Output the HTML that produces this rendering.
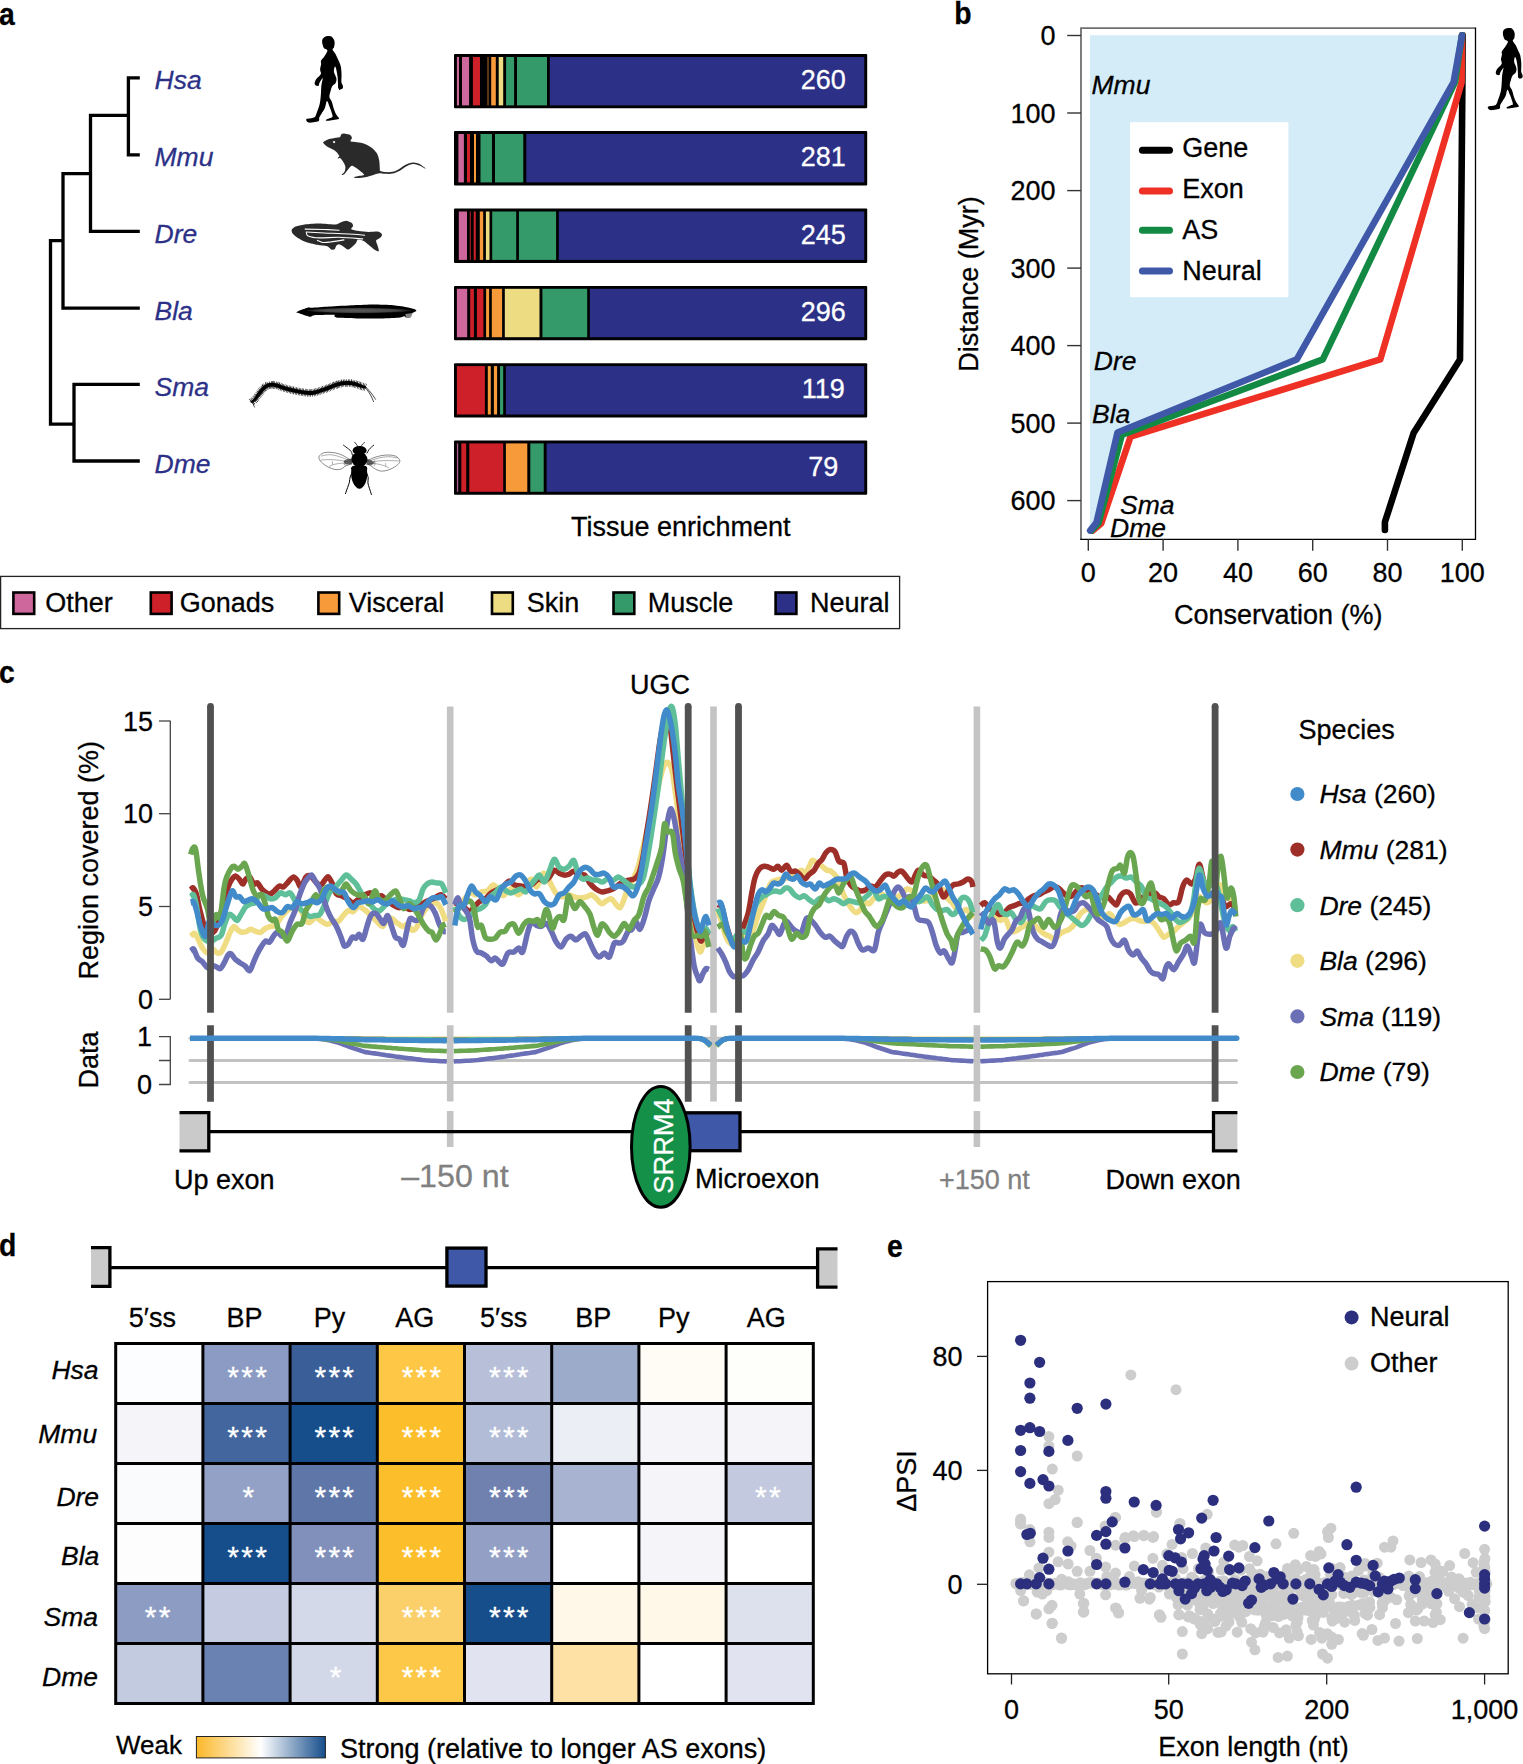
<!DOCTYPE html>
<html lang="en"><head><meta charset="utf-8"><title>Figure</title>
<style>
html,body{margin:0;padding:0;background:#fff;}
body{width:1523px;height:1764px;overflow:hidden;}
svg{display:block;font-family:"Liberation Sans", sans-serif;}
text{stroke-width:.28px;}
</style></head><body>
<svg width="1523" height="1764" viewBox="0 0 1523 1764">
<rect width="1523" height="1764" fill="#fff"/>
<g id="panel-a">
<text transform="translate(-1,24.5) scale(0.9,1)" font-size="31.5" font-weight="bold" stroke="#000">a</text>
<path d="M139.8,77.9H128.4V154.9H139.8M128.4,115.4H90.5V231.4H139.8M90.5,173.7H63V308.1H139.8M63,240.7H50.5V424.2H74M139.8,384.3H74V461H139.8" fill="none" stroke="#000" stroke-width="3.3" stroke-linejoin="miter"/>
<text x="154.5" y="89.1" font-size="26.5" font-style="italic" fill="#2C3187" stroke="#2C3187">Hsa</text>
<text x="154.5" y="166.1" font-size="26.5" font-style="italic" fill="#2C3187" stroke="#2C3187">Mmu</text>
<text x="154.5" y="243.1" font-size="26.5" font-style="italic" fill="#2C3187" stroke="#2C3187">Dre</text>
<text x="154.5" y="319.6" font-size="26.5" font-style="italic" fill="#2C3187" stroke="#2C3187">Bla</text>
<text x="154.5" y="395.6" font-size="26.5" font-style="italic" fill="#2C3187" stroke="#2C3187">Sma</text>
<text x="154.5" y="472.5" font-size="26.5" font-style="italic" fill="#2C3187" stroke="#2C3187">Dme</text>
<rect x="454" y="54" width="413.2" height="54.3" rx="1" fill="#000"/>
<rect x="456.9" y="57" width="2.1" height="48.4" fill="#CE679C"/>
<rect x="462" y="57" width="7.1" height="48.4" fill="#CE679C"/>
<rect x="472.9" y="57" width="7.1" height="48.4" fill="#CE2028"/>
<rect x="487" y="57" width="2" height="48.4" fill="#5A3512"/>
<rect x="491.2" y="57" width="4.6" height="48.4" fill="#F79A3A"/>
<rect x="498.7" y="57" width="4.5" height="48.4" fill="#EEDC82"/>
<rect x="506.1" y="57" width="8" height="48.4" fill="#359A69"/>
<rect x="517" y="57" width="30" height="48.4" fill="#359A69"/>
<rect x="549.8" y="57" width="314.5" height="48.4" fill="#2C3187"/>
<text x="823.3" y="89.2" font-size="27" text-anchor="middle" fill="#fff" stroke="#fff">260</text>
<rect x="454" y="131.1" width="413.2" height="54.3" rx="1" fill="#000"/>
<rect x="458.4" y="134" width="5.5" height="48.4" fill="#CE679C"/>
<rect x="467" y="134" width="3" height="48.4" fill="#CE2028"/>
<rect x="474" y="134" width="2" height="48.4" fill="#F79A3A"/>
<rect x="480.5" y="134" width="11.5" height="48.4" fill="#359A69"/>
<rect x="495" y="134" width="28.3" height="48.4" fill="#359A69"/>
<rect x="526.3" y="134" width="338" height="48.4" fill="#2C3187"/>
<text x="823.3" y="166.3" font-size="27" text-anchor="middle" fill="#fff" stroke="#fff">281</text>
<rect x="454" y="208.6" width="413.2" height="54.3" rx="1" fill="#000"/>
<rect x="458.8" y="211.5" width="8.2" height="48.4" fill="#CE679C"/>
<rect x="469.7" y="211.5" width="1.3" height="48.4" fill="#8E1B1B"/>
<rect x="473.7" y="211.5" width="2.1" height="48.4" fill="#CE2028"/>
<rect x="479.8" y="211.5" width="3.4" height="48.4" fill="#F79A3A"/>
<rect x="485.9" y="211.5" width="3.6" height="48.4" fill="#EEDC82"/>
<rect x="492.2" y="211.5" width="24" height="48.4" fill="#359A69"/>
<rect x="518.9" y="211.5" width="37.2" height="48.4" fill="#359A69"/>
<rect x="558.8" y="211.5" width="305.5" height="48.4" fill="#2C3187"/>
<text x="823.3" y="243.8" font-size="27" text-anchor="middle" fill="#fff" stroke="#fff">245</text>
<rect x="454" y="285.9" width="413.2" height="54.3" rx="1" fill="#000"/>
<rect x="456.9" y="288.8" width="10.3" height="48.4" fill="#CE679C"/>
<rect x="470.2" y="288.8" width="3.7" height="48.4" fill="#CE2028"/>
<rect x="476.9" y="288.8" width="6.5" height="48.4" fill="#CE2028"/>
<rect x="486.1" y="288.8" width="3" height="48.4" fill="#F79A3A"/>
<rect x="491.8" y="288.8" width="10.3" height="48.4" fill="#F79A3A"/>
<rect x="504.8" y="288.8" width="34.7" height="48.4" fill="#EEDC82"/>
<rect x="542.4" y="288.8" width="44.8" height="48.4" fill="#359A69"/>
<rect x="589.9" y="288.8" width="274.4" height="48.4" fill="#2C3187"/>
<text x="823.3" y="321.1" font-size="27" text-anchor="middle" fill="#fff" stroke="#fff">296</text>
<rect x="454" y="363.2" width="413.2" height="54.3" rx="1" fill="#000"/>
<rect x="456.9" y="366.1" width="28" height="48.4" fill="#CE2028"/>
<rect x="487.8" y="366.1" width="3" height="48.4" fill="#F79A3A"/>
<rect x="493.9" y="366.1" width="3.2" height="48.4" fill="#F79A3A"/>
<rect x="500" y="366.1" width="3.2" height="48.4" fill="#359A69"/>
<rect x="505.9" y="366.1" width="358.4" height="48.4" fill="#2C3187"/>
<text x="823.3" y="398.4" font-size="27" text-anchor="middle" fill="#fff" stroke="#fff">119</text>
<rect x="454" y="440.5" width="413.2" height="54.3" rx="1" fill="#000"/>
<rect x="456.9" y="443.4" width="1.3" height="48.4" fill="#B05A8C"/>
<rect x="461.3" y="443.4" width="4.9" height="48.4" fill="#CE2028"/>
<rect x="469.3" y="443.4" width="33.9" height="48.4" fill="#CE2028"/>
<rect x="505.9" y="443.4" width="21.4" height="48.4" fill="#F79A3A"/>
<rect x="530.3" y="443.4" width="13.4" height="48.4" fill="#359A69"/>
<rect x="546.6" y="443.4" width="317.7" height="48.4" fill="#2C3187"/>
<text x="823.3" y="475.7" font-size="27" text-anchor="middle" fill="#fff" stroke="#fff">79</text>
<text x="571" y="535.7" font-size="27" stroke="#000">Tissue enrichment</text>
<rect x="0.6" y="576.4" width="899" height="52.2" fill="#fff" stroke="#222" stroke-width="1.3"/>
<rect x="13.4" y="592.5" width="20.8" height="21.4" fill="#CE679C" stroke="#000" stroke-width="2.6"/>
<text x="45.3" y="611.5" font-size="27" stroke="#000">Other</text>
<rect x="150.8" y="592.5" width="20.8" height="21.4" fill="#CE2028" stroke="#000" stroke-width="2.6"/>
<text x="179.7" y="611.5" font-size="27" stroke="#000">Gonads</text>
<rect x="318.4" y="592.5" width="20.8" height="21.4" fill="#F79A3A" stroke="#000" stroke-width="2.6"/>
<text x="348.8" y="611.5" font-size="27" stroke="#000">Visceral</text>
<rect x="492" y="592.5" width="20.8" height="21.4" fill="#EEDC82" stroke="#000" stroke-width="2.6"/>
<text x="526.7" y="611.5" font-size="27" stroke="#000">Skin</text>
<rect x="613.5" y="592.5" width="20.8" height="21.4" fill="#359A69" stroke="#000" stroke-width="2.6"/>
<text x="647.8" y="611.5" font-size="27" stroke="#000">Muscle</text>
<rect x="775.6" y="592.5" width="20.8" height="21.4" fill="#2C3187" stroke="#000" stroke-width="2.6"/>
<text x="810" y="611.5" font-size="27" stroke="#000">Neural</text>
</g>
<g id="silhouettes-a"><path d="M327.9,36.1C329.1,36.1 330.8,36 331.9,36.9C333,37.8 334.2,39.6 334.5,41.3C334.9,43.1 334.4,45.9 334,47.2C333.7,48.6 332.3,48.4 332.5,49.5C332.8,50.7 334.6,52.4 335.5,54.1C336.5,55.9 337.4,58.2 338.3,60C339.1,61.8 339.9,63.1 340.4,65C341,66.9 341.2,69.3 341.4,71.4C341.6,73.4 341.5,75.5 341.5,77.3C341.5,79.1 341.2,80.8 341.4,82.2C341.6,83.6 342.6,84.6 342.8,85.6C343,86.7 343.1,87.7 342.7,88.3C342.3,88.9 341.2,89.4 340.4,89.4C339.7,89.4 338.7,89.3 338.3,88.3C337.9,87.3 338.1,85.2 338,83.2C337.8,81.2 337.8,78.6 337.5,76.3C337.2,74 336.7,71 336.3,69.4C335.9,67.8 335.3,66.3 334.9,66.6C334.5,67 333.8,69.8 333.9,71.4C334,72.9 335.1,74.5 335.5,75.8C335.9,77.1 336.5,78 336.5,79.2C336.5,80.5 336.2,82 335.5,83.2C334.8,84.3 333.2,84.8 332.4,86.1C331.5,87.5 331.1,89.3 330.6,91.1C330.1,92.9 329.2,95.2 329.4,97C329.6,98.8 331.1,99.9 331.9,101.9C332.6,103.9 333.2,106.8 333.8,108.8C334.5,110.8 335.1,112.3 335.8,113.7C336.5,115.1 337.8,116.3 338.3,117.2C338.7,118.1 339.5,118.6 338.7,119.1C337.8,119.6 335.3,119.8 333.3,120.1C331.4,120.4 328.1,120.9 326.9,120.8C325.7,120.8 325.6,120.3 326,119.8C326.5,119.4 328.3,118.7 329.4,118.2C330.5,117.6 332.2,117.7 332.5,116.7C332.9,115.6 331.9,113.5 331.4,111.7C330.8,110 330.1,108.1 329.4,106.3C328.7,104.6 327.7,100.9 326.9,101.1C326.2,101.4 325.9,105.7 325,107.8C324.1,109.9 322.5,112.1 321.5,113.7C320.6,115.3 319.7,116.2 319.3,117.5C318.8,118.7 319.7,120.3 318.8,121.1C317.8,121.9 315.3,121.9 313.6,122.2C312,122.4 309.9,122.9 308.7,122.6C307.5,122.3 306.6,121 306.3,120.4C306.1,119.8 306.1,119.2 306.9,118.8C307.7,118.5 309.9,118.4 311.2,118.2C312.5,117.9 313.8,118.1 314.8,117.1C315.8,116 316.2,114 317.1,111.7C317.9,109.5 319.2,106.3 319.8,103.4C320.5,100.4 320.7,96.8 320.9,94C321.2,91.2 321,89.3 321.3,86.6C321.6,84 322.7,79.4 322.7,78.3C322.7,77.1 321.9,78.9 321.3,79.7C320.7,80.6 319.7,82.2 319.3,83.2C318.8,84.2 319.1,85.4 318.6,85.7C318,86.1 316.5,85.8 315.8,85.4C315.1,84.9 314.6,84.2 314.6,83.2C314.7,82.2 315.2,80.6 316,79.4C316.8,78.2 318.5,77 319.4,76C320.2,75 320.9,74.4 321,73.3C321.2,72.2 320.1,71 320.1,69.4C320.2,67.8 321,65.4 321.1,64C321.3,62.5 320.5,62 321,60.7C321.6,59.5 323.2,57.9 324.3,56.4C325.3,54.9 326.8,52.6 327.2,51.5C327.7,50.4 327.4,50.2 326.8,49.7C326.3,49.2 324.8,49.2 324.1,48.3C323.4,47.4 322.8,45.7 322.5,44.3C322.2,42.8 321.9,40.9 322.3,39.7C322.7,38.4 323.7,37.5 324.7,36.9C325.6,36.3 326.7,36.1 327.9,36.1Z" fill="#000"/><path d="M323.3,142.1C324,141.3 326.2,140.1 328.4,139.3C330.6,138.6 334.4,138 336.3,137.7C338.2,137.3 339.2,137.5 340,137C340.9,136.5 340.6,135.2 341.2,134.6C341.8,134 342.8,133.7 343.7,133.6C344.6,133.5 345.6,133.9 346.6,134.1C347.7,134.3 349.2,134.4 350.1,135C351,135.6 351.8,136.8 351.9,137.8C352,138.9 349.8,140.6 350.7,141.3C351.5,142 354.6,141.9 357,142.3C359.3,142.7 362.4,143 364.9,143.9C367.3,144.8 369.8,146.2 371.7,147.7C373.7,149.2 375.4,151.1 376.7,153.1C377.9,155.2 378.6,157.5 379.1,160C379.7,162.5 379.6,166.1 379.8,167.9C380,169.7 379.4,170.2 380.2,170.8C381,171.5 382.5,171.9 384.6,172C386.6,172.2 390.1,172.3 392.4,171.8C394.7,171.4 396.2,170.5 398.3,169.4C400.5,168.2 402.8,166.1 405.2,164.9C407.7,163.8 410.7,162.7 413.1,162.6C415.6,162.5 417.9,163.3 420,164.3C422.1,165.4 426.1,168.7 425.9,168.9C425.8,169.1 421.4,166.4 419.2,165.6C417.1,164.8 415.3,163.8 413.1,164C410.9,164.1 408.5,165.3 406.2,166.5C403.9,167.7 401.6,169.9 399.3,171C397,172.2 394.9,173.1 392.4,173.6C390,174.1 386.9,173.8 384.6,173.8C382.3,173.8 380.8,173.1 378.6,173.4C376.5,173.7 374,174.7 371.7,175.4C369.5,176 367,176.9 364.9,177.3C362.7,177.8 360.7,177.9 358.9,177.9C357.2,178 355.3,177.9 354.5,177.7C353.7,177.6 353.5,177.2 354.2,177C355,176.7 357.3,176.3 358.9,176C360.6,175.6 364.1,175.8 364.1,174.8C364.1,173.8 360.8,171.3 358.9,169.9C357.1,168.4 354.5,166.4 353,165.9C351.6,165.5 351.2,166.1 350.1,167.1C348.9,168.1 347.2,170.8 346.1,172C345.1,173.3 344.4,174.2 343.7,174.6C342.9,175 341.6,175 341.7,174.6C341.8,174.1 343.9,173.1 344.5,171.8C345.1,170.5 345.5,168.5 345.4,166.9C345.2,165.3 344.2,163.6 343.4,162.2C342.6,160.7 341.3,158.8 340.4,158.2C339.5,157.6 338.2,158.8 337.9,158.6C337.5,158.5 338,157.6 338.3,157.2C338.5,156.7 339.7,157 339.4,156.2C339.1,155.3 337.5,153.2 336.5,152.1C335.5,151 334.8,150.6 333.3,149.7C331.8,148.8 329,147.8 327.4,146.8C325.9,145.8 324.8,144.6 324.1,143.9C323.4,143.1 322.6,142.8 323.3,142.1Z" fill="#2a2a2a"/><circle cx="334.1" cy="142.1" r="1.1" fill="#fff"/><path d="M291.8,229.5C292.3,228.7 294.1,227.2 295.8,226.6C297.5,225.9 301.5,225 304.6,224.6C307.8,224.2 315.3,223.6 319.4,223.6C323.5,223.6 332.3,224.8 335.2,224.6C338,224.4 339.5,222.7 341.1,222.2C342.6,221.7 345.5,220.7 347,220.9C348.4,221 351.1,222.4 351.9,223.1C352.7,223.8 353.1,225.3 353.1,226.1C353,226.9 350.6,228.6 351.4,229.3C352.2,229.9 356.5,230.7 358.8,231C361.1,231.4 366,231.9 368.6,232C371.3,232.1 376.7,231.4 378.5,231.7C380.3,232 381.8,233.7 382,234.5C382.3,235.2 381.3,236.6 380.5,237.4C379.7,238.2 376.5,239.3 376.1,240.4C375.7,241.4 377.2,243.9 377.5,245.3C377.9,246.8 379.2,250.6 378.8,251.2C378.4,251.8 375.9,250.6 374.6,249.7C373.2,248.9 370.1,246 368.6,244.8C367.2,243.6 365.2,241.6 363.7,240.9C362.3,240.2 358.9,239.3 357.8,239.6C356.8,239.9 357.1,242 355.8,243.3C354.6,244.7 350,249.1 348.5,249.5C346.9,250 345.3,247.6 344,246.9C342.8,246.2 340.1,244.5 339.1,244.3C338.1,244.2 336.9,245.1 336.3,245.8C335.7,246.5 335.3,248.7 334.7,249.2C334,249.7 332.2,249.9 331.2,249.5C330.2,249.1 329.1,246.9 327.3,246.3C325.4,245.7 320.4,245.5 317.4,244.8C314.4,244.2 307.5,242.5 304.6,241.4C301.7,240.3 297.4,237.6 295.8,236.4C294.1,235.3 292.8,233.9 292.3,233C291.8,232.1 291.4,230.4 291.8,229.5Z" fill="#2a2a2a"/><path d="M305.1,229.1C308.3,229.1 318.7,229.3 324.3,229.5C330,229.8 336.6,230.2 339.1,230.3" fill="none" stroke="#fff" stroke-width="1.1" stroke-linecap="round"/><path d="M306.1,232C309.1,232.2 317.2,232.7 324.3,233C331.5,233.3 342.2,233.6 348.9,234C355.7,234.4 362.1,235 364.7,235.3" fill="none" stroke="#fff" stroke-width="1.1" stroke-linecap="round"/><path d="M306.4,232.7C306.7,233.2 305.9,235.1 308.1,235.9C310.2,236.8 314.2,237.7 319.4,237.9C324.6,238.1 331.9,237.1 339.1,237.2C346.3,237.4 358.8,238.6 362.7,238.9" fill="none" stroke="#fff" stroke-width="1.1" stroke-linecap="round"/><path d="M317.4,240.4C318.2,240.7 320.1,242.1 322.4,242.4C324.7,242.6 327.6,242.3 331.2,241.9C334.8,241.4 341.9,240.2 344,239.9" fill="none" stroke="#fff" stroke-width="1.1" stroke-linecap="round"/><path d="M296.3,312.3C296.6,311.8 301.2,309.9 302.7,309.3C304.1,308.8 307.5,307.5 308.6,307.4C309.6,307.2 309.1,307.9 311.5,307.8C313.9,307.6 324.3,306.8 329.2,306.5C334.2,306.2 348.7,305.4 353.9,305.2C359,305 369,304.5 373.6,304.5C378.2,304.5 389.2,304.9 393.3,305.2C397.3,305.5 405.5,306.9 408,307.4C410.6,307.8 414,308.9 414.9,309.3C415.9,309.8 416.5,310.8 416.4,311.1C416.3,311.4 414.4,312 414,312.3C413.5,312.5 412.6,312.7 412.2,313.3C411.7,313.8 410.9,316.7 410.2,317.2C409.5,317.7 407,317.9 406.3,317.8C405.6,317.7 405.2,316.2 404.3,316.2C403.4,316.2 401.2,317.4 398.2,317.7C395.2,318 383.1,318.4 378.5,318.5C373.9,318.6 363.4,318.6 358.8,318.5C354.2,318.4 341.9,318 339.1,317.8C336.2,317.6 335,316.8 334.4,316.4C333.7,316.1 336.1,315 333.8,314.8C331.5,314.7 317.2,315 314.5,315.2C311.8,315.5 311.5,316.7 310.5,316.8C309.6,316.9 307.9,316.2 306.6,315.8C305.3,315.4 300.9,313.8 299.7,313.4C298.5,313 295.9,312.8 296.3,312.3Z" fill="#000"/><defs><radialGradient id="ag"><stop offset="0" stop-color="#5a5a5a"/><stop offset="0.7" stop-color="#484848"/><stop offset="1" stop-color="#111"/></radialGradient></defs><ellipse cx="358.8" cy="310.5" rx="52.2" ry="2.7" fill="url(#ag)"/><path d="M405.3,314.1L412.8,313.1L410.8,317.8L406.1,318.1Z" fill="#9a9a9a" opacity="0.85"/><path d="M251.4,402.2L251.8,401.9L252.4,401.5L253,401.1L253.7,400.6L254.4,399.9L255.1,399.2L255.8,398.4L256.6,397.4L257.4,396.3L258.1,395.1L258.9,394L259.7,393L260.5,392L261.2,391L261.9,390.1L262.7,389.2L263.5,388.4L264.3,387.6L265.2,387L266,386.4L266.9,385.9L267.9,385.5L268.8,385.1L269.8,384.9L270.8,384.7L271.9,384.7L272.9,384.7L274,384.9L275.1,385L276.3,385.3L277.4,385.6L278.6,386L279.8,386.5L281,387L282.3,387.5L283.6,387.9L285,388.3L286.5,388.7L288.1,389.1L289.7,389.5L291.2,389.9L292.8,390.2L294.3,390.6L295.9,390.9L297.4,391.2L298.9,391.5L300.5,391.8L302,392.1L303.5,392.3L305.1,392.6L306.6,392.8L308.1,392.9L309.7,393L311.2,393L312.7,392.8L314.2,392.5L315.8,392.1L317.3,391.7L318.8,391.2L320.4,390.8L321.9,390.3L323.5,389.7L325,389.2L326.6,388.6L328.1,388L329.6,387.5L331,386.9L332.4,386.3L333.8,385.8L335.1,385.2L336.5,384.8L337.8,384.3L339.2,384L340.6,383.7L342,383.4L343.4,383.2L344.8,383.1L346.1,383L347.4,382.9L348.7,383L349.9,383.1L351.1,383.2L352.3,383.4L353.5,383.6L354.6,383.9L355.7,384.2L356.8,384.5L357.8,384.9L358.9,385.3L359.9,385.6L361,386L362.1,386.3L363.2,386.7L364.1,387L365,387.3L365.6,387.5" fill="none" stroke="#000" stroke-width="7.6" stroke-dasharray="0.55 0.95"/><path d="M252,402.9L252.4,402.7L253,402.4L253.7,402L254.5,401.5L255.3,400.9L256.2,400.2L257,399.3L257.9,398.3L258.7,397.2L259.6,396.1L260.4,395.1L261.2,394.1L262,393.2L262.7,392.2L263.4,391.3L264.1,390.5L264.8,389.7L265.5,389.1L266.3,388.6L267,388L267.8,387.6L268.6,387.2L269.4,387L270.2,386.8L271,386.6L271.9,386.6L272.8,386.6L273.8,386.7L274.8,386.9L275.8,387.1L276.8,387.4L277.9,387.8L279,388.2L280.3,388.7L281.6,389.3L283,389.7L284.5,390.2L286.1,390.6L287.6,391L289.2,391.4L290.8,391.7L292.4,392.1L293.9,392.4L295.5,392.8L297,393.1L298.6,393.4L300.1,393.7L301.7,393.9L303.2,394.2L304.8,394.4L306.3,394.7L308,394.8L309.6,394.9L311.3,394.9L313,394.7L314.6,394.4L316.3,394L317.8,393.5L319.4,393.1L320.9,392.6L322.5,392.1L324.1,391.5L325.7,391L327.2,390.4L328.8,389.8L330.2,389.2L331.7,388.7L333.1,388.1L334.5,387.5L335.8,387L337.1,386.6L338.4,386.2L339.7,385.8L341,385.5L342.3,385.3L343.7,385.1L345,384.9L346.2,384.9L347.4,384.8L348.6,384.9L349.7,385L350.9,385.1L352,385.3L353.1,385.5L354.1,385.7L355.1,386L356.2,386.3L357.3,386.6L358.3,386.9L359.4,387.1L360.5,387.4L361.6,387.7L362.7,388L363.8,388.2L364.6,388.4L365.3,388.5L365.9,386.4L365.4,386.1L364.5,385.8L363.6,385.4L362.5,385L361.4,384.5L360.4,384.1L359.4,383.7L358.4,383.3L357.4,382.8L356.3,382.4L355.1,382L353.8,381.7L352.6,381.5L351.4,381.3L350.1,381.2L348.8,381.1L347.4,381L346,381.1L344.6,381.2L343.2,381.3L341.7,381.5L340.3,381.8L338.8,382.1L337.3,382.5L335.9,383L334.4,383.5L333,384L331.7,384.6L330.3,385.1L328.9,385.7L327.4,386.2L325.9,386.8L324.4,387.4L322.8,388L321.3,388.5L319.8,389L318.3,389.4L316.8,389.9L315.3,390.3L313.8,390.7L312.4,390.9L311.1,391.1L309.7,391.1L308.3,391L306.8,390.9L305.3,390.7L303.8,390.4L302.3,390.2L300.8,389.9L299.3,389.7L297.8,389.4L296.3,389L294.7,388.7L293.2,388.4L291.7,388L290.1,387.7L288.5,387.3L287,386.9L285.5,386.5L284.2,386.1L282.9,385.7L281.7,385.2L280.5,384.7L279.2,384.2L278,383.8L276.7,383.4L275.5,383.2L274.3,383L273.1,382.8L271.9,382.8L270.6,382.9L269.4,383L268.3,383.3L267.2,383.7L266.1,384.2L265.1,384.8L264.1,385.5L263.1,386.2L262.2,387L261.3,387.9L260.5,388.9L259.7,389.9L259,390.8L258.2,391.8L257.4,392.9L256.7,394.1L256,395.3L255.3,396.4L254.6,397.4L254.1,398.3L253.5,399L252.9,399.6L252.3,400.2L251.7,400.6L251.3,401.1L250.9,401.4Z" fill="#000" stroke="#000" stroke-width="0.4" stroke-linejoin="round"/><path d="M365,387.3C365.8,388.4 368.6,391.6 370,394.1C371.5,396.5 373.1,400.6 373.7,401.9" fill="none" stroke="#111" stroke-width="0.8"/><path d="M365.9,386.9C366.9,388.1 370.2,391.8 371.8,393.9C373.5,396 375.1,398.6 375.7,399.6" fill="none" stroke="#111" stroke-width="0.8"/><path d="M253.1,402.4C253.2,402.8 253.4,404.1 253.6,404.9C253.9,405.8 254.6,407 254.7,407.4" fill="none" stroke="#111" stroke-width="0.8"/><path d="M252.2,402.4C252,402.4 251.2,402.5 250.9,402.4C250.5,402.2 250.3,401.7 250.1,401.5" fill="none" stroke="#111" stroke-width="0.8"/><path d="M352,461.3C351.4,460.2 348.8,458.9 346.8,457.7C344.7,456.4 342.1,454.9 339.5,454C337,453.2 334.2,452.6 331.7,452.4C329.2,452.2 326.4,452.1 324.4,452.6C322.5,453.1 320.7,454.3 319.8,455.4C319,456.4 318.6,457.5 319.1,458.8C319.5,460.1 320.9,461.8 322.5,463.2C324,464.6 326.3,466.1 328.4,467.2C330.5,468.2 332.9,469.1 335,469.5C337,469.8 339.1,469.7 340.9,469.1C342.6,468.6 343.8,466.9 345.5,466C347.1,465.1 349.6,464.7 350.7,463.9C351.8,463.1 352.7,462.3 352,461.3Z" fill="#fff" stroke="#2a2a2a" stroke-width="0.55"/><path d="M367.1,461.3C368,460.3 370.7,458.9 373,458C375.3,457.1 378.3,456.2 380.9,455.7C383.5,455.2 386.4,455 388.8,455C391.2,455.1 393.6,455.3 395.4,456C397.1,456.7 398.6,458.2 399.3,459.3C400,460.4 400.1,461.4 399.4,462.6C398.8,463.8 397.1,465.3 395.4,466.5C393.6,467.7 391.1,469 388.8,469.8C386.5,470.6 383.8,471.2 381.6,471.1C379.4,471 377.4,470.1 375.7,469.3C373.9,468.4 372.4,466.9 371.1,466C369.8,465.1 368.4,464.7 367.8,463.9C367.1,463.1 366.2,462.2 367.1,461.3Z" fill="#fff" stroke="#2a2a2a" stroke-width="0.55"/><path d="M351.4,461.6C349.4,460.8 343.2,457.8 339.5,456.7C335.9,455.5 332.8,454.8 329.7,454.7C326.6,454.6 322.6,455.8 321.2,456" fill="none" stroke="#333" stroke-width="0.4"/><path d="M351,462.2C349.1,461.9 343.1,460.7 339.5,460.3C336,459.8 332.9,459.7 329.7,459.6C326.5,459.6 322,459.9 320.5,460" fill="none" stroke="#333" stroke-width="0.4"/><path d="M350.7,463.1C349.2,463.1 344.4,463 341.5,463.2C338.7,463.5 335.7,464 333.6,464.5C331.6,465.1 329.8,466.2 329,466.5" fill="none" stroke="#333" stroke-width="0.4"/><path d="M332.3,461.3C332.4,461.8 332.6,464 332.7,464.5" fill="none" stroke="#333" stroke-width="0.4"/><path d="M345.5,460C345.2,460.6 344.1,462.9 344.1,463.9C344.1,464.9 345.2,465.5 345.5,465.9" fill="none" stroke="#333" stroke-width="0.4"/><path d="M367.8,461.6C369.6,461 375.4,458.8 378.9,458C382.4,457.2 385.6,456.7 388.8,456.7C392,456.7 396.5,457.8 398,458" fill="none" stroke="#333" stroke-width="0.4"/><path d="M368.1,462.4C369.9,462.2 375.5,461.2 378.9,460.9C382.4,460.6 385.4,460.6 388.8,460.6C392.2,460.6 397.5,460.9 399.3,460.9" fill="none" stroke="#333" stroke-width="0.4"/><path d="M368.4,463.4C369.9,463.5 374.5,463.5 377,463.9C379.5,464.3 381.6,464.9 383.5,465.5C385.5,466.2 387.9,467.4 388.8,467.8" fill="none" stroke="#333" stroke-width="0.4"/><path d="M385.5,463.2C385.6,463.7 385.8,465.4 385.8,465.9" fill="none" stroke="#333" stroke-width="0.4"/><path d="M374.3,460.3C374.5,460.9 375.1,462.9 375,463.9C374.9,464.9 374.2,465.8 374,466.2" fill="none" stroke="#333" stroke-width="0.4"/><path d="M352,458.6L346.8,459.3L343.5,461.3L345.5,464.5L352,464.5Z" fill="#000" opacity="0.55"/><path d="M366.5,458.6L371.1,460.3L374.7,462.6L371.7,465.3L366.5,464.9Z" fill="#000" opacity="0.55"/><ellipse cx="359.6" cy="450.4" rx="7" ry="4.3" fill="#000"/><ellipse cx="359.4" cy="459.4" rx="8" ry="7.4" fill="#000"/><path d="M353,465.9C350.6,466.8 351.5,469.8 351.2,471.8C351,473.7 351.1,475.7 351.5,477.7C351.9,479.6 352.6,481.9 353.5,483.6C354.3,485.2 355.6,486.7 356.6,487.5C357.6,488.4 358.4,488.9 359.4,488.8C360.4,488.8 361.5,488.3 362.5,487.3C363.5,486.3 364.7,484.6 365.5,482.9C366.2,481.2 366.9,478.9 367.1,477C367.4,475.2 367.4,473.6 367.1,471.8C366.9,469.9 368,466.8 365.7,465.9C363.3,464.9 355.4,464.9 353,465.9Z" fill="#000"/><path d="M352.7,456C352.4,455.3 351.9,452.7 351.2,451.5C350.6,450.4 350,450.2 348.7,449.1C347.4,448.1 344.4,445.8 343.5,445.2" fill="none" stroke="#000" stroke-width="0.9" stroke-linecap="round"/><path d="M367,453.1C367.3,452.5 368.4,450.4 369.1,449.4C369.8,448.5 370.6,447.9 371.4,447.1C372.2,446.4 373.3,445.5 373.7,445.2" fill="none" stroke="#000" stroke-width="0.9" stroke-linecap="round"/><path d="M352,472.8C351.7,473.5 350.6,475.4 350.2,477C349.7,478.6 349.8,480.5 349.4,482.3C349,484 348.2,485.6 347.6,487.5C346.9,489.4 345.8,492.6 345.5,493.6" fill="none" stroke="#000" stroke-width="1.0" stroke-linecap="round"/><path d="M366.5,472.8C366.8,473.6 367.9,476 368.2,477.7C368.4,479.4 367.7,481.2 367.9,482.9C368.1,484.7 368.8,486.3 369.4,488.2C370,490.1 371.1,493.4 371.4,494.5" fill="none" stroke="#000" stroke-width="1.0" stroke-linecap="round"/><path d="M357.8,446.5C357.5,446.1 356.8,444.9 356.3,444.2C355.8,443.5 354.9,442.6 354.6,442.2" fill="none" stroke="#000" stroke-width="0.8" stroke-linecap="round"/><path d="M360.9,446.5C361.2,446.1 361.9,445 362.5,444.3C363.1,443.7 364.2,442.8 364.5,442.6" fill="none" stroke="#000" stroke-width="0.8" stroke-linecap="round"/><path d="M355.3,466.4C355,466.5 354,466.8 353.3,467.2C352.7,467.5 351.8,468.2 351.5,468.4" fill="none" stroke="#000" stroke-width="1.3" stroke-linecap="round"/><path d="M363.5,466.4C363.8,466.5 364.8,466.9 365.3,467.3C365.8,467.7 366.4,468.4 366.6,468.6" fill="none" stroke="#000" stroke-width="1.3" stroke-linecap="round"/></g>
<g id="panel-b">
<text transform="translate(954.2,24.4) scale(0.9,1)" font-size="31.5" font-weight="bold" stroke="#000">b</text>
<path d="M1090,35.3L1462,35.3L1453.6,82.1L1296.8,359.4L1117.5,432.5L1096.5,522.5L1090.2,530.6L1090,530.6Z" fill="#D4ECF8"/>
<rect x="1130.1" y="122.2" width="158.3" height="174.9" fill="#fff"/>
<path d="M1462.6,35.3L1462.4,82.1L1460,359.4L1413.6,432.9L1384.9,522.1L1384.9,530" fill="none" stroke="#000" stroke-width="6.6" stroke-linejoin="round" stroke-linecap="round"/>
<path d="M1462,35.3L1461.6,82.5L1380.3,359.4L1130.6,436.5L1101.2,523.5L1092.5,530.6" fill="none" stroke="#EE3124" stroke-width="6.6" stroke-linejoin="round" stroke-linecap="round"/>
<path d="M1462,35.3L1455,82.1L1322.8,359.4L1121.8,435L1098.6,523L1091.5,530.6" fill="none" stroke="#128A43" stroke-width="6.6" stroke-linejoin="round" stroke-linecap="round"/>
<path d="M1462,35.3L1453.6,82.1L1296.8,359.4L1117.5,432.5L1096.5,522.5L1090.2,530.6" fill="none" stroke="#3F58A8" stroke-width="6.6" stroke-linejoin="round" stroke-linecap="round"/>
<path d="M1081,539.3V28.1H1475.5" fill="none" stroke="#707070" stroke-width="1.8"/>
<path d="M1475.5,27.5V539.3H1080.2" fill="none" stroke="#000" stroke-width="1.3"/>
<path d="M1067.2,35.5H1081" stroke="#333" stroke-width="1.4"/>
<text x="1055.5" y="45.2" font-size="27" text-anchor="end" stroke="#000">0</text>
<path d="M1067.2,113H1081" stroke="#333" stroke-width="1.4"/>
<text x="1055.5" y="122.8" font-size="27" text-anchor="end" stroke="#000">100</text>
<path d="M1067.2,190.6H1081" stroke="#333" stroke-width="1.4"/>
<text x="1055.5" y="200.2" font-size="27" text-anchor="end" stroke="#000">200</text>
<path d="M1067.2,268.1H1081" stroke="#333" stroke-width="1.4"/>
<text x="1055.5" y="277.8" font-size="27" text-anchor="end" stroke="#000">300</text>
<path d="M1067.2,345.6H1081" stroke="#333" stroke-width="1.4"/>
<text x="1055.5" y="355.2" font-size="27" text-anchor="end" stroke="#000">400</text>
<path d="M1067.2,423.1H1081" stroke="#333" stroke-width="1.4"/>
<text x="1055.5" y="432.8" font-size="27" text-anchor="end" stroke="#000">500</text>
<path d="M1067.2,500.6H1081" stroke="#333" stroke-width="1.4"/>
<text x="1055.5" y="510.2" font-size="27" text-anchor="end" stroke="#000">600</text>
<path d="M1088.3,539.3V550.8" stroke="#333" stroke-width="1.4"/>
<text x="1088.3" y="582.3" font-size="27" text-anchor="middle" stroke="#000">0</text>
<path d="M1163.1,539.3V550.8" stroke="#333" stroke-width="1.4"/>
<text x="1163.1" y="582.3" font-size="27" text-anchor="middle" stroke="#000">20</text>
<path d="M1237.9,539.3V550.8" stroke="#333" stroke-width="1.4"/>
<text x="1237.9" y="582.3" font-size="27" text-anchor="middle" stroke="#000">40</text>
<path d="M1312.7,539.3V550.8" stroke="#333" stroke-width="1.4"/>
<text x="1312.7" y="582.3" font-size="27" text-anchor="middle" stroke="#000">60</text>
<path d="M1387.5,539.3V550.8" stroke="#333" stroke-width="1.4"/>
<text x="1387.5" y="582.3" font-size="27" text-anchor="middle" stroke="#000">80</text>
<path d="M1462.3,539.3V550.8" stroke="#333" stroke-width="1.4"/>
<text x="1462.3" y="582.3" font-size="27" text-anchor="middle" stroke="#000">100</text>
<text x="1278.3" y="624.4" font-size="27" text-anchor="middle" stroke="#000">Conservation (%)</text>
<text transform="translate(977.5,284) rotate(-90)" font-size="27" text-anchor="middle" stroke="#000">Distance (Myr)</text>
<path d="M1142.4,150.3H1169.5" stroke="#000" stroke-width="7" stroke-linecap="round"/>
<text x="1182.3" y="157.4" font-size="27" stroke="#000">Gene</text>
<path d="M1142.4,190.9H1169.5" stroke="#EE3124" stroke-width="7" stroke-linecap="round"/>
<text x="1182.3" y="198" font-size="27" stroke="#000">Exon</text>
<path d="M1142.4,230.3H1169.5" stroke="#128A43" stroke-width="7" stroke-linecap="round"/>
<text x="1182.3" y="238.9" font-size="27" stroke="#000">AS</text>
<path d="M1142.4,271.1H1169.5" stroke="#3F58A8" stroke-width="7" stroke-linecap="round"/>
<text x="1182.3" y="280.1" font-size="27" stroke="#000">Neural</text>
<text x="1091.5" y="93.5" font-size="26.5" font-style="italic" stroke="#000">Mmu</text>
<text x="1093.8" y="369.8" font-size="26.5" font-style="italic" stroke="#000">Dre</text>
<text x="1092" y="422.6" font-size="26.5" font-style="italic" stroke="#000">Bla</text>
<text x="1120" y="514.2" font-size="26.5" font-style="italic" stroke="#000">Sma</text>
<text x="1110" y="536.9" font-size="26.5" font-style="italic" stroke="#000">Dme</text>
<path d="M1508.4,28C1509.5,28 1511.1,27.9 1512.1,28.7C1513.2,29.6 1514.3,31.3 1514.6,32.9C1515,34.6 1514.5,37.3 1514.2,38.6C1513.9,39.8 1512.5,39.6 1512.8,40.7C1513,41.8 1514.7,43.4 1515.6,45.1C1516.5,46.8 1517.4,49 1518.2,50.7C1519,52.4 1519.8,53.6 1520.3,55.4C1520.7,57.2 1521,59.5 1521.2,61.5C1521.4,63.4 1521.3,65.3 1521.3,67.1C1521.3,68.8 1521,70.4 1521.2,71.7C1521.4,73.1 1522.3,74 1522.5,75C1522.7,76 1522.8,76.9 1522.4,77.5C1522,78.1 1521,78.6 1520.3,78.6C1519.5,78.6 1518.6,78.5 1518.2,77.5C1517.8,76.5 1518,74.6 1517.9,72.7C1517.8,70.8 1517.7,68.3 1517.4,66.1C1517.2,63.9 1516.7,61.1 1516.3,59.6C1515.9,58.1 1515.4,56.7 1515,57C1514.6,57.3 1514,60 1514.1,61.5C1514.2,62.9 1515.2,64.4 1515.6,65.7C1516,66.9 1516.5,67.8 1516.5,68.9C1516.5,70.1 1516.2,71.6 1515.6,72.7C1514.9,73.8 1513.4,74.2 1512.6,75.5C1511.8,76.7 1511.4,78.4 1510.9,80.1C1510.4,81.9 1509.6,84 1509.8,85.8C1510,87.5 1511.4,88.6 1512.1,90.4C1512.8,92.3 1513.4,95.1 1514,97C1514.6,98.8 1515.2,100.3 1515.9,101.6C1516.6,103 1517.7,104.1 1518.2,104.9C1518.6,105.8 1519.3,106.3 1518.6,106.8C1517.8,107.2 1515.4,107.4 1513.5,107.7C1511.7,108 1508.6,108.4 1507.4,108.4C1506.3,108.3 1506.2,107.9 1506.6,107.4C1507,107 1508.8,106.3 1509.8,105.8C1510.8,105.3 1512.5,105.5 1512.8,104.4C1513.1,103.4 1512.2,101.4 1511.7,99.8C1511.2,98.1 1510.5,96.3 1509.8,94.6C1509.1,92.9 1508.1,89.4 1507.4,89.7C1506.7,89.9 1506.4,94 1505.6,96C1504.7,98 1503.2,100.1 1502.3,101.6C1501.4,103.2 1500.6,104 1500.2,105.2C1499.7,106.4 1500.6,107.9 1499.7,108.6C1498.8,109.4 1496.4,109.4 1494.8,109.7C1493.2,109.9 1491.3,110.3 1490.2,110.1C1489,109.8 1488.2,108.6 1487.9,108C1487.6,107.4 1487.7,106.9 1488.5,106.5C1489.2,106.1 1491.2,106.1 1492.5,105.8C1493.7,105.6 1495,105.8 1496,104.8C1496.9,103.8 1497.3,101.9 1498.1,99.8C1498.9,97.6 1500.1,94.6 1500.7,91.8C1501.3,89 1501.5,85.6 1501.7,82.9C1502,80.3 1501.8,78.4 1502.1,75.9C1502.4,73.4 1503.4,69.1 1503.4,68C1503.4,66.9 1502.7,68.6 1502.1,69.4C1501.6,70.2 1500.6,71.7 1500.2,72.7C1499.7,73.6 1500,74.8 1499.5,75.1C1499,75.4 1497.5,75.1 1496.9,74.7C1496.3,74.3 1495.7,73.6 1495.8,72.7C1495.8,71.7 1496.3,70.3 1497.1,69.1C1497.8,68 1499.5,66.8 1500.3,65.8C1501,64.9 1501.7,64.4 1501.8,63.3C1502,62.3 1501,61.1 1501,59.6C1501,58.1 1501.8,55.8 1501.9,54.4C1502.1,53.1 1501.3,52.6 1501.8,51.4C1502.3,50.2 1503.9,48.7 1504.9,47.2C1505.9,45.8 1507.3,43.6 1507.7,42.6C1508.1,41.5 1507.9,41.4 1507.4,40.9C1506.9,40.4 1505.4,40.4 1504.7,39.6C1504.1,38.7 1503.5,37.1 1503.2,35.8C1503,34.4 1502.7,32.5 1503.1,31.4C1503.4,30.2 1504.4,29.3 1505.3,28.7C1506.2,28.2 1507.2,28 1508.4,28Z" fill="#000"/>
</g>
<g id="panel-c">
<text transform="translate(-1,682.5) scale(0.9,1)" font-size="31.5" font-weight="bold" stroke="#000">c</text>
<path d="M170.3,720.7V999.3" stroke="#444" stroke-width="1.3" fill="none"/>
<path d="M159,721H170.3" stroke="#444" stroke-width="1.3"/>
<text x="153" y="730.5" font-size="27" text-anchor="end" stroke="#000">15</text>
<path d="M159,813.7H170.3" stroke="#444" stroke-width="1.3"/>
<text x="153" y="823.2" font-size="27" text-anchor="end" stroke="#000">10</text>
<path d="M159,906.5H170.3" stroke="#444" stroke-width="1.3"/>
<text x="153" y="916" font-size="27" text-anchor="end" stroke="#000">5</text>
<path d="M159,999.3H170.3" stroke="#444" stroke-width="1.3"/>
<text x="153" y="1008.8" font-size="27" text-anchor="end" stroke="#000">0</text>
<text transform="translate(98.3,860.3) rotate(-90)" font-size="27" text-anchor="middle" stroke="#000">Region covered (%)</text>
<path d="M450.2,706.5V1012.7M450.2,1025.3V1101.5" stroke="#C4C4C4" stroke-width="6.6"/>
<path d="M713.5,706.5V1012.7M713.5,1025.3V1101.5" stroke="#C4C4C4" stroke-width="6.6"/>
<path d="M976.9,706.5V1012.7M976.9,1025.3V1101.5" stroke="#C4C4C4" stroke-width="6.6"/>
<path d="M450.2,1111V1147" stroke="#C4C4C4" stroke-width="6.6"/>
<path d="M976.9,1111V1147" stroke="#C4C4C4" stroke-width="6.6"/>
<path d="M190.7,936.2C191.3,935.7 193.3,932.6 194.6,933.3C195.9,933.9 197.2,937.7 198.6,940.1C199.9,942.6 201,945.9 202.5,948C204,950.2 205.8,952.8 207.4,953C209.1,953.1 210.7,949 212.3,949C214,949 215.8,952.5 217.3,953C218.7,953.4 219.7,953.8 221.2,952C222.7,950.2 224.7,945.4 226.1,942.1C227.6,938.8 228.8,934.9 230.1,932.3C231.4,929.6 232.7,926.7 234,926.4C235.3,926 236.6,929.3 238,930.3C239.3,931.3 240.4,932.1 241.9,932.3C243.4,932.4 245.3,931.8 246.8,931.3C248.3,930.8 249.3,929.3 250.8,929.3C252.2,929.3 254,930.8 255.7,931.3C257.3,931.8 259,932.8 260.6,932.3C262.2,931.8 263.9,929.3 265.5,928.3C267.2,927.3 268.8,926.9 270.5,926.4C272.1,925.9 273.7,926.7 275.4,925.4C277,924.1 278.7,920.6 280.3,918.5C281.9,916.3 283.6,914.2 285.2,912.6C286.9,910.9 288.3,909.6 290.1,908.6C292,907.6 294.3,906.3 296.1,906.7C297.9,907 299.3,908.3 301,910.6C302.6,912.9 304.4,918.5 305.9,920.5C307.4,922.4 308.2,922.9 309.8,922.4C311.5,921.9 313.8,917.7 315.8,917.5C317.7,917.3 319.7,920.3 321.7,921.4C323.6,922.6 325.6,924.4 327.6,924.4C329.5,924.4 331.7,921.9 333.5,921.4C335.3,920.9 336.8,922.4 338.4,921.4C340,920.5 341.7,917.3 343.3,915.5C345,913.7 346.6,911.3 348.3,910.6C349.9,909.9 351.5,912.2 353.2,911.6C354.8,910.9 356.5,907.2 358.1,906.7C359.7,906.2 361.4,907.6 363,908.6C364.7,909.6 366.3,911.1 368,912.6C369.6,914 371.2,915.9 372.9,917.5C374.5,919.1 376.2,920.9 377.8,922.4C379.4,923.9 381.2,926.9 382.7,926.4C384.2,925.9 385.2,920.8 386.7,919.5C388.1,918.2 389.9,918 391.6,918.5C393.2,919 394.7,921.1 396.5,922.4C398.3,923.7 400.6,926 402.4,926.4C404.2,926.7 405.7,923.7 407.3,924.4C409,925 410.6,930 412.3,930.3C413.9,930.6 415.7,928.7 417.2,926.4C418.7,924.1 419.7,919.5 421.1,916.5C422.6,913.6 424.4,910.8 426.1,908.6C427.7,906.5 429.3,904.7 431,903.7C432.6,902.7 434.3,901.9 435.9,902.7C437.5,903.5 439.2,905.5 440.8,908.6C442.5,911.8 444.9,919.3 445.8,921.4M454.8,912.6C455.6,911.3 457.9,907.2 459.7,904.7C461.5,902.2 463.8,899.8 465.6,897.8C467.4,895.8 468.9,893.4 470.5,892.9C472.2,892.4 473.6,895 475.5,894.8C477.3,894.7 479.4,892.5 481.4,891.9C483.3,891.2 485.3,892.1 487.3,890.9C489.2,889.8 491.4,885.2 493.2,885C495,884.8 496.5,888.1 498.1,889.9C499.7,891.7 501.4,895.7 503,895.8C504.7,896 506.3,892.1 508,890.9C509.6,889.8 511.2,888.3 512.9,888.9C514.5,889.6 516.2,894.5 517.8,894.8C519.4,895.2 521.1,893 522.7,890.9C524.4,888.8 526.2,884 527.7,882C529.1,880.1 530.1,878.3 531.6,879.1C533.1,879.9 535,887 536.5,887C538,887 539.3,881.4 540.5,879.1C541.6,876.8 542.3,873.5 543.4,873.2C544.6,872.9 545.9,874.8 547.3,877.1C548.8,879.4 550.6,884 552.3,887C553.9,889.9 555.6,893.2 557.2,894.8C558.8,896.5 560.5,896.8 562.1,896.8C563.8,896.8 565.4,895 567,894.8C568.7,894.7 570.3,895.3 572,895.8C573.6,896.3 575.3,897.5 576.9,897.8C578.5,898.1 580.2,898 581.8,897.8C583.5,897.6 585.1,897.3 586.7,896.8C588.4,896.3 590,894.5 591.7,894.8C593.3,895.2 594.9,897.3 596.6,898.8C598.2,900.3 599.9,903.4 601.5,903.7C603.2,904 604.8,901.6 606.4,900.8C608.1,899.9 609.7,898.1 611.4,898.8C613,899.4 614.8,903.2 616.3,904.7C617.8,906.2 618.9,908.6 620.2,907.6C621.5,906.7 622.9,902.2 624.2,898.8C625.5,895.3 626.6,890.2 628.1,887C629.6,883.7 631.4,882.4 633,879.1C634.7,875.8 636.3,872.5 638,867.3C639.6,862 641.2,854.1 642.9,847.6C644.5,841 646.2,834.1 647.8,827.9C649.4,821.6 651.2,815.7 652.7,810.1C654.2,804.6 655.4,800 656.7,794.4C658,788.8 659.3,781.6 660.6,776.7C661.9,771.7 663.2,767.1 664.5,764.8C665.9,762.5 667.2,761.6 668.5,762.9C669.8,764.2 671.1,766.5 672.4,772.7C673.7,779 675,791.1 676.4,800.3C677.7,809.5 679,818.7 680.3,827.9C681.6,837.1 682.9,845.6 684.2,855.5C685.6,865.3 686.9,876.8 688.2,887C689.5,897.1 690.8,907.6 692.1,916.5C693.4,925.4 694.7,934.2 696.1,940.1C697.4,946.1 698.7,951.3 700,952C701.3,952.6 702.5,945.7 703.9,944.1C705.4,942.4 708,942.4 708.9,942.1M717.7,910.6C718.4,912.6 720.2,917.8 721.7,922.4C723.1,927 724.9,934.6 726.6,938.2C728.2,941.8 729.9,943.4 731.5,944.1C733.2,944.7 734.8,942.9 736.4,942.1C738.1,941.3 739.7,940.5 741.4,939.2C743,937.8 744.6,935.1 746.3,934.2C747.9,933.4 749.7,935.9 751.2,934.2C752.7,932.6 753.8,928 755.2,924.4C756.5,920.8 757.6,916.5 759.1,912.6C760.6,908.6 762.5,904.7 764,900.8C765.5,896.8 766.6,892.1 768,888.9C769.3,885.8 770.4,883.5 771.9,882C773.4,880.6 775.2,880.6 776.8,880.1C778.5,879.6 780.1,879.4 781.7,879.1C783.4,878.8 785,878.6 786.7,878.1C788.3,877.6 789.9,877 791.6,876.1C793.2,875.3 794.9,874.2 796.5,873.2C798.2,872.2 800,870.2 801.4,870.2C802.9,870.2 804.1,873.8 805.4,873.2C806.7,872.5 808.2,868.4 809.3,866.3C810.5,864.2 811,860.9 812.3,860.4C813.6,859.9 815.6,862.3 817.2,863.3C818.8,864.3 820.5,865.1 822.1,866.3C823.8,867.4 825.6,869.4 827,870.2C828.5,871 829.5,870.2 831,871.2C832.5,872.2 834.4,873.8 835.9,876.1C837.4,878.4 838.5,881.9 839.8,885C841.2,888.1 842.5,891.9 843.8,894.8C845.1,897.8 846.4,900.4 847.7,902.7C849,905 850.4,907 851.7,908.6C853,910.3 854.1,912.4 855.6,912.6C857.1,912.7 858.9,911.3 860.5,909.6C862.2,908 864,903.7 865.5,902.7C866.9,901.7 868.1,904.4 869.4,903.7C870.7,903.1 871.9,900.1 873.3,898.8C874.8,897.5 876.6,896.5 878.3,895.8C879.9,895.2 881.5,894.4 883.2,894.8C884.8,895.3 886.5,897.8 888.1,898.8C889.7,899.8 891.4,901.1 893,900.8C894.7,900.4 896.3,898.1 898,896.8C899.6,895.5 901.4,894.2 902.9,892.9C904.4,891.6 905.3,889.3 906.8,888.9C908.3,888.6 910.1,889.6 911.7,890.9C913.4,892.2 914.9,895.2 916.7,896.8C918.5,898.5 920.6,900.3 922.6,900.8C924.5,901.2 926.7,900.8 928.5,899.8C930.3,898.8 931.8,896.3 933.4,894.8C935,893.4 936.7,891.7 938.3,890.9C940,890.1 941.8,888.8 943.3,889.9C944.7,891.1 945.7,895.7 947.2,897.8C948.7,899.9 950.5,900.8 952.1,902.7C953.8,904.7 955.4,908.1 957,909.6C958.7,911.1 960.3,911.6 962,911.6C963.6,911.6 965.1,908.5 966.9,909.6C968.7,910.8 971.8,917 972.8,918.5M980.7,924.4C981.5,923.7 984,921.4 985.6,920.5C987.2,919.5 988.9,919 990.5,918.5C992.2,918 993.8,917.2 995.5,917.5C997.1,917.8 998.7,920.3 1000.4,920.5C1002,920.6 1003.7,916.8 1005.3,918.5C1006.9,920.1 1008.6,928.2 1010.2,930.3C1011.9,932.4 1013.5,931.6 1015.2,931.3C1016.8,931 1018.4,929.3 1020.1,928.3C1021.7,927.3 1023.4,926.4 1025,925.4C1026.6,924.4 1028.3,922.4 1029.9,922.4C1031.6,922.4 1033.2,924.1 1034.8,925.4C1036.5,926.7 1038.1,928.8 1039.8,930.3C1041.4,931.8 1043.1,933.3 1044.7,934.2C1046.3,935.2 1048,935.4 1049.6,936.2C1051.3,937 1052.9,939.5 1054.5,939.2C1056.2,938.8 1057.8,935.6 1059.5,934.2C1061.1,932.9 1062.8,932.1 1064.4,931.3C1066,930.5 1067.7,930.5 1069.3,929.3C1071,928.2 1072.6,926.7 1074.2,924.4C1075.9,922.1 1077.5,917.8 1079.2,915.5C1080.8,913.2 1082.4,911.6 1084.1,910.6C1085.7,909.6 1087.4,909 1089,909.6C1090.7,910.3 1092.3,913.4 1093.9,914.5C1095.6,915.7 1097.2,916 1098.9,916.5C1100.5,917 1102,918 1103.8,917.5C1105.6,917 1107.9,913.2 1109.7,913.6C1111.5,913.9 1113,917.7 1114.6,919.5C1116.3,921.3 1117.9,923.9 1119.5,924.4C1121.2,924.9 1122.8,923.2 1124.5,922.4C1126.1,921.6 1127.7,920.1 1129.4,919.5C1131,918.8 1132.7,918.3 1134.3,918.5C1136,918.6 1137.6,920 1139.2,920.5C1140.9,920.9 1142.5,921.4 1144.2,921.4C1145.8,921.4 1147.4,920.1 1149.1,920.5C1150.7,920.8 1152.4,921.8 1154,923.4C1155.7,925 1157.3,928 1158.9,930.3C1160.6,932.6 1162.2,936.5 1163.9,937.2C1165.5,937.8 1167.1,935.2 1168.8,934.2C1170.4,933.3 1172.1,932.6 1173.7,931.3C1175.4,930 1177,927.8 1178.6,926.4C1180.3,924.9 1181.9,923.7 1183.6,922.4C1185.2,921.1 1186.8,920.5 1188.5,918.5C1190.1,916.5 1191.8,914.2 1193.4,910.6C1195,907 1196.7,898.5 1198.3,896.8C1200,895.2 1201.8,899.8 1203.3,900.8C1204.7,901.7 1205.7,903.1 1207.2,902.7C1208.7,902.4 1210.6,900.8 1212.1,898.8C1213.6,896.8 1214.6,893.2 1216.1,890.9C1217.5,888.6 1219.3,884 1221,885C1222.6,886 1224.3,894.5 1225.9,896.8C1227.5,899.1 1229.2,897.8 1230.8,898.8C1232.5,899.8 1234.9,902.1 1235.8,902.7" fill="none" stroke="#F0DC82" stroke-width="5.5" stroke-linejoin="round" stroke-linecap="butt"/>
<path d="M190.7,889.9C191.1,889.6 192.3,887.1 193.2,888C194.2,888.8 195.5,891.4 196.6,894.8C197.6,898.3 198.2,903.4 199.5,908.6C200.9,913.9 202.8,922.3 204.5,926.4C206.1,930.5 207.8,932.4 209.4,933.3C211,934.1 212.8,933.1 214.3,931.3C215.8,929.5 216.8,926.9 218.3,922.4C219.7,918 221.5,910.6 223.2,904.7C224.8,898.8 226.6,891.2 228.1,887C229.6,882.7 230.7,880.9 232,879.1C233.4,877.3 234.7,876 236,876.1C237.3,876.3 238.8,878.8 239.9,880.1C241.1,881.4 241.9,884.2 242.9,884C243.9,883.8 244.7,880.2 245.8,879.1C247,877.9 248.5,876.3 249.8,877.1C251.1,877.9 252.4,883 253.7,884C255,885 256.3,882.2 257.7,883C259,883.8 260.1,887.3 261.6,888.9C263.1,890.6 265,892.1 266.5,892.9C268,893.7 269.1,894.2 270.5,893.9C271.8,893.5 272.9,892.2 274.4,890.9C275.9,889.6 277.8,886.6 279.3,886C280.8,885.3 281.8,887.6 283.3,887C284.7,886.3 286.5,883.7 288.2,882C289.8,880.4 291.6,877.4 293.1,877.1C294.6,876.8 295.7,878.4 297,880.1C298.4,881.7 299.5,887.5 301,887C302.5,886.5 304.3,878.9 305.9,877.1C307.5,875.3 309.2,875.3 310.8,876.1C312.5,877 314.1,880.6 315.8,882C317.4,883.5 319,885.5 320.7,885C322.3,884.5 324.3,880.4 325.6,879.1C326.9,877.8 327.4,876.3 328.6,877.1C329.7,877.9 331.2,881.2 332.5,884C333.8,886.8 335,891.9 336.4,893.9C337.9,895.8 339.6,895 341.4,895.8C343.2,896.7 345.3,897.6 347.3,898.8C349.2,899.9 351.2,902.7 353.2,902.7C355.1,902.7 357.1,900.1 359.1,898.8C361.1,897.5 363,895.8 365,894.8C367,893.9 368.9,892.5 370.9,892.9C372.9,893.2 375,896.3 376.8,896.8C378.6,897.3 380.1,895.2 381.7,895.8C383.4,896.5 384.9,899.3 386.7,900.8C388.5,902.2 390.6,903.5 392.6,904.7C394.5,905.8 396.5,907.3 398.5,907.6C400.5,908 402.4,906.3 404.4,906.7C406.4,907 408.3,909.6 410.3,909.6C412.3,909.6 414.2,907.6 416.2,906.7C418.2,905.7 420.1,904.7 422.1,903.7C424.1,902.7 425.9,901.7 428,900.8C430.2,899.8 432.8,898.8 434.9,897.8C437.1,896.8 439,894.7 440.8,894.8C442.6,895 444.9,898.1 445.8,898.8M454.8,902.7C455.6,903.1 458.1,903.9 459.7,904.7C461.3,905.5 463,906.5 464.6,907.6C466.3,908.8 467.9,911.8 469.5,911.6C471.2,911.4 472.8,908.3 474.5,906.7C476.1,905 477.6,903.1 479.4,901.7C481.2,900.4 483.3,900.3 485.3,898.8C487.3,897.3 489.2,894.4 491.2,892.9C493.2,891.4 495.2,890.9 497.1,889.9C499.1,888.9 501.1,888.4 503,887C505,885.5 507,881.4 508.9,881.1C510.9,880.7 512.9,884.2 514.8,885C516.8,885.8 518.8,885.7 520.8,886C522.7,886.3 524.7,887.3 526.7,887C528.6,886.6 530.6,885.3 532.6,884C534.5,882.7 536.5,879.6 538.5,879.1C540.5,878.6 542.6,881.4 544.4,881.1C546.2,880.7 547.7,878.9 549.3,877.1C551,875.3 552.6,870.9 554.2,870.2C555.9,869.6 557.5,872.4 559.2,873.2C560.8,874 562.4,875 564.1,875.1C565.7,875.3 567.4,874.8 569,874.2C570.7,873.5 572.3,871 573.9,871.2C575.6,871.4 577.1,874.5 578.9,875.1C580.7,875.8 583,873.8 584.8,875.1C586.6,876.5 587.9,880.7 589.7,883C591.5,885.3 593.6,887.5 595.6,888.9C597.6,890.4 599.5,891.6 601.5,891.9C603.5,892.2 605.5,891.4 607.4,890.9C609.4,890.4 611.5,889.9 613.3,888.9C615.1,888 616.6,886.1 618.3,885C619.9,883.8 621.4,882.9 623.2,882C625,881.2 627.3,880.6 629.1,880.1C630.9,879.6 632.4,880.2 634,879.1C635.7,877.9 637.5,876.8 638.9,873.2C640.4,869.6 641.6,864.3 642.9,857.4C644.2,850.5 645.3,841.3 646.8,831.8C648.3,822.3 650.1,811.5 651.7,800.3C653.4,789.1 655.2,775.4 656.7,764.8C658.1,754.3 659.3,744.8 660.6,737.3C661.9,729.7 663.4,723.2 664.5,719.5C665.7,715.9 666.5,714 667.5,715.6C668.5,717.2 669.5,722.8 670.5,729.4C671.4,736 672.3,745.2 673.4,755C674.6,764.8 676,777.7 677.3,788.5C678.7,799.3 680,809.5 681.3,820C682.6,830.5 683.9,841 685.2,851.5C686.5,862 687.8,873.2 689.2,883C690.5,892.9 691.8,902.7 693.1,910.6C694.4,918.5 695.7,925.2 697,930.3C698.4,935.4 699.7,940.5 701,941.1C702.3,941.8 703.6,935.1 704.9,934.2C706.2,933.4 708.2,935.9 708.9,936.2M717.7,904.7C718.4,905 720.4,903.7 721.7,906.7C723,909.6 724.1,917.2 725.6,922.4C727.1,927.7 728.9,934.2 730.5,938.2C732.2,942.1 733.8,946.7 735.5,946.1C737.1,945.4 738.9,937.8 740.4,934.2C741.9,930.6 743,928 744.3,924.4C745.6,920.8 746.9,918.2 748.3,912.6C749.6,907 751,896.8 752.2,890.9C753.3,885 754,880.7 755.2,877.1C756.3,873.5 757.6,871 759.1,869.2C760.6,867.4 762.4,866.6 764,866.3C765.7,866 767.3,866.8 768.9,867.3C770.6,867.8 772.4,869.4 773.9,869.2C775.3,869.1 776.5,866.1 777.8,866.3C779.1,866.4 780.3,870.4 781.7,870.2C783.2,870.1 785.2,865.1 786.7,865.3C788.1,865.5 789.1,870.2 790.6,871.2C792.1,872.2 794.1,870.7 795.5,871.2C797,871.7 798,872.9 799.5,874.2C800.9,875.5 802.8,879.1 804.4,879.1C806,879.1 807.7,875.6 809.3,874.2C811,872.7 812.8,872 814.2,870.2C815.7,868.4 816.9,865.1 818.2,863.3C819.5,861.5 820.8,861.2 822.1,859.4C823.4,857.6 824.7,854.1 826.1,852.5C827.4,850.9 828.5,849.7 830,849.5C831.5,849.4 833.4,849.5 834.9,851.5C836.4,853.5 837.4,859.4 838.9,861.4C840.3,863.3 842.5,860.7 843.8,863.3C845.1,866 845.6,873.5 846.7,877.1C847.9,880.7 849.2,883 850.7,885C852.2,887 854,888 855.6,888.9C857.2,889.9 858.9,890.7 860.5,890.9C862.2,891.1 863.8,890.7 865.5,889.9C867.1,889.1 868.7,886.5 870.4,886C872,885.5 873.7,887.8 875.3,887C876.9,886.1 878.6,883 880.2,881.1C881.9,879.1 883.5,876.3 885.1,875.1C886.8,874 888.6,874 890.1,874.2C891.6,874.3 892.7,876.5 894,876.1C895.3,875.8 896.6,873 898,872.2C899.3,871.4 900.4,870.4 901.9,871.2C903.4,872 905.2,875.3 906.8,877.1C908.5,878.9 910.3,882.5 911.7,882C913.2,881.6 914.5,876.1 915.7,874.2C916.8,872.2 917.3,870.1 918.6,870.2C919.9,870.4 921.9,874.2 923.6,875.1C925.2,876.1 926.8,875.3 928.5,876.1C930.1,877 931.8,878.6 933.4,880.1C935,881.6 936.7,882.2 938.3,885C940,887.8 941.6,895.8 943.3,896.8C944.9,897.8 946.5,892.9 948.2,890.9C949.8,888.9 951.5,886.1 953.1,885C954.7,883.8 956.4,884.5 958,884C959.7,883.5 961.3,882.9 963,882C964.6,881.2 966.4,879.1 967.9,879.1C969.4,879.1 971,880.7 971.8,882C972.6,883.4 972.6,886.1 972.8,887M980.7,905.7C981.3,905.2 983.1,902.2 984.6,902.7C986.1,903.2 987.9,907.3 989.5,908.6C991.2,909.9 992.8,909.6 994.5,910.6C996.1,911.6 997.8,914.2 999.4,914.5C1001,914.9 1002.7,913.7 1004.3,912.6C1006,911.4 1007.6,908.8 1009.2,907.6C1010.9,906.5 1012.5,906.3 1014.2,905.7C1015.8,905 1017.4,904.2 1019.1,903.7C1020.7,903.2 1022.4,903.5 1024,902.7C1025.7,901.9 1027.3,899.9 1028.9,898.8C1030.6,897.6 1032.2,896.5 1033.9,895.8C1035.5,895.2 1037.1,895.5 1038.8,894.8C1040.4,894.2 1042.1,892.7 1043.7,891.9C1045.4,891.1 1047,890.7 1048.6,889.9C1050.3,889.1 1051.9,887.3 1053.6,887C1055.2,886.6 1056.8,887 1058.5,888C1060.1,888.9 1061.8,891.4 1063.4,892.9C1065,894.4 1066.7,896.5 1068.3,896.8C1070,897.1 1071.6,896.2 1073.3,894.8C1074.9,893.5 1076.5,890.1 1078.2,888.9C1079.8,887.8 1081.5,887.6 1083.1,888C1084.7,888.3 1086.4,890.1 1088,890.9C1089.7,891.7 1091.3,892.1 1093,892.9C1094.6,893.7 1096.2,895 1097.9,895.8C1099.5,896.7 1101.2,897.6 1102.8,897.8C1104.4,898 1106.1,896.2 1107.7,896.8C1109.4,897.5 1111.2,900.4 1112.6,901.7C1114.1,903.1 1115.3,905.7 1116.6,904.7C1117.9,903.7 1119.1,898 1120.5,895.8C1122,893.7 1123.8,892.2 1125.5,891.9C1127.1,891.6 1128.7,892.1 1130.4,893.9C1132,895.7 1133.7,901.6 1135.3,902.7C1136.9,903.9 1138.6,902.1 1140.2,900.8C1141.9,899.4 1143.5,896 1145.1,894.8C1146.8,893.7 1148.4,894.2 1150.1,893.9C1151.7,893.5 1153.5,892.4 1155,892.9C1156.5,893.4 1157.5,895.8 1158.9,896.8C1160.4,897.8 1162.2,897.5 1163.9,898.8C1165.5,900.1 1167.1,904 1168.8,904.7C1170.4,905.4 1172.1,903.2 1173.7,902.7C1175.4,902.2 1177.2,904.4 1178.6,901.7C1180.1,899.1 1181.3,890.6 1182.6,887C1183.9,883.4 1185,880.6 1186.5,880.1C1188,879.6 1190,884.2 1191.4,884C1192.9,883.8 1194.1,882.4 1195.4,879.1C1196.7,875.8 1198,864.3 1199.3,864.3C1200.6,864.3 1201.9,874.7 1203.3,879.1C1204.6,883.5 1205.9,888.3 1207.2,890.9C1208.5,893.5 1209.7,893.9 1211.1,894.8C1212.6,895.8 1214.4,896.3 1216.1,896.8C1217.7,897.3 1219.3,896.2 1221,897.8C1222.6,899.4 1224.3,905.7 1225.9,906.7C1227.5,907.6 1229.2,903.4 1230.8,903.7C1232.5,904 1234.9,907.8 1235.8,908.6" fill="none" stroke="#9E2F28" stroke-width="5.5" stroke-linejoin="round" stroke-linecap="butt"/>
<path d="M190.7,896.8C191.2,896.5 192.7,893.2 193.6,894.8C194.6,896.5 195.4,900.8 196.6,906.7C197.7,912.6 199.1,924.7 200.5,930.3C202,935.9 203.6,938.3 205.5,940.1C207.3,942 209.6,941.5 211.4,941.1C213.2,940.8 214.6,939.2 216.3,938.2C217.9,937.2 219.7,937.8 221.2,935.2C222.7,932.6 223.8,925.9 225.2,922.4C226.5,919 227.8,915.5 229.1,914.5C230.4,913.6 231.7,915.5 233,916.5C234.3,917.5 235.7,920.8 237,920.5C238.3,920.1 239.4,916.8 240.9,914.5C242.4,912.2 244.2,908.5 245.8,906.7C247.5,904.9 249.3,904.4 250.8,903.7C252.2,903.1 253.2,904.2 254.7,902.7C256.2,901.2 258,896 259.6,894.8C261.3,893.7 262.7,895.2 264.5,895.8C266.3,896.5 268.6,898.5 270.5,898.8C272.3,899.1 273.7,898.8 275.4,897.8C277,896.8 278.7,893.4 280.3,892.9C281.9,892.4 283.6,894.8 285.2,894.8C286.9,894.8 288.5,891.9 290.1,892.9C291.8,893.9 293.4,898.1 295.1,900.8C296.7,903.4 298.4,906.7 300,908.6C301.6,910.6 303.3,911.3 304.9,912.6C306.6,913.9 308.2,916 309.8,916.5C311.5,917 313.1,915.9 314.8,915.5C316.4,915.2 318.1,916.3 319.7,914.5C321.3,912.7 323,908.3 324.6,904.7C326.3,901.1 327.7,895.8 329.5,892.9C331.3,889.9 333.5,889.1 335.5,887C337.4,884.8 339.6,882 341.4,880.1C343.2,878.1 344.6,875.3 346.3,875.1C347.9,875 349.6,877.6 351.2,879.1C352.9,880.6 354.7,882 356.1,884C357.6,886 358.6,888.4 360.1,890.9C361.6,893.4 363.4,896.7 365,898.8C366.6,900.9 368.3,901.9 369.9,903.7C371.6,905.5 373.2,908.5 374.8,909.6C376.5,910.8 378.1,911.3 379.8,910.6C381.4,909.9 383.1,907.2 384.7,905.7C386.3,904.2 388,902.7 389.6,901.7C391.3,900.8 392.9,900.3 394.5,899.8C396.2,899.3 397.8,898.8 399.5,898.8C401.1,898.8 402.7,899.4 404.4,899.8C406,900.1 407.7,900.3 409.3,900.8C411,901.2 412.6,902.9 414.2,902.7C415.9,902.6 417.7,902.1 419.2,899.8C420.6,897.5 421.8,891.6 423.1,888.9C424.4,886.3 425.6,885.2 427,884C428.5,882.9 430.3,882.2 432,882C433.6,881.9 435.2,882.7 436.9,883C438.5,883.4 440.3,882.4 441.8,884C443.3,885.7 445.1,891.4 445.8,892.9M454.8,906.7C455.6,908.3 458.1,914.4 459.7,916.5C461.3,918.6 463,919.5 464.6,919.5C466.3,919.5 467.7,918 469.5,916.5C471.4,915 473.6,911.9 475.5,910.6C477.3,909.3 478.7,909.6 480.4,908.6C482,907.6 483.7,906.7 485.3,904.7C486.9,902.7 488.6,898.8 490.2,896.8C491.9,894.8 493.3,894.5 495.2,892.9C497,891.2 499.3,887.3 501.1,887C502.9,886.6 504.3,889.9 506,890.9C507.6,891.9 509.3,892.9 510.9,892.9C512.5,892.9 514.2,891.6 515.8,890.9C517.5,890.2 519.1,888.8 520.8,888.9C522.4,889.1 524,892.5 525.7,891.9C527.3,891.2 529,887.1 530.6,885C532.2,882.9 534.1,880.7 535.5,879.1C537,877.4 538,874.7 539.5,875.1C540.9,875.6 542.8,882.7 544.4,882C546,881.4 547.7,875 549.3,871.2C551,867.4 552.6,860 554.2,859.4C555.9,858.7 557.5,865.6 559.2,867.3C560.8,868.9 562.4,869.4 564.1,869.2C565.7,869.1 567.4,867.8 569,866.3C570.7,864.8 572.5,859.2 573.9,860.4C575.4,861.5 576.4,870.1 577.9,873.2C579.4,876.3 581.2,878.3 582.8,879.1C584.4,879.9 586.1,877.9 587.7,878.1C589.4,878.3 591,879.7 592.6,880.1C594.3,880.4 595.9,879.7 597.6,880.1C599.2,880.4 600.9,882.2 602.5,882C604.1,881.9 605.6,879.4 607.4,879.1C609.2,878.8 611.5,880.4 613.3,880.1C615.1,879.7 616.6,877.1 618.3,877.1C619.9,877.1 621.5,878.9 623.2,880.1C624.8,881.2 626.5,882.9 628.1,884C629.7,885.2 631.4,886.8 633,887C634.7,887.1 636.3,886.3 638,885C639.6,883.7 641.4,883 642.9,879.1C644.4,875.1 645.5,868.3 646.8,861.4C648.1,854.5 649.4,845.9 650.8,837.7C652.1,829.5 653.4,821 654.7,812.1C656,803.3 657.3,794.4 658.6,784.5C659.9,774.7 661.3,762.9 662.6,753C663.9,743.2 665.4,732.7 666.5,725.5C667.7,718.2 668.5,712.7 669.5,709.7C670.5,706.7 671.4,705.1 672.4,707.7C673.4,710.4 674.4,716.9 675.4,725.5C676.4,734 677.3,747.8 678.3,758.9C679.3,770.1 680.3,781.6 681.3,792.4C682.3,803.3 683.3,813.8 684.2,823.9C685.2,834.1 686.2,843.6 687.2,853.5C688.2,863.3 689,873.5 690.1,883C691.3,892.5 692.8,903.4 694.1,910.6C695.4,917.8 696.7,922.7 698,926.4C699.3,930 700.7,931.9 702,932.3C703.3,932.6 704.8,928 705.9,928.3C707.1,928.7 708.4,933.3 708.9,934.2M717.7,908.6C718.5,910.3 721,914.5 722.7,918.5C724.3,922.4 725.9,928.7 727.6,932.3C729.2,935.9 730.9,939.8 732.5,940.1C734.1,940.5 735.8,935.7 737.4,934.2C739.1,932.8 740.7,931.8 742.3,931.3C744,930.8 745.6,933.7 747.3,931.3C748.9,928.8 750.7,920.9 752.2,916.5C753.7,912.1 754.7,907.8 756.1,904.7C757.6,901.6 759.4,899.4 761.1,897.8C762.7,896.2 764.3,895.8 766,894.8C767.6,893.9 769.3,892.5 770.9,891.9C772.5,891.2 774.2,890.9 775.8,890.9C777.5,890.9 779.1,892.4 780.8,891.9C782.4,891.4 784.2,888.4 785.7,888C787.2,887.5 788.1,887.8 789.6,888.9C791.1,890.1 792.9,893.4 794.5,894.8C796.2,896.3 797.8,897.6 799.5,897.8C801.1,898 802.8,895.5 804.4,895.8C806,896.2 807.7,898.6 809.3,899.8C811,900.9 812.6,902.9 814.2,902.7C815.9,902.6 817.5,899.6 819.2,898.8C820.8,898 822.4,897.5 824.1,897.8C825.7,898.1 827.4,900.6 829,900.8C830.7,900.9 832.3,898.8 833.9,898.8C835.6,898.8 837.2,899.9 838.9,900.8C840.5,901.6 842.1,903.7 843.8,903.7C845.4,903.7 847.1,901.1 848.7,900.8C850.4,900.4 852,901.4 853.6,901.7C855.3,902.1 856.9,903.2 858.6,902.7C860.2,902.2 861.8,900.1 863.5,898.8C865.1,897.5 866.8,896.3 868.4,894.8C870,893.4 871.7,889.3 873.3,889.9C875,890.6 876.6,897.6 878.3,898.8C879.9,899.9 881.5,897.1 883.2,896.8C884.8,896.5 886.5,896.5 888.1,896.8C889.7,897.1 891.4,897.8 893,898.8C894.7,899.8 896.3,902.2 898,902.7C899.6,903.2 901.2,902.2 902.9,901.7C904.5,901.2 906.2,900.3 907.8,899.8C909.4,899.3 911.1,898.5 912.7,898.8C914.4,899.1 916,901.6 917.6,901.7C919.3,901.9 920.9,900.6 922.6,899.8C924.2,898.9 925.9,896 927.5,896.8C929.1,897.6 930.8,902.6 932.4,904.7C934.1,906.8 935.7,908.6 937.3,909.6C939,910.6 940.6,910.6 942.3,910.6C943.9,910.6 945.6,909 947.2,909.6C948.8,910.3 950.5,914.4 952.1,914.5C953.8,914.7 955.6,913.2 957,910.6C958.5,908 959.5,900.9 961,898.8C962.5,896.7 964.4,897.1 965.9,897.8C967.4,898.5 968.7,900.3 969.8,902.7C971,905.2 972.3,910.9 972.8,912.6M980.7,940.1C981.3,939.5 983.1,939.5 984.6,936.2C986.1,932.9 987.9,925 989.5,920.5C991.2,915.9 993,911.3 994.5,908.6C995.9,906 997.1,904 998.4,904.7C999.7,905.4 1000.9,910.9 1002.3,912.6C1003.8,914.2 1005.8,914.5 1007.3,914.5C1008.7,914.5 1009.7,911.8 1011.2,912.6C1012.7,913.4 1014.5,917.8 1016.1,919.5C1017.8,921.1 1019.4,923.2 1021.1,922.4C1022.7,921.6 1024.3,917.3 1026,914.5C1027.6,911.8 1029.3,906.8 1030.9,905.7C1032.5,904.5 1034.2,907.2 1035.8,907.6C1037.5,908.1 1039.1,909.6 1040.8,908.6C1042.4,907.6 1044,903.2 1045.7,901.7C1047.3,900.3 1049,899.9 1050.6,899.8C1052.2,899.6 1053.9,899.4 1055.5,900.8C1057.2,902.1 1058.8,905.7 1060.5,907.6C1062.1,909.6 1063.7,911.1 1065.4,912.6C1067,914 1068.5,915 1070.3,916.5C1072.1,918 1074.2,920 1076.2,921.4C1078.2,922.9 1080.3,925.4 1082.1,925.4C1083.9,925.4 1085.4,923.6 1087,921.4C1088.7,919.3 1090.3,915.7 1092,912.6C1093.6,909.5 1095.3,905.7 1096.9,902.7C1098.5,899.8 1100.2,897.5 1101.8,894.8C1103.5,892.2 1105.1,889.1 1106.7,887C1108.4,884.8 1110,883.7 1111.7,882C1113.3,880.4 1114.9,878.1 1116.6,877.1C1118.2,876.1 1119.9,876 1121.5,876.1C1123.2,876.3 1124.8,877.9 1126.4,878.1C1128.1,878.3 1129.7,876.5 1131.4,877.1C1133,877.8 1134.6,880.6 1136.3,882C1137.9,883.5 1139.6,883.5 1141.2,886C1142.9,888.4 1144.5,894.7 1146.1,896.8C1147.8,898.9 1149.4,898 1151.1,898.8C1152.7,899.6 1154.3,900.9 1156,901.7C1157.6,902.6 1159.3,902.9 1160.9,903.7C1162.5,904.5 1164.2,905.2 1165.8,906.7C1167.5,908.1 1169.1,910.4 1170.8,912.6C1172.4,914.7 1174.2,917.8 1175.7,919.5C1177.2,921.1 1178.1,922.3 1179.6,922.4C1181.1,922.6 1182.9,921.6 1184.5,920.5C1186.2,919.3 1188,918.8 1189.5,915.5C1190.9,912.2 1192.3,906.8 1193.4,900.8C1194.6,894.7 1195.4,884.5 1196.4,879.1C1197.3,873.7 1198.2,868.1 1199.3,868.3C1200.5,868.4 1201.9,877 1203.3,880.1C1204.6,883.2 1205.7,886.1 1207.2,887C1208.7,887.8 1210.5,885 1212.1,885C1213.8,885 1215.6,883.7 1217,887C1218.5,890.2 1219.7,898.8 1221,904.7C1222.3,910.6 1223.6,918.2 1224.9,922.4C1226.2,926.7 1227.5,929.6 1228.9,930.3C1230.2,931 1231.6,926.2 1232.8,926.4C1233.9,926.5 1235.3,930.5 1235.8,931.3" fill="none" stroke="#5EBF99" stroke-width="5.5" stroke-linejoin="round" stroke-linecap="butt"/>
<path d="M190.7,951C191.2,950.7 192.5,947.9 193.6,949C194.8,950.2 196.1,955.7 197.6,957.9C199.1,960 200.9,960.2 202.5,961.8C204.1,963.5 205.8,967.1 207.4,967.7C209.1,968.4 210.9,965.9 212.3,965.8C213.8,965.6 215,966.2 216.3,966.7C217.6,967.2 218.9,969.4 220.2,968.7C221.5,968.1 222.9,965.1 224.2,962.8C225.5,960.5 227,956.4 228.1,954.9C229.3,953.4 229.9,953.3 231.1,953.9C232.2,954.6 233.5,957.4 235,958.9C236.5,960.3 238.3,961.6 239.9,962.8C241.6,963.9 243.2,964.4 244.8,965.8C246.5,967.1 248.3,971.3 249.8,970.7C251.2,970 252.4,964.8 253.7,961.8C255,958.9 256.3,955.6 257.7,953C259,950.3 260.3,948 261.6,946.1C262.9,944.1 264.2,941.8 265.5,941.1C266.8,940.5 268.2,942.9 269.5,942.1C270.8,941.3 272.1,937.8 273.4,936.2C274.7,934.6 275.9,932.3 277.3,932.3C278.8,932.3 280.8,935.9 282.3,936.2C283.7,936.5 284.9,936.5 286.2,934.2C287.5,931.9 288.7,926.4 290.1,922.4C291.6,918.5 293.6,914.9 295.1,910.6C296.6,906.3 297.5,901.2 299,896.8C300.5,892.4 302.5,887.1 303.9,884C305.4,880.9 306.6,879.6 307.9,878.1C309.2,876.6 310.5,874.5 311.8,875.1C313.1,875.8 314.4,879.9 315.8,882C317.1,884.2 318.4,885.2 319.7,888C321,890.7 322.3,895 323.6,898.8C324.9,902.6 326.3,907.3 327.6,910.6C328.9,913.9 330,915.9 331.5,918.5C333,921.1 334.8,923.1 336.4,926.4C338.1,929.6 340,934.9 341.4,938.2C342.7,941.5 343.2,945.1 344.3,946.1C345.5,947 346.9,945.6 348.3,944.1C349.6,942.6 350.9,938.2 352.2,937.2C353.5,936.2 355,938.7 356.1,938.2C357.3,937.7 357.9,934.1 359.1,934.2C360.2,934.4 361.7,940.5 363,939.2C364.3,937.8 365.7,930.3 367,926.4C368.3,922.4 369.4,917.7 370.9,915.5C372.4,913.4 374.4,913.1 375.8,913.6C377.3,914 378.5,916.8 379.8,918.5C381.1,920.1 382.4,923.9 383.7,923.4C385,922.9 386.3,915 387.6,915.5C389,916 390.3,922.7 391.6,926.4C392.9,930 394.2,935.1 395.5,937.2C396.8,939.3 398.2,937.8 399.5,939.2C400.8,940.5 402.1,946.9 403.4,945.1C404.7,943.3 406.2,932.8 407.3,928.3C408.5,923.9 409,919.8 410.3,918.5C411.6,917.2 413.7,920.5 415.2,920.5C416.7,920.5 417.7,920.8 419.2,918.5C420.6,916.2 422.3,908.8 424.1,906.7C425.9,904.5 428.2,904.7 430,905.7C431.8,906.7 433.3,909.3 434.9,912.6C436.6,915.9 438.4,922.3 439.8,925.4C441.3,928.5 442.8,930.3 443.8,931.3C444.8,932.3 445.4,931.3 445.8,931.3M454.8,904.7C455.3,903.5 456.7,897.8 457.7,897.8C458.7,897.8 459.4,902.6 460.7,904.7C462,906.8 464.1,908.3 465.6,910.6C467.1,912.9 468.4,913.9 469.5,918.5C470.7,923.1 471.4,932.8 472.5,938.2C473.6,943.6 475,948.5 476.4,951C477.9,953.4 479.7,952.1 481.4,953C483,953.8 484.6,954.6 486.3,955.9C487.9,957.2 489.7,960.5 491.2,960.8C492.7,961.2 493.8,957.7 495.2,957.9C496.5,958 497.8,960.8 499.1,961.8C500.4,962.8 501.6,965.3 503,963.8C504.5,962.3 506.1,954.9 508,953C509.8,951 512.1,952.8 513.9,952C515.7,951.1 517.3,948 518.8,948C520.3,948 521.2,954.6 522.7,952C524.2,949.3 526.2,937.2 527.7,932.3C529.1,927.3 530.1,923.6 531.6,922.4C533.1,921.3 534.9,924.7 536.5,925.4C538.2,926 539.8,926.7 541.4,926.4C543.1,926 544.7,922.6 546.4,923.4C548,924.2 549.6,928.2 551.3,931.3C552.9,934.4 554.6,939.5 556.2,942.1C557.9,944.7 559.5,947.5 561.1,947C562.8,946.5 564.4,941 566.1,939.2C567.7,937.4 569.3,936 571,936.2C572.6,936.4 574.3,940.1 575.9,940.1C577.5,940.1 579.2,937.2 580.8,936.2C582.5,935.2 584.1,932.9 585.8,934.2C587.4,935.6 589,940.8 590.7,944.1C592.3,947.4 594.1,951.8 595.6,953.9C597.1,956.1 598.1,957.1 599.5,956.9C601,956.7 602.8,953 604.5,953C606.1,953 607.7,958.5 609.4,956.9C611,955.2 612.7,945.4 614.3,943.1C616,940.8 617.8,943.4 619.2,943.1C620.7,942.8 621.7,943.1 623.2,941.1C624.7,939.2 626.6,933.3 628.1,931.3C629.6,929.3 630.7,931 632,929.3C633.4,927.7 634.7,921.4 636,921.4C637.3,921.4 638.4,930.1 639.9,929.3C641.4,928.5 643.4,921.3 644.8,916.5C646.3,911.8 647.3,905.4 648.8,900.8C650.3,896.2 652.1,892.9 653.7,888.9C655.4,885 657.2,882.4 658.6,877.1C660.1,871.9 661.3,865.6 662.6,857.4C663.9,849.2 665.4,835.4 666.5,827.9C667.7,820.3 668.6,815.2 669.5,812.1C670.3,809 670.6,807.9 671.4,809.2C672.3,810.5 673.2,814.3 674.4,820C675.5,825.7 677,835.8 678.3,843.6C679.6,851.5 681,858.4 682.3,867.3C683.6,876.1 684.9,885.3 686.2,896.8C687.5,908.3 688.8,924.7 690.1,936.2C691.5,947.7 692.8,958.9 694.1,965.8C695.4,972.6 697,975.1 698,977.6C699,980 699.2,981.2 700,980.5C700.8,979.9 702,975.6 703,973.6C703.9,971.7 704.9,969.4 705.9,968.7C706.9,968.1 708.4,969.5 708.9,969.7M717.7,948C718.4,949 720.4,951.6 721.7,953.9C723,956.2 724.3,958.9 725.6,961.8C726.9,964.8 728.2,969.2 729.5,971.7C730.9,974.1 732,975.9 733.5,976.6C735,977.2 736.8,975.8 738.4,975.6C740,975.4 741.7,976.6 743.3,975.6C745,974.6 746.6,972.3 748.3,969.7C749.9,967.1 751.5,962.8 753.2,959.8C754.8,956.9 756.5,955.1 758.1,952C759.7,948.8 761.4,944.1 763,941.1C764.7,938.2 766.5,936.9 768,934.2C769.4,931.6 770.6,926.2 771.9,925.4C773.2,924.6 774.5,927.8 775.8,929.3C777.1,930.8 778.5,935.1 779.8,934.2C781.1,933.4 782.6,926.5 783.7,924.4C784.9,922.3 785.4,920.9 786.7,921.4C788,921.9 789.9,925.7 791.6,927.3C793.2,929 794.9,930.5 796.5,931.3C798.2,932.1 799.8,934.4 801.4,932.3C803.1,930.1 804.7,920.5 806.4,918.5C808,916.5 809.6,919.1 811.3,920.5C812.9,921.8 814.7,924.4 816.2,926.4C817.7,928.3 818.7,930.5 820.1,932.3C821.6,934.1 823.4,936.5 825.1,937.2C826.7,937.8 828.4,935.6 830,936.2C831.6,936.9 833.3,939.7 834.9,941.1C836.6,942.6 838.5,944.3 839.8,945.1C841.2,945.9 841.7,947.5 842.8,946.1C843.9,944.6 845.4,938.7 846.7,936.2C848.1,933.7 849.4,931.6 850.7,931.3C852,931 853.3,932.1 854.6,934.2C855.9,936.4 857.2,941.5 858.6,944.1C859.9,946.7 860.9,949.3 862.5,950C864.1,950.7 866.4,948 868.4,948C870.4,948 872.7,952.6 874.3,950C876,947.4 876.9,936.9 878.3,932.3C879.6,927.7 880.9,925.7 882.2,922.4C883.5,919.1 884.8,915.9 886.1,912.6C887.4,909.3 888.8,906.2 890.1,902.7C891.4,899.3 892.7,894.5 894,891.9C895.3,889.3 896.6,887.1 898,887C899.3,886.8 900.6,888.9 901.9,890.9C903.2,892.9 904.5,897.8 905.8,898.8C907.1,899.8 908.5,895.8 909.8,896.8C911.1,897.8 912.4,901.1 913.7,904.7C915,908.3 916.2,915.9 917.6,918.5C919.1,921.1 920.8,919.8 922.6,920.5C924.4,921.1 926.8,920.5 928.5,922.4C930.1,924.4 931.1,928.3 932.4,932.3C933.7,936.2 935,942.6 936.4,946.1C937.7,949.5 939,952.1 940.3,953C941.6,953.8 942.9,950.2 944.2,951C945.6,951.8 946.9,955.9 948.2,957.9C949.5,959.8 951,964.1 952.1,962.8C953.3,961.5 954.1,954.8 955.1,950C956.1,945.2 956.7,937.2 958,934.2C959.3,931.3 961.3,932.9 963,932.3C964.6,931.6 966.2,931 967.9,930.3C969.5,929.6 972,928.7 972.8,928.3M980.7,912.6C981.3,913.2 983.3,914.7 984.6,916.5C985.9,918.3 987.1,922.7 988.6,923.4C990,924.1 992,917.3 993.5,920.5C995,923.6 996.3,937.5 997.4,942.1C998.6,946.7 999.2,948.5 1000.4,948C1001.5,947.5 1003,941.5 1004.3,939.2C1005.6,936.9 1006.9,935.9 1008.3,934.2C1009.6,932.6 1010.9,931.6 1012.2,929.3C1013.5,927 1014.8,922.4 1016.1,920.5C1017.4,918.5 1018.8,919.5 1020.1,917.5C1021.4,915.5 1022.7,909.9 1024,908.6C1025.3,907.3 1026.8,907.3 1028,909.6C1029.1,911.9 1029.9,918.5 1030.9,922.4C1031.9,926.4 1032.7,930.5 1033.9,933.3C1035,936 1036.3,937.7 1037.8,939.2C1039.3,940.6 1041.1,941.1 1042.7,942.1C1044.4,943.1 1046,944.4 1047.7,945.1C1049.3,945.7 1051.1,947.5 1052.6,946.1C1054.1,944.6 1055.2,941.5 1056.5,936.2C1057.8,931 1059.1,919 1060.5,914.5C1061.8,910.1 1062.9,910.1 1064.4,909.6C1065.9,909.1 1067.7,911.4 1069.3,911.6C1071,911.8 1072.8,911.8 1074.2,910.6C1075.7,909.5 1076.7,906 1078.2,904.7C1079.7,903.4 1081.5,902.4 1083.1,902.7C1084.7,903.1 1086.4,905 1088,906.7C1089.7,908.3 1091.3,910.4 1093,912.6C1094.6,914.7 1096.4,917.8 1097.9,919.5C1099.4,921.1 1100.3,921.3 1101.8,922.4C1103.3,923.6 1105.3,923.7 1106.7,926.4C1108.2,929 1109.4,935.2 1110.7,938.2C1112,941.1 1113.1,942.9 1114.6,944.1C1116.1,945.2 1117.9,945.7 1119.5,945.1C1121.2,944.4 1123,939.3 1124.5,940.1C1125.9,941 1126.9,947.5 1128.4,950C1129.9,952.5 1131.9,954.8 1133.3,954.9C1134.8,955.1 1136,950.5 1137.3,951C1138.6,951.5 1139.7,955.7 1141.2,957.9C1142.7,960 1144.7,961.6 1146.1,963.8C1147.6,965.9 1148.8,969 1150.1,970.7C1151.4,972.3 1152.5,973 1154,973.6C1155.5,974.3 1157.5,973.8 1158.9,974.6C1160.4,975.4 1161.7,979.7 1162.9,978.6C1164,977.4 1164.8,970.2 1165.8,967.7C1166.8,965.3 1167.5,963.5 1168.8,963.8C1170.1,964.1 1172.1,970 1173.7,969.7C1175.4,969.4 1177,964.4 1178.6,961.8C1180.3,959.2 1182.1,956.6 1183.6,953.9C1185,951.3 1186.2,945.7 1187.5,946.1C1188.8,946.4 1190.3,953.1 1191.4,955.9C1192.6,958.7 1193.4,965.1 1194.4,962.8C1195.4,960.5 1196.4,948.5 1197.3,942.1C1198.3,935.7 1199.2,926 1200.3,924.4C1201.4,922.7 1202.8,930.6 1204.2,932.3C1205.7,933.9 1207.7,934.1 1209.2,934.2C1210.6,934.4 1211.8,934.1 1213.1,933.3C1214.4,932.4 1215.7,931 1217,929.3C1218.4,927.7 1219.5,920.3 1221,923.4C1222.5,926.5 1224.4,945.9 1225.9,948C1227.4,950.2 1228.5,939.5 1229.8,936.2C1231.2,932.9 1232.8,929.3 1233.8,928.3C1234.8,927.3 1235.4,930 1235.8,930.3" fill="none" stroke="#6B6FB5" stroke-width="5.5" stroke-linejoin="round" stroke-linecap="butt"/>
<path d="M190.7,854.5C191,853.5 191.8,849.4 192.7,848.6C193.5,847.7 194.6,845.4 195.6,849.1C196.6,852.9 197.4,863.6 198.6,871.2C199.7,878.8 201,888.6 202.5,894.8C204,901.1 206.1,904 207.4,908.6C208.7,913.2 209.2,920.6 210.4,922.4C211.5,924.2 213.3,920.8 214.3,919.5C215.3,918.2 215.3,915 216.3,914.5C217.3,914 218.9,921.1 220.2,916.5C221.5,911.9 223,893.7 224.2,887C225.3,880.2 226,879.3 227.1,876.1C228.3,873 229.9,869.9 231.1,868.3C232.2,866.6 232.9,866.1 234,866.3C235.2,866.4 236.6,869.2 238,869.2C239.3,869.2 240.7,867.2 241.9,866.3C243,865.4 243.7,862.2 244.8,863.7C246,865.2 247.5,870.9 248.8,875.1C250.1,879.4 251.4,885.5 252.7,888.9C254,892.4 255.2,894.8 256.7,895.8C258.1,896.8 260.1,893.4 261.6,894.8C263.1,896.3 264.4,901.1 265.5,904.7C266.7,908.3 267.3,913.9 268.5,916.5C269.6,919.1 271.3,920 272.4,920.5C273.6,920.9 274.4,918 275.4,919.5C276.4,920.9 277.2,927.2 278.3,929.3C279.5,931.4 280.8,930.3 282.3,932.3C283.7,934.2 285.6,941.3 287.2,941.1C288.8,941 290.5,934.1 292.1,931.3C293.8,928.5 295.4,925.7 297,924.4C298.7,923.1 300.5,925.7 302,923.4C303.4,921.1 304.4,914 305.9,910.6C307.4,907.2 309.2,905.4 310.8,902.7C312.5,900.1 314.3,895.2 315.8,894.8C317.2,894.5 318.4,901.4 319.7,900.8C321,900.1 322.3,893.2 323.6,890.9C324.9,888.6 325.9,887.3 327.6,887C329.2,886.6 331.5,888 333.5,888.9C335.5,889.9 337.7,893 339.4,892.9C341,892.7 342.2,889.4 343.3,888C344.5,886.5 345,883.5 346.3,884C347.6,884.5 349.4,889.1 351.2,890.9C353,892.7 355,894 357.1,894.8C359.3,895.7 362,894.4 364,895.8C366,897.3 367.1,904.5 368.9,903.7C370.7,902.9 373.2,891.7 374.8,890.9C376.5,890.1 377.1,897.1 378.8,898.8C380.4,900.4 382.9,901.2 384.7,900.8C386.5,900.3 387.8,897.5 389.6,895.8C391.4,894.2 393.9,890.4 395.5,890.9C397.2,891.4 398.2,895.8 399.5,898.8C400.8,901.7 401.8,907.8 403.4,908.6C405,909.5 407.5,903.7 409.3,903.7C411.1,903.7 412.6,906.5 414.2,908.6C415.9,910.8 417.5,913.7 419.2,916.5C420.8,919.3 422.4,922.9 424.1,925.4C425.7,927.8 427.7,930.1 429,931.3C430.3,932.4 430.8,930.8 432,932.3C433.1,933.7 434.6,940 435.9,940.1C437.2,940.3 438.7,935.7 439.8,933.3C441,930.8 441.8,926.9 442.8,925.4C443.8,923.9 445.3,924.6 445.8,924.4M454.8,912.6C455.6,911.8 458.1,909.1 459.7,907.6C461.3,906.2 463,904.9 464.6,903.7C466.3,902.6 468.1,900.3 469.5,900.8C471,901.2 472.2,902.4 473.5,906.7C474.8,910.9 476.1,923.2 477.4,926.4C478.7,929.5 480,923.6 481.4,925.4C482.7,927.2 483.8,934.9 485.3,937.2C486.8,939.5 488.6,939 490.2,939.2C491.9,939.3 493.5,939.3 495.2,938.2C496.8,937 498.4,933.4 500.1,932.3C501.7,931.1 503.5,932.4 505,931.3C506.5,930.1 507.5,926.5 508.9,925.4C510.4,924.2 512.2,923.1 513.9,924.4C515.5,925.7 517.1,933.3 518.8,933.3C520.4,933.3 522.1,926.5 523.7,924.4C525.4,922.3 527,920.9 528.6,920.5C530.3,920 532.1,921.6 533.6,921.4C535,921.3 536.2,918.8 537.5,919.5C538.8,920.1 540.1,926.9 541.4,925.4C542.8,923.9 544.2,912.7 545.4,910.6C546.5,908.5 547.2,909.6 548.3,912.6C549.5,915.5 551,927.2 552.3,928.3C553.6,929.5 554.9,921.4 556.2,919.5C557.5,917.5 558.8,916.5 560.1,916.5C561.5,916.5 562.8,922.7 564.1,919.5C565.4,916.2 566.9,899.9 568,896.8C569.2,893.7 569.8,898.8 571,900.8C572.1,902.7 573.4,908.5 574.9,908.6C576.4,908.8 578.2,902.1 579.8,901.7C581.5,901.4 583.1,904.7 584.8,906.7C586.4,908.6 588.2,910.3 589.7,913.6C591.2,916.8 592.3,922.7 593.6,926.4C594.9,930 596.3,935.6 597.6,935.2C598.9,934.9 600.2,925.9 601.5,924.4C602.8,922.9 604.1,925 605.5,926.4C606.8,927.7 607.9,930.6 609.4,932.3C610.9,933.9 612.7,936.4 614.3,936.2C616,936 617.6,933.4 619.2,931.3C620.9,929.2 622.5,923.7 624.2,923.4C625.8,923.1 627.4,929.8 629.1,929.3C630.7,928.8 632.4,922.9 634,920.5C635.7,918 637.3,918.5 638.9,914.5C640.6,910.6 642.2,901.4 643.9,896.8C645.5,892.2 647.1,890.9 648.8,887C650.4,883 652.2,877.4 653.7,873.2C655.2,868.9 656.3,865.6 657.6,861.4C659,857.1 660.4,853.8 661.6,847.6C662.7,841.3 663.6,826.6 664.5,823.9C665.5,821.3 666.2,830.3 667.5,831.8C668.8,833.3 671.1,829.2 672.4,832.8C673.7,836.4 674.2,847.4 675.4,853.5C676.5,859.6 678,864.6 679.3,869.2C680.6,873.8 681.9,874.8 683.3,881.1C684.6,887.3 685.9,898.1 687.2,906.7C688.5,915.2 690,927.3 691.1,932.3C692.3,937.2 692.9,935.7 694.1,936.2C695.2,936.7 696.7,935.2 698,935.2C699.3,935.2 700.8,936.9 702,936.2C703.1,935.6 703.8,929.5 704.9,931.3C706.1,933.1 708.2,944.4 708.9,947M717.7,927.3C718.5,926.9 721.2,923.6 722.7,924.4C724.1,925.2 725.1,929.6 726.6,932.3C728.1,934.9 729.9,938.2 731.5,940.1C733.2,942.1 735,945.1 736.4,944.1C737.9,943.1 739.2,932.3 740.4,934.2C741.5,936.2 742.3,952 743.3,955.9C744.3,959.8 745.1,959.5 746.3,957.9C747.4,956.2 748.9,949.7 750.2,946.1C751.5,942.4 752.9,938.3 754.2,936.2C755.5,934.1 756.8,935.2 758.1,933.3C759.4,931.3 760.7,927.3 762,924.4C763.4,921.4 764.7,916.7 766,915.5C767.3,914.4 768.6,918.2 769.9,917.5C771.2,916.8 772.4,911.9 773.9,911.6C775.3,911.3 777.1,914.5 778.8,915.5C780.4,916.5 782.2,915.4 783.7,917.5C785.2,919.6 786.3,924.7 787.7,928.3C789,931.9 790.1,938.3 791.6,939.2C793.1,940 794.9,933.6 796.5,933.3C798.2,932.9 799.8,937 801.4,937.2C803.1,937.4 804.9,937.7 806.4,934.2C807.8,930.8 809,920.8 810.3,916.5C811.6,912.2 812.8,910.6 814.2,908.6C815.7,906.7 817.7,906.7 819.2,904.7C820.6,902.7 821.8,899.1 823.1,896.8C824.4,894.5 825.6,892.7 827,890.9C828.5,889.1 830.5,886.6 832,886C833.4,885.3 834.8,885.8 835.9,887C837.1,888.1 837.7,893.2 838.9,892.9C840,892.5 841.5,887.3 842.8,885C844.1,882.7 845.4,880.6 846.7,879.1C848.1,877.6 849.4,874.8 850.7,876.1C852,877.4 853.1,883.2 854.6,887C856.1,890.7 857.9,894.8 859.5,898.8C861.2,902.7 862.8,907.6 864.5,910.6C866.1,913.6 867.7,914.2 869.4,916.5C871,918.8 873,922.7 874.3,924.4C875.6,926 876,927 877.3,926.4C878.6,925.7 880.7,923.2 882.2,920.5C883.7,917.7 884.8,913.2 886.1,909.6C887.4,906 888.8,899.8 890.1,898.8C891.4,897.8 892.5,902.2 894,903.7C895.5,905.2 897.3,907.2 898.9,907.6C900.6,908.1 902.2,908.3 903.9,906.7C905.5,905 907.1,899.8 908.8,897.8C910.4,895.8 912.2,898 913.7,894.8C915.2,891.7 916.3,883.5 917.6,879.1C919,874.7 920.1,870.6 921.6,868.3C923.1,866 925,863.5 926.5,865.3C928,867.1 929,873.8 930.5,879.1C931.9,884.3 933.9,891.6 935.4,896.8C936.9,902.1 938,906.2 939.3,910.6C940.6,915 941.9,919.5 943.3,923.4C944.6,927.3 945.9,931.4 947.2,934.2C948.5,937 950,937.7 951.1,940.1C952.3,942.6 953.1,949.7 954.1,949C955.1,948.4 955.7,940 957,936.2C958.4,932.4 960.3,929.2 962,926.4C963.6,923.6 965.1,921.8 966.9,919.5C968.7,917.2 971.8,913.7 972.8,912.6M980.7,949C981.5,949.2 984.1,948.8 985.6,950C987.1,951.1 988.1,952.8 989.5,955.9C991,959 993,967.1 994.5,968.7C995.9,970.3 996.9,966.1 998.4,965.8C999.9,965.4 1001.7,967.7 1003.3,966.7C1005,965.8 1006.8,962.3 1008.3,959.8C1009.7,957.4 1010.7,954.9 1012.2,952C1013.7,949 1015.5,943.1 1017.1,942.1C1018.8,941.1 1020.6,946.5 1022,946.1C1023.5,945.6 1024.7,942.8 1026,939.2C1027.3,935.6 1028.6,927.3 1029.9,924.4C1031.2,921.4 1032.4,922.4 1033.9,921.4C1035.3,920.5 1037.1,917.5 1038.8,918.5C1040.4,919.5 1042.1,927.2 1043.7,927.3C1045.4,927.5 1046.8,919.5 1048.6,919.5C1050.4,919.5 1052.7,926.9 1054.5,927.3C1056.3,927.8 1058,924.7 1059.5,922.4C1060.9,920.1 1062.1,917.5 1063.4,913.6C1064.7,909.6 1066,903.4 1067.3,898.8C1068.7,894.2 1069.8,888.1 1071.3,886C1072.8,883.8 1074.6,885.2 1076.2,886C1077.9,886.8 1079.5,889.1 1081.1,890.9C1082.8,892.7 1084.4,896.2 1086.1,896.8C1087.7,897.5 1089.3,892.2 1091,894.8C1092.6,897.5 1094.4,909.6 1095.9,912.6C1097.4,915.5 1098.4,914.5 1099.8,912.6C1101.3,910.6 1103.3,905.8 1104.8,900.8C1106.2,895.7 1107.4,887.1 1108.7,882C1110,877 1111.2,872.5 1112.6,870.2C1114.1,867.9 1116.3,869.1 1117.6,868.3C1118.9,867.4 1119.4,864.5 1120.5,865.3C1121.7,866.1 1123.3,874.5 1124.5,873.2C1125.6,871.9 1126.4,860.9 1127.4,857.4C1128.4,854 1129.4,852.5 1130.4,852.5C1131.4,852.5 1132.3,853.3 1133.3,857.4C1134.3,861.5 1135.3,870.1 1136.3,877.1C1137.3,884.2 1138.1,895.5 1139.2,899.8C1140.4,904 1141.9,904.2 1143.2,902.7C1144.5,901.2 1145.8,894.2 1147.1,890.9C1148.4,887.6 1149.9,882.4 1151.1,883C1152.2,883.7 1153,890.4 1154,894.8C1155,899.3 1155.8,905.5 1157,909.6C1158.1,913.7 1159.4,918 1160.9,919.5C1162.4,920.9 1164.4,917.8 1165.8,918.5C1167.3,919.1 1168.5,919.5 1169.8,923.4C1171.1,927.3 1172.6,937.5 1173.7,942.1C1174.9,946.7 1175.5,950.8 1176.7,951C1177.8,951.1 1179.1,944.9 1180.6,943.1C1182.1,941.3 1183.9,941.3 1185.5,940.1C1187.2,939 1189,935.9 1190.5,936.2C1191.9,936.5 1193.2,946.4 1194.4,942.1C1195.5,937.8 1196.4,917.8 1197.3,910.6C1198.3,903.4 1199,900.6 1200.3,898.8C1201.6,897 1203.7,902.4 1205.2,899.8C1206.7,897.1 1208,889.4 1209.2,883C1210.3,876.6 1211.1,860 1212.1,861.4C1213.1,862.7 1214.1,889.9 1215.1,890.9C1216.1,891.9 1217,873 1218,867.3C1219,861.5 1220,855.1 1221,856.4C1222,857.7 1223,868.3 1223.9,875.1C1224.9,882 1225.7,895.7 1226.9,897.8C1228,899.9 1229.7,888.1 1230.8,888C1232,887.8 1233,892.1 1233.8,896.8C1234.6,901.6 1235.4,913.2 1235.8,916.5" fill="none" stroke="#6AA550" stroke-width="5.5" stroke-linejoin="round" stroke-linecap="butt"/>
<path d="M190.7,902.7C191.2,902.6 192.7,900.4 193.6,901.7C194.6,903.1 195.4,906.5 196.6,910.6C197.7,914.7 199.1,922.1 200.5,926.4C202,930.6 204,937.2 205.5,936.2C206.9,935.2 208.1,922.4 209.4,920.5C210.7,918.5 211.9,923.6 213.3,924.4C214.8,925.2 216.8,926 218.3,925.4C219.7,924.7 220.7,923.9 222.2,920.5C223.7,917 225.5,909.6 227.1,904.7C228.8,899.8 230.6,892.2 232,890.9C233.5,889.6 234.7,895.8 236,896.8C237.3,897.8 238.6,896 239.9,896.8C241.2,897.6 242.4,901.2 243.9,901.7C245.3,902.2 247.3,900.3 248.8,899.8C250.3,899.3 251.2,898.3 252.7,898.8C254.2,899.3 256,901.1 257.7,902.7C259.3,904.4 260.9,907.6 262.6,908.6C264.2,909.6 265.9,908.8 267.5,908.6C269.1,908.5 270.8,907.2 272.4,907.6C274.1,908.1 275.7,910.8 277.3,911.6C279,912.4 280.6,913.4 282.3,912.6C283.9,911.8 285.6,907.5 287.2,906.7C288.8,905.8 290.5,908.5 292.1,907.6C293.8,906.8 295.4,902.4 297,901.7C298.7,901.1 300.3,903.5 302,903.7C303.6,903.9 305.3,903.2 306.9,902.7C308.5,902.2 310.2,900.8 311.8,900.8C313.5,900.8 315.1,903.1 316.7,902.7C318.4,902.4 320,901.1 321.7,898.8C323.3,896.5 325.1,891.1 326.6,888.9C328.1,886.8 329.1,885.8 330.5,886C332,886.1 333.8,888.9 335.5,889.9C337.1,890.9 338.9,891.4 340.4,891.9C341.9,892.4 343,891.2 344.3,892.9C345.6,894.5 346.8,899.3 348.3,901.7C349.7,904.2 351.5,907.5 353.2,907.6C354.8,907.8 356.5,903.7 358.1,902.7C359.7,901.7 361.4,902.1 363,901.7C364.7,901.4 366.3,900.8 368,900.8C369.6,900.8 371.2,901.9 372.9,901.7C374.5,901.6 376.2,899.6 377.8,899.8C379.4,899.9 381.1,902.1 382.7,902.7C384.4,903.4 386,904 387.6,903.7C389.3,903.4 390.9,900.6 392.6,900.8C394.2,900.9 395.9,903.7 397.5,904.7C399.1,905.7 400.6,906.5 402.4,906.7C404.2,906.8 406.5,905.4 408.3,905.7C410.1,906 411.6,908.3 413.3,908.6C414.9,909 416.5,908 418.2,907.6C419.8,907.3 421.5,907.6 423.1,906.7C424.7,905.7 426.4,903.2 428,901.7C429.7,900.3 431.3,898.5 433,897.8C434.6,897.1 436.4,898 437.9,897.8C439.4,897.6 440.5,895.7 441.8,896.8C443.1,898 445.1,903.4 445.8,904.7M454.8,925.4C455.4,922.3 457.2,909.9 458.7,906.7C460.2,903.4 462.2,907.6 463.6,905.7C465.1,903.7 466.3,898.1 467.6,894.8C468.9,891.6 470.2,886.5 471.5,886C472.8,885.5 474,890.2 475.5,891.9C476.9,893.5 478.7,894.2 480.4,895.8C482,897.5 483.7,901.6 485.3,901.7C486.9,901.9 488.4,897.1 490.2,896.8C492,896.5 494.3,901.1 496.1,899.8C497.9,898.5 499.4,891.6 501.1,888.9C502.7,886.3 504.3,885.2 506,884C507.6,882.9 509.3,883.4 510.9,882C512.5,880.7 514.2,877.3 515.8,876.1C517.5,875 519.1,874.3 520.8,875.1C522.4,876 524,878.4 525.7,881.1C527.3,883.7 529.1,888.8 530.6,890.9C532.1,893 533.1,893.4 534.5,893.9C536,894.4 537.8,892.5 539.5,893.9C541.1,895.2 542.8,899.9 544.4,901.7C546,903.5 547.7,904.4 549.3,904.7C551,905 552.6,905.4 554.2,903.7C555.9,902.1 557.5,896.7 559.2,894.8C560.8,893 562.4,894.2 564.1,892.9C565.7,891.6 567.4,888.8 569,887C570.7,885.2 572.3,884.5 573.9,882C575.6,879.6 577.1,874.7 578.9,872.2C580.7,869.7 583,867.8 584.8,867.3C586.6,866.8 588.1,868.1 589.7,869.2C591.3,870.4 593,873.3 594.6,874.2C596.3,875 597.9,874.3 599.5,874.2C601.2,874 602.8,872.5 604.5,873.2C606.1,873.8 607.9,875.8 609.4,878.1C610.9,880.4 611.9,885.7 613.3,887C614.8,888.3 616.6,886 618.3,886C619.9,886 621.5,886.1 623.2,887C624.8,887.8 626.5,889.4 628.1,890.9C629.7,892.4 631.6,896.2 633,895.8C634.5,895.5 635.7,892.7 637,888.9C638.3,885.2 639.6,879.7 640.9,873.2C642.2,866.6 643.5,857.4 644.8,849.5C646.2,841.7 647.5,834.1 648.8,825.9C650.1,817.7 651.4,809.8 652.7,800.3C654,790.8 655.4,779.3 656.7,768.8C658,758.3 659.5,745.8 660.6,737.3C661.8,728.7 662.6,722.2 663.6,717.6C664.5,713 665.5,709.7 666.5,709.7C667.5,709.7 668.5,713.8 669.5,717.6C670.5,721.4 671.4,726.1 672.4,732.3C673.4,738.6 674.4,746.3 675.4,755C676.4,763.7 677.3,776.3 678.3,784.5C679.3,792.8 680.3,797.3 681.3,804.2C682.3,811.1 683.3,817 684.2,825.9C685.2,834.8 686.2,847.2 687.2,857.4C688.2,867.6 689.2,878.8 690.1,887C691.1,895.2 692.1,901.1 693.1,906.7C694.1,912.2 694.9,916.3 696.1,920.5C697.2,924.6 698.8,930.8 700,931.3C701.1,931.8 702,925.9 703,923.4C703.9,920.9 704.9,916.2 705.9,916.5C706.9,916.8 708.4,923.9 708.9,925.4M717.7,903.7C718.2,903.5 719.7,901.2 720.7,902.7C721.7,904.2 722.5,908 723.6,912.6C724.8,917.2 726.3,925.4 727.6,930.3C728.9,935.2 730.4,939.3 731.5,942.1C732.7,944.9 733.3,947.2 734.5,947C735.6,946.9 737.1,942.1 738.4,941.1C739.7,940.1 741,941.1 742.3,941.1C743.7,941.1 745,943.6 746.3,941.1C747.6,938.7 748.9,931.8 750.2,926.4C751.5,920.9 752.9,913.9 754.2,908.6C755.5,903.4 756.8,898 758.1,894.8C759.4,891.7 760.7,890.4 762,889.9C763.4,889.4 764.7,892.2 766,891.9C767.3,891.6 768.6,889.4 769.9,888C771.2,886.5 772.5,883.7 773.9,883C775.2,882.4 776.5,884.2 777.8,884C779.1,883.8 780.4,883.7 781.7,882C783.1,880.4 784.4,874.8 785.7,874.2C787,873.5 788.3,877.3 789.6,878.1C790.9,878.9 792.2,879.4 793.6,879.1C794.9,878.8 796.2,875.6 797.5,876.1C798.8,876.6 800,880.6 801.4,882C802.9,883.5 804.9,884.7 806.4,885C807.8,885.3 808.8,883.4 810.3,884C811.8,884.7 813.7,889.1 815.2,888.9C816.7,888.8 817.9,883.5 819.2,883C820.5,882.5 821.6,885.8 823.1,886C824.6,886.1 826.6,884.7 828,884C829.5,883.4 830.5,882.9 832,882C833.4,881.2 835.3,879.6 836.9,879.1C838.5,878.6 840.2,879.3 841.8,879.1C843.5,878.9 845.3,878.9 846.7,878.1C848.2,877.3 849.4,875 850.7,874.2C852,873.3 853.1,872.7 854.6,873.2C856.1,873.7 857.7,875.8 859.5,877.1C861.3,878.4 863.6,879.4 865.5,881.1C867.3,882.7 868.7,885.3 870.4,887C872,888.6 873.7,890.4 875.3,890.9C876.9,891.4 878.6,890.9 880.2,889.9C881.9,888.9 883.7,884.5 885.1,885C886.6,885.5 887.6,890.6 889.1,892.9C890.6,895.2 892.4,897 894,898.8C895.7,900.6 897.3,903.4 898.9,903.7C900.6,904 902.2,900.4 903.9,900.8C905.5,901.1 907.5,904.7 908.8,905.7C910.1,906.7 910.6,907.5 911.7,906.7C912.9,905.8 914.2,902.7 915.7,900.8C917.2,898.8 919,897 920.6,894.8C922.2,892.7 924,888.6 925.5,888C927,887.3 928.2,890.2 929.5,890.9C930.8,891.6 932.1,892.5 933.4,891.9C934.7,891.2 936,888.3 937.3,887C938.7,885.7 940,885 941.3,884C942.6,883 943.9,880.2 945.2,881.1C946.5,881.9 947.8,886.1 949.2,888.9C950.5,891.7 951.8,895.3 953.1,897.8C954.4,900.3 955.7,901.2 957,903.7C958.4,906.2 959.7,909.8 961,912.6C962.3,915.4 963.6,918 964.9,920.5C966.2,922.9 967.5,925 968.9,927.3C970.2,929.6 972.1,933.1 972.8,934.2M980.7,929.3C981.3,926.9 983.1,918.5 984.6,914.5C986.1,910.6 987.9,908.3 989.5,905.7C991.2,903.1 992.8,900.6 994.5,898.8C996.1,897 997.8,896.5 999.4,894.8C1001,893.2 1002.7,889.6 1004.3,888.9C1006,888.3 1007.6,890.7 1009.2,890.9C1010.9,891.1 1012.5,889.3 1014.2,889.9C1015.8,890.6 1017.4,892.7 1019.1,894.8C1020.7,897 1022.4,900.8 1024,902.7C1025.7,904.7 1027.3,907.3 1028.9,906.7C1030.6,906 1032.2,901.1 1033.9,898.8C1035.5,896.5 1037.1,894.5 1038.8,892.9C1040.4,891.2 1042.1,890.4 1043.7,888.9C1045.4,887.5 1047,884.7 1048.6,884C1050.3,883.4 1051.9,883.8 1053.6,885C1055.2,886.1 1057,888 1058.5,890.9C1060,893.9 1060.9,898.9 1062.4,902.7C1063.9,906.5 1065.7,912.6 1067.3,913.6C1069,914.5 1070.6,911.4 1072.3,908.6C1073.9,905.8 1075.6,899.8 1077.2,896.8C1078.8,893.9 1080.3,892.5 1082.1,890.9C1083.9,889.3 1086.2,887.1 1088,887C1089.8,886.8 1091.5,888 1093,889.9C1094.4,891.9 1095.6,895.3 1096.9,898.8C1098.2,902.2 1099.4,907.5 1100.8,910.6C1102.3,913.7 1104.1,915.9 1105.8,917.5C1107.4,919.1 1109,919.8 1110.7,920.5C1112.3,921.1 1114,922.7 1115.6,921.4C1117.2,920.1 1118.9,914.9 1120.5,912.6C1122.2,910.3 1124,908.6 1125.5,907.6C1126.9,906.7 1128.1,905.5 1129.4,906.7C1130.7,907.8 1131.9,913.4 1133.3,914.5C1134.8,915.7 1136.6,914.4 1138.3,913.6C1139.9,912.7 1141.7,908.5 1143.2,909.6C1144.7,910.8 1145.6,919.1 1147.1,920.5C1148.6,921.8 1150.4,918.6 1152,917.5C1153.7,916.3 1155.3,914 1157,913.6C1158.6,913.1 1160.2,914.5 1161.9,914.5C1163.5,914.5 1165.2,912.9 1166.8,913.6C1168.5,914.2 1170.1,918.5 1171.7,918.5C1173.4,918.5 1175,913.9 1176.7,913.6C1178.3,913.2 1179.9,916 1181.6,916.5C1183.2,917 1184.9,917.5 1186.5,916.5C1188.2,915.5 1190,913.9 1191.4,910.6C1192.9,907.3 1194.1,902.7 1195.4,896.8C1196.7,890.9 1198,876.5 1199.3,875.1C1200.6,873.8 1201.9,885.5 1203.3,888.9C1204.6,892.4 1205.9,894.8 1207.2,895.8C1208.5,896.8 1209.8,895.7 1211.1,894.8C1212.4,894 1213.8,890.7 1215.1,890.9C1216.4,891.1 1217.9,894.5 1219,895.8C1220.2,897.1 1220.8,894 1222,898.8C1223.1,903.5 1224.8,921.4 1225.9,924.4C1227.1,927.3 1227.9,918.8 1228.9,916.5C1229.8,914.2 1230.7,910.9 1231.8,910.6C1233,910.3 1235.1,913.9 1235.8,914.5" fill="none" stroke="#428BCA" stroke-width="5.5" stroke-linejoin="round" stroke-linecap="butt"/>
<path d="M190,1038.3H1236.5" stroke="#C2C2C2" stroke-width="3" stroke-linecap="round"/>
<path d="M190,1060.5H1236.5" stroke="#C2C2C2" stroke-width="3" stroke-linecap="round"/>
<path d="M190,1082.6H1236.5" stroke="#C2C2C2" stroke-width="3" stroke-linecap="round"/>
<path d="M210.5,706.5V1012.7M210.5,1025.3V1101.7" stroke="#515151" stroke-width="6.8"/>
<circle cx="210.5" cy="706.5" r="3.4" fill="#515151"/>
<path d="M688.2,706.5V1012.7M688.2,1025.3V1101.7" stroke="#515151" stroke-width="6.8"/>
<circle cx="688.2" cy="706.5" r="3.4" fill="#515151"/>
<path d="M738.5,706.5V1012.7M738.5,1025.3V1101.7" stroke="#515151" stroke-width="6.8"/>
<circle cx="738.5" cy="706.5" r="3.4" fill="#515151"/>
<path d="M1215.1,706.5V1012.7M1215.1,1025.3V1101.7" stroke="#515151" stroke-width="6.8"/>
<circle cx="1215.1" cy="706.5" r="3.4" fill="#515151"/>
<text x="660" y="693.8" font-size="27" text-anchor="middle" stroke="#000">UGC</text>
<path d="M159,1036.7H170.3V1084.5H159M159,1060.5H170.3" stroke="#444" stroke-width="1.3" fill="none"/>
<text x="152" y="1046.3" font-size="27" text-anchor="end" stroke="#000">1</text>
<text x="152" y="1094.3" font-size="27" text-anchor="end" stroke="#000">0</text>
<text transform="translate(98.3,1060) rotate(-90)" font-size="27" text-anchor="middle" stroke="#000">Data</text>
<path d="M190,1038.3L193,1038.3L196,1038.3L199.1,1038.3L202.1,1038.3L205.1,1038.3L208.1,1038.3L211.1,1038.3L214.2,1038.3L217.2,1038.3L220.2,1038.3L223.2,1038.3L226.3,1038.3L229.3,1038.3L232.3,1038.3L235.3,1038.3L238.3,1038.3L241.4,1038.3L244.4,1038.3L247.4,1038.3L250.4,1038.3L253.4,1038.3L256.5,1038.3L259.5,1038.3L262.5,1038.3L265.5,1038.3L268.6,1038.3L271.6,1038.3L274.6,1038.3L277.6,1038.3L280.6,1038.3L283.7,1038.3L286.7,1038.3L289.7,1038.3L292.7,1038.3L295.7,1038.3L298.8,1038.3L301.8,1038.3L304.8,1038.3L307.8,1038.3L310.8,1038.3L313.9,1038.3L316.9,1038.3L319.9,1038.3L322.9,1038.3L326,1038.3L329,1038.4L332,1038.4L335,1038.4L338,1038.4L341.1,1038.4L344.1,1038.5L347.1,1038.5L350.1,1038.5L353.1,1038.6L356.2,1038.6L359.2,1038.6L362.2,1038.6L365.2,1038.7L368.2,1038.7L371.3,1038.7L374.3,1038.7L377.3,1038.7L380.3,1038.7L383.4,1038.7L386.4,1038.7L389.4,1038.7L392.4,1038.8L395.4,1038.8L398.5,1038.8L401.5,1038.8L404.5,1038.8L407.5,1038.8L410.5,1038.8L413.6,1038.8L416.6,1038.8L419.6,1038.8L422.6,1038.9L425.7,1038.9L428.7,1038.9L431.7,1038.9L434.7,1038.9L437.7,1038.9L440.8,1038.9L443.8,1038.9L446.8,1038.9M453.8,1038.9L456.8,1038.9L459.8,1038.9L462.9,1038.9L465.9,1038.9L468.9,1038.9L471.9,1038.9L474.9,1038.9L478,1038.9L481,1038.8L484,1038.8L487,1038.8L490.1,1038.8L493.1,1038.8L496.1,1038.8L499.1,1038.8L502.1,1038.8L505.2,1038.8L508.2,1038.8L511.2,1038.7L514.2,1038.7L517.2,1038.7L520.3,1038.7L523.3,1038.7L526.3,1038.7L529.3,1038.7L532.4,1038.7L535.4,1038.7L538.4,1038.6L541.4,1038.6L544.4,1038.6L547.5,1038.6L550.5,1038.5L553.5,1038.5L556.5,1038.5L559.5,1038.4L562.6,1038.4L565.6,1038.4L568.6,1038.4L571.6,1038.4L574.6,1038.3L577.7,1038.3L580.7,1038.3L583.7,1038.3L586.7,1038.3L589.8,1038.3L592.8,1038.3L595.8,1038.3L598.8,1038.3L601.8,1038.3L604.9,1038.3L607.9,1038.3L610.9,1038.3L613.9,1038.3L616.9,1038.3L620,1038.3L623,1038.3L626,1038.3L629,1038.3L632,1038.3L635.1,1038.3L638.1,1038.3L641.1,1038.3L644.1,1038.3L647.2,1038.3L650.2,1038.3L653.2,1038.3L656.2,1038.3L659.2,1038.3L662.3,1038.3L665.3,1038.3L668.3,1038.3L671.3,1038.3L674.3,1038.3L677.4,1038.3L680.4,1038.3L683.4,1038.3L686.4,1038.3L689.5,1038.3L692.5,1038.3L695.5,1038.3L698.5,1038.4L701.5,1038.8L704.6,1039.9L707.6,1041.8L710.6,1043.9M716.6,1043.8L719.6,1041.6L722.6,1039.8L725.7,1038.8L728.7,1038.4L731.7,1038.3L734.7,1038.3L737.7,1038.3L740.8,1038.3L743.8,1038.3L746.8,1038.3L749.8,1038.3L752.9,1038.3L755.9,1038.3L758.9,1038.3L761.9,1038.3L764.9,1038.3L768,1038.3L771,1038.3L774,1038.3L777,1038.3L780,1038.3L783.1,1038.3L786.1,1038.3L789.1,1038.3L792.1,1038.3L795.2,1038.3L798.2,1038.3L801.2,1038.3L804.2,1038.3L807.2,1038.3L810.3,1038.3L813.3,1038.3L816.3,1038.3L819.3,1038.3L822.3,1038.3L825.4,1038.3L828.4,1038.3L831.4,1038.3L834.4,1038.3L837.4,1038.3L840.5,1038.3L843.5,1038.3L846.5,1038.3L849.5,1038.3L852.6,1038.3L855.6,1038.4L858.6,1038.4L861.6,1038.4L864.6,1038.4L867.7,1038.4L870.7,1038.5L873.7,1038.5L876.7,1038.5L879.7,1038.6L882.8,1038.6L885.8,1038.6L888.8,1038.6L891.8,1038.7L894.8,1038.7L897.9,1038.7L900.9,1038.7L903.9,1038.7L906.9,1038.7L910,1038.7L913,1038.7L916,1038.7L919,1038.8L922,1038.8L925.1,1038.8L928.1,1038.8L931.1,1038.8L934.1,1038.8L937.1,1038.8L940.2,1038.8L943.2,1038.8L946.2,1038.8L949.2,1038.9L952.3,1038.9L955.3,1038.9L958.3,1038.9L961.3,1038.9L964.3,1038.9L967.4,1038.9L970.4,1038.9L973.4,1038.9M980.4,1038.9L983.4,1038.9L986.4,1038.9L989.5,1038.9L992.5,1038.9L995.5,1038.9L998.5,1038.9L1001.5,1038.9L1004.6,1038.9L1007.6,1038.8L1010.6,1038.8L1013.6,1038.8L1016.6,1038.8L1019.6,1038.8L1022.7,1038.8L1025.7,1038.8L1028.7,1038.8L1031.7,1038.8L1034.7,1038.8L1037.8,1038.7L1040.8,1038.7L1043.8,1038.7L1046.8,1038.7L1049.8,1038.7L1052.9,1038.7L1055.9,1038.7L1058.9,1038.7L1061.9,1038.7L1064.9,1038.6L1067.9,1038.6L1071,1038.6L1074,1038.6L1077,1038.5L1080,1038.5L1083,1038.5L1086.1,1038.4L1089.1,1038.4L1092.1,1038.4L1095.1,1038.4L1098.1,1038.4L1101.2,1038.3L1104.2,1038.3L1107.2,1038.3L1110.2,1038.3L1113.2,1038.3L1116.2,1038.3L1119.3,1038.3L1122.3,1038.3L1125.3,1038.3L1128.3,1038.3L1131.3,1038.3L1134.4,1038.3L1137.4,1038.3L1140.4,1038.3L1143.4,1038.3L1146.4,1038.3L1149.5,1038.3L1152.5,1038.3L1155.5,1038.3L1158.5,1038.3L1161.5,1038.3L1164.5,1038.3L1167.6,1038.3L1170.6,1038.3L1173.6,1038.3L1176.6,1038.3L1179.6,1038.3L1182.7,1038.3L1185.7,1038.3L1188.7,1038.3L1191.7,1038.3L1194.7,1038.3L1197.8,1038.3L1200.8,1038.3L1203.8,1038.3L1206.8,1038.3L1209.8,1038.3L1212.8,1038.3L1215.9,1038.3L1218.9,1038.3L1221.9,1038.3L1224.9,1038.3L1227.9,1038.3L1231,1038.3L1234,1038.3L1237,1038.3" fill="none" stroke="#F0DC82" stroke-width="4.6" stroke-linejoin="round" stroke-linecap="butt"/>
<path d="M190,1038.3L193,1038.3L196,1038.3L199.1,1038.3L202.1,1038.3L205.1,1038.3L208.1,1038.3L211.1,1038.3L214.2,1038.3L217.2,1038.3L220.2,1038.3L223.2,1038.3L226.3,1038.3L229.3,1038.3L232.3,1038.3L235.3,1038.3L238.3,1038.3L241.4,1038.3L244.4,1038.3L247.4,1038.3L250.4,1038.3L253.4,1038.3L256.5,1038.3L259.5,1038.3L262.5,1038.3L265.5,1038.3L268.6,1038.3L271.6,1038.3L274.6,1038.3L277.6,1038.3L280.6,1038.3L283.7,1038.3L286.7,1038.3L289.7,1038.3L292.7,1038.3L295.7,1038.3L298.8,1038.3L301.8,1038.3L304.8,1038.3L307.8,1038.3L310.8,1038.3L313.9,1038.3L316.9,1038.3L319.9,1038.3L322.9,1038.4L326,1038.4L329,1038.4L332,1038.4L335,1038.5L338,1038.5L341.1,1038.6L344.1,1038.6L347.1,1038.7L350.1,1038.8L353.1,1038.8L356.2,1038.9L359.2,1038.9L362.2,1039L365.2,1039L368.2,1039L371.3,1039.1L374.3,1039.1L377.3,1039.1L380.3,1039.1L383.4,1039.1L386.4,1039.2L389.4,1039.2L392.4,1039.2L395.4,1039.2L398.5,1039.3L401.5,1039.3L404.5,1039.3L407.5,1039.3L410.5,1039.3L413.6,1039.4L416.6,1039.4L419.6,1039.4L422.6,1039.4L425.7,1039.4L428.7,1039.4L431.7,1039.4L434.7,1039.5L437.7,1039.5L440.8,1039.5L443.8,1039.5L446.8,1039.5M453.8,1039.5L456.8,1039.5L459.8,1039.5L462.9,1039.5L465.9,1039.5L468.9,1039.4L471.9,1039.4L474.9,1039.4L478,1039.4L481,1039.4L484,1039.4L487,1039.4L490.1,1039.3L493.1,1039.3L496.1,1039.3L499.1,1039.3L502.1,1039.3L505.2,1039.2L508.2,1039.2L511.2,1039.2L514.2,1039.2L517.2,1039.1L520.3,1039.1L523.3,1039.1L526.3,1039.1L529.3,1039.1L532.4,1039L535.4,1039L538.4,1039L541.4,1038.9L544.4,1038.9L547.5,1038.8L550.5,1038.8L553.5,1038.7L556.5,1038.6L559.5,1038.6L562.6,1038.5L565.6,1038.5L568.6,1038.4L571.6,1038.4L574.6,1038.4L577.7,1038.4L580.7,1038.3L583.7,1038.3L586.7,1038.3L589.8,1038.3L592.8,1038.3L595.8,1038.3L598.8,1038.3L601.8,1038.3L604.9,1038.3L607.9,1038.3L610.9,1038.3L613.9,1038.3L616.9,1038.3L620,1038.3L623,1038.3L626,1038.3L629,1038.3L632,1038.3L635.1,1038.3L638.1,1038.3L641.1,1038.3L644.1,1038.3L647.2,1038.3L650.2,1038.3L653.2,1038.3L656.2,1038.3L659.2,1038.3L662.3,1038.3L665.3,1038.3L668.3,1038.3L671.3,1038.3L674.3,1038.3L677.4,1038.3L680.4,1038.3L683.4,1038.3L686.4,1038.3L689.5,1038.3L692.5,1038.3L695.5,1038.3L698.5,1038.4L701.5,1038.9L704.6,1040.1L707.6,1042.3L710.6,1044.8M716.6,1044.6L719.6,1042.2L722.6,1040L725.7,1038.8L728.7,1038.4L731.7,1038.3L734.7,1038.3L737.7,1038.3L740.8,1038.3L743.8,1038.3L746.8,1038.3L749.8,1038.3L752.9,1038.3L755.9,1038.3L758.9,1038.3L761.9,1038.3L764.9,1038.3L768,1038.3L771,1038.3L774,1038.3L777,1038.3L780,1038.3L783.1,1038.3L786.1,1038.3L789.1,1038.3L792.1,1038.3L795.2,1038.3L798.2,1038.3L801.2,1038.3L804.2,1038.3L807.2,1038.3L810.3,1038.3L813.3,1038.3L816.3,1038.3L819.3,1038.3L822.3,1038.3L825.4,1038.3L828.4,1038.3L831.4,1038.3L834.4,1038.3L837.4,1038.3L840.5,1038.3L843.5,1038.3L846.5,1038.3L849.5,1038.4L852.6,1038.4L855.6,1038.4L858.6,1038.4L861.6,1038.5L864.6,1038.5L867.7,1038.6L870.7,1038.6L873.7,1038.7L876.7,1038.8L879.7,1038.8L882.8,1038.9L885.8,1038.9L888.8,1039L891.8,1039L894.8,1039L897.9,1039.1L900.9,1039.1L903.9,1039.1L906.9,1039.1L910,1039.1L913,1039.2L916,1039.2L919,1039.2L922,1039.2L925.1,1039.3L928.1,1039.3L931.1,1039.3L934.1,1039.3L937.1,1039.3L940.2,1039.4L943.2,1039.4L946.2,1039.4L949.2,1039.4L952.3,1039.4L955.3,1039.4L958.3,1039.4L961.3,1039.5L964.3,1039.5L967.4,1039.5L970.4,1039.5L973.4,1039.5M980.4,1039.5L983.4,1039.5L986.4,1039.5L989.5,1039.5L992.5,1039.5L995.5,1039.4L998.5,1039.4L1001.5,1039.4L1004.6,1039.4L1007.6,1039.4L1010.6,1039.4L1013.6,1039.4L1016.6,1039.3L1019.6,1039.3L1022.7,1039.3L1025.7,1039.3L1028.7,1039.3L1031.7,1039.2L1034.7,1039.2L1037.8,1039.2L1040.8,1039.2L1043.8,1039.1L1046.8,1039.1L1049.8,1039.1L1052.9,1039.1L1055.9,1039.1L1058.9,1039L1061.9,1039L1064.9,1039L1067.9,1038.9L1071,1038.9L1074,1038.8L1077,1038.8L1080,1038.7L1083,1038.6L1086.1,1038.6L1089.1,1038.5L1092.1,1038.5L1095.1,1038.4L1098.1,1038.4L1101.2,1038.4L1104.2,1038.4L1107.2,1038.3L1110.2,1038.3L1113.2,1038.3L1116.2,1038.3L1119.3,1038.3L1122.3,1038.3L1125.3,1038.3L1128.3,1038.3L1131.3,1038.3L1134.4,1038.3L1137.4,1038.3L1140.4,1038.3L1143.4,1038.3L1146.4,1038.3L1149.5,1038.3L1152.5,1038.3L1155.5,1038.3L1158.5,1038.3L1161.5,1038.3L1164.5,1038.3L1167.6,1038.3L1170.6,1038.3L1173.6,1038.3L1176.6,1038.3L1179.6,1038.3L1182.7,1038.3L1185.7,1038.3L1188.7,1038.3L1191.7,1038.3L1194.7,1038.3L1197.8,1038.3L1200.8,1038.3L1203.8,1038.3L1206.8,1038.3L1209.8,1038.3L1212.8,1038.3L1215.9,1038.3L1218.9,1038.3L1221.9,1038.3L1224.9,1038.3L1227.9,1038.3L1231,1038.3L1234,1038.3L1237,1038.3" fill="none" stroke="#9E2F28" stroke-width="4.6" stroke-linejoin="round" stroke-linecap="butt"/>
<path d="M190,1038.3L193,1038.3L196,1038.3L199.1,1038.3L202.1,1038.3L205.1,1038.3L208.1,1038.3L211.1,1038.3L214.2,1038.3L217.2,1038.3L220.2,1038.3L223.2,1038.3L226.3,1038.3L229.3,1038.3L232.3,1038.3L235.3,1038.3L238.3,1038.3L241.4,1038.3L244.4,1038.3L247.4,1038.3L250.4,1038.3L253.4,1038.3L256.5,1038.3L259.5,1038.3L262.5,1038.3L265.5,1038.3L268.6,1038.3L271.6,1038.3L274.6,1038.3L277.6,1038.3L280.6,1038.3L283.7,1038.3L286.7,1038.3L289.7,1038.3L292.7,1038.3L295.7,1038.3L298.8,1038.3L301.8,1038.3L304.8,1038.3L307.8,1038.3L310.8,1038.3L313.9,1038.3L316.9,1038.3L319.9,1038.3L322.9,1038.4L326,1038.4L329,1038.4L332,1038.4L335,1038.5L338,1038.5L341.1,1038.6L344.1,1038.6L347.1,1038.7L350.1,1038.8L353.1,1038.8L356.2,1038.9L359.2,1038.9L362.2,1039L365.2,1039L368.2,1039L371.3,1039.1L374.3,1039.1L377.3,1039.1L380.3,1039.1L383.4,1039.1L386.4,1039.2L389.4,1039.2L392.4,1039.2L395.4,1039.2L398.5,1039.3L401.5,1039.3L404.5,1039.3L407.5,1039.3L410.5,1039.3L413.6,1039.4L416.6,1039.4L419.6,1039.4L422.6,1039.4L425.7,1039.4L428.7,1039.4L431.7,1039.4L434.7,1039.5L437.7,1039.5L440.8,1039.5L443.8,1039.5L446.8,1039.5M453.8,1039.5L456.8,1039.5L459.8,1039.5L462.9,1039.5L465.9,1039.5L468.9,1039.4L471.9,1039.4L474.9,1039.4L478,1039.4L481,1039.4L484,1039.4L487,1039.4L490.1,1039.3L493.1,1039.3L496.1,1039.3L499.1,1039.3L502.1,1039.3L505.2,1039.2L508.2,1039.2L511.2,1039.2L514.2,1039.2L517.2,1039.1L520.3,1039.1L523.3,1039.1L526.3,1039.1L529.3,1039.1L532.4,1039L535.4,1039L538.4,1039L541.4,1038.9L544.4,1038.9L547.5,1038.8L550.5,1038.8L553.5,1038.7L556.5,1038.6L559.5,1038.6L562.6,1038.5L565.6,1038.5L568.6,1038.4L571.6,1038.4L574.6,1038.4L577.7,1038.4L580.7,1038.3L583.7,1038.3L586.7,1038.3L589.8,1038.3L592.8,1038.3L595.8,1038.3L598.8,1038.3L601.8,1038.3L604.9,1038.3L607.9,1038.3L610.9,1038.3L613.9,1038.3L616.9,1038.3L620,1038.3L623,1038.3L626,1038.3L629,1038.3L632,1038.3L635.1,1038.3L638.1,1038.3L641.1,1038.3L644.1,1038.3L647.2,1038.3L650.2,1038.3L653.2,1038.3L656.2,1038.3L659.2,1038.3L662.3,1038.3L665.3,1038.3L668.3,1038.3L671.3,1038.3L674.3,1038.3L677.4,1038.3L680.4,1038.3L683.4,1038.3L686.4,1038.3L689.5,1038.3L692.5,1038.3L695.5,1038.3L698.5,1038.4L701.5,1038.9L704.6,1040.1L707.6,1042.3L710.6,1044.8M716.6,1044.6L719.6,1042.2L722.6,1040L725.7,1038.8L728.7,1038.4L731.7,1038.3L734.7,1038.3L737.7,1038.3L740.8,1038.3L743.8,1038.3L746.8,1038.3L749.8,1038.3L752.9,1038.3L755.9,1038.3L758.9,1038.3L761.9,1038.3L764.9,1038.3L768,1038.3L771,1038.3L774,1038.3L777,1038.3L780,1038.3L783.1,1038.3L786.1,1038.3L789.1,1038.3L792.1,1038.3L795.2,1038.3L798.2,1038.3L801.2,1038.3L804.2,1038.3L807.2,1038.3L810.3,1038.3L813.3,1038.3L816.3,1038.3L819.3,1038.3L822.3,1038.3L825.4,1038.3L828.4,1038.3L831.4,1038.3L834.4,1038.3L837.4,1038.3L840.5,1038.3L843.5,1038.3L846.5,1038.3L849.5,1038.4L852.6,1038.4L855.6,1038.4L858.6,1038.4L861.6,1038.5L864.6,1038.5L867.7,1038.6L870.7,1038.6L873.7,1038.7L876.7,1038.8L879.7,1038.8L882.8,1038.9L885.8,1038.9L888.8,1039L891.8,1039L894.8,1039L897.9,1039.1L900.9,1039.1L903.9,1039.1L906.9,1039.1L910,1039.1L913,1039.2L916,1039.2L919,1039.2L922,1039.2L925.1,1039.3L928.1,1039.3L931.1,1039.3L934.1,1039.3L937.1,1039.3L940.2,1039.4L943.2,1039.4L946.2,1039.4L949.2,1039.4L952.3,1039.4L955.3,1039.4L958.3,1039.4L961.3,1039.5L964.3,1039.5L967.4,1039.5L970.4,1039.5L973.4,1039.5M980.4,1039.5L983.4,1039.5L986.4,1039.5L989.5,1039.5L992.5,1039.5L995.5,1039.4L998.5,1039.4L1001.5,1039.4L1004.6,1039.4L1007.6,1039.4L1010.6,1039.4L1013.6,1039.4L1016.6,1039.3L1019.6,1039.3L1022.7,1039.3L1025.7,1039.3L1028.7,1039.3L1031.7,1039.2L1034.7,1039.2L1037.8,1039.2L1040.8,1039.2L1043.8,1039.1L1046.8,1039.1L1049.8,1039.1L1052.9,1039.1L1055.9,1039.1L1058.9,1039L1061.9,1039L1064.9,1039L1067.9,1038.9L1071,1038.9L1074,1038.8L1077,1038.8L1080,1038.7L1083,1038.6L1086.1,1038.6L1089.1,1038.5L1092.1,1038.5L1095.1,1038.4L1098.1,1038.4L1101.2,1038.4L1104.2,1038.4L1107.2,1038.3L1110.2,1038.3L1113.2,1038.3L1116.2,1038.3L1119.3,1038.3L1122.3,1038.3L1125.3,1038.3L1128.3,1038.3L1131.3,1038.3L1134.4,1038.3L1137.4,1038.3L1140.4,1038.3L1143.4,1038.3L1146.4,1038.3L1149.5,1038.3L1152.5,1038.3L1155.5,1038.3L1158.5,1038.3L1161.5,1038.3L1164.5,1038.3L1167.6,1038.3L1170.6,1038.3L1173.6,1038.3L1176.6,1038.3L1179.6,1038.3L1182.7,1038.3L1185.7,1038.3L1188.7,1038.3L1191.7,1038.3L1194.7,1038.3L1197.8,1038.3L1200.8,1038.3L1203.8,1038.3L1206.8,1038.3L1209.8,1038.3L1212.8,1038.3L1215.9,1038.3L1218.9,1038.3L1221.9,1038.3L1224.9,1038.3L1227.9,1038.3L1231,1038.3L1234,1038.3L1237,1038.3" fill="none" stroke="#5EBF99" stroke-width="4.6" stroke-linejoin="round" stroke-linecap="butt"/>
<path d="M190,1038.3L193,1038.3L196,1038.3L199.1,1038.3L202.1,1038.3L205.1,1038.3L208.1,1038.3L211.1,1038.3L214.2,1038.3L217.2,1038.3L220.2,1038.3L223.2,1038.3L226.3,1038.3L229.3,1038.3L232.3,1038.3L235.3,1038.3L238.3,1038.3L241.4,1038.3L244.4,1038.3L247.4,1038.3L250.4,1038.3L253.4,1038.3L256.5,1038.3L259.5,1038.3L262.5,1038.3L265.5,1038.3L268.6,1038.3L271.6,1038.3L274.6,1038.3L277.6,1038.3L280.6,1038.3L283.7,1038.3L286.7,1038.3L289.7,1038.3L292.7,1038.3L295.7,1038.3L298.8,1038.3L301.8,1038.3L304.8,1038.3L307.8,1038.3L310.8,1038.3L313.9,1038.3L316.9,1038.6L319.9,1039L322.9,1039.3L326,1039.7L329,1040.3L332,1041L335,1041.7L338,1042.5L341.1,1043.6L344.1,1044.8L347.1,1045.9L350.1,1047.1L353.1,1048.1L356.2,1049.1L359.2,1050.1L362.2,1051.1L365.2,1052.1L368.2,1052.5L371.3,1053L374.3,1053.4L377.3,1053.8L380.3,1054.3L383.4,1054.7L386.4,1055.2L389.4,1055.6L392.4,1056L395.4,1056.5L398.5,1056.9L401.5,1057.3L404.5,1057.7L407.5,1058.1L410.5,1058.4L413.6,1058.8L416.6,1059.2L419.6,1059.6L422.6,1060L425.7,1060.3L428.7,1060.5L431.7,1060.7L434.7,1060.8L437.7,1061L440.8,1061.2L443.8,1061.3L446.8,1061.5M453.8,1061.5L456.8,1061.3L459.8,1061.2L462.9,1061L465.9,1060.8L468.9,1060.7L471.9,1060.5L474.9,1060.3L478,1060L481,1059.6L484,1059.2L487,1058.8L490.1,1058.4L493.1,1058.1L496.1,1057.7L499.1,1057.3L502.1,1056.9L505.2,1056.5L508.2,1056L511.2,1055.6L514.2,1055.2L517.2,1054.7L520.3,1054.3L523.3,1053.8L526.3,1053.4L529.3,1053L532.4,1052.5L535.4,1052.1L538.4,1051.1L541.4,1050.1L544.4,1049.1L547.5,1048.1L550.5,1047.1L553.5,1045.9L556.5,1044.8L559.5,1043.6L562.6,1042.5L565.6,1041.7L568.6,1041L571.6,1040.3L574.6,1039.7L577.7,1039.3L580.7,1039L583.7,1038.6L586.7,1038.3L589.8,1038.3L592.8,1038.3L595.8,1038.3L598.8,1038.3L601.8,1038.3L604.9,1038.3L607.9,1038.3L610.9,1038.3L613.9,1038.3L616.9,1038.3L620,1038.3L623,1038.3L626,1038.3L629,1038.3L632,1038.3L635.1,1038.3L638.1,1038.3L641.1,1038.3L644.1,1038.3L647.2,1038.3L650.2,1038.3L653.2,1038.3L656.2,1038.3L659.2,1038.3L662.3,1038.3L665.3,1038.3L668.3,1038.3L671.3,1038.3L674.3,1038.3L677.4,1038.3L680.4,1038.3L683.4,1038.3L686.4,1038.3L689.5,1038.3L692.5,1038.3L695.5,1038.3L698.5,1038.4L701.5,1038.9L704.6,1040.2L707.6,1042.6L710.6,1045.2M716.6,1045L719.6,1042.4L722.6,1040.1L725.7,1038.9L728.7,1038.4L731.7,1038.3L734.7,1038.3L737.7,1038.3L740.8,1038.3L743.8,1038.3L746.8,1038.3L749.8,1038.3L752.9,1038.3L755.9,1038.3L758.9,1038.3L761.9,1038.3L764.9,1038.3L768,1038.3L771,1038.3L774,1038.3L777,1038.3L780,1038.3L783.1,1038.3L786.1,1038.3L789.1,1038.3L792.1,1038.3L795.2,1038.3L798.2,1038.3L801.2,1038.3L804.2,1038.3L807.2,1038.3L810.3,1038.3L813.3,1038.3L816.3,1038.3L819.3,1038.3L822.3,1038.3L825.4,1038.3L828.4,1038.3L831.4,1038.3L834.4,1038.3L837.4,1038.3L840.5,1038.3L843.5,1038.6L846.5,1039L849.5,1039.3L852.6,1039.7L855.6,1040.3L858.6,1041L861.6,1041.7L864.6,1042.4L867.7,1043.5L870.7,1044.7L873.7,1045.9L876.7,1047L879.7,1048L882.8,1049L885.8,1050L888.8,1051L891.8,1052L894.8,1052.4L897.9,1052.8L900.9,1053.3L903.9,1053.7L906.9,1054.1L910,1054.6L913,1055L916,1055.4L919,1055.9L922,1056.3L925.1,1056.7L928.1,1057.1L931.1,1057.5L934.1,1057.9L937.1,1058.3L940.2,1058.6L943.2,1059L946.2,1059.4L949.2,1059.8L952.3,1060.1L955.3,1060.3L958.3,1060.5L961.3,1060.6L964.3,1060.8L967.4,1061L970.4,1061.1L973.4,1061.3M980.4,1061.3L983.4,1061.1L986.4,1061L989.5,1060.8L992.5,1060.6L995.5,1060.5L998.5,1060.3L1001.5,1060.1L1004.6,1059.8L1007.6,1059.4L1010.6,1059L1013.6,1058.6L1016.6,1058.3L1019.6,1057.9L1022.7,1057.5L1025.7,1057.1L1028.7,1056.7L1031.7,1056.3L1034.7,1055.9L1037.8,1055.4L1040.8,1055L1043.8,1054.6L1046.8,1054.1L1049.8,1053.7L1052.9,1053.3L1055.9,1052.9L1058.9,1052.4L1061.9,1052L1064.9,1051L1067.9,1050L1071,1049L1074,1048.1L1077,1047.1L1080,1045.9L1083,1044.7L1086.1,1043.6L1089.1,1042.4L1092.1,1041.7L1095.1,1041L1098.1,1040.3L1101.2,1039.7L1104.2,1039.3L1107.2,1039L1110.2,1038.6L1113.2,1038.3L1116.2,1038.3L1119.3,1038.3L1122.3,1038.3L1125.3,1038.3L1128.3,1038.3L1131.3,1038.3L1134.4,1038.3L1137.4,1038.3L1140.4,1038.3L1143.4,1038.3L1146.4,1038.3L1149.5,1038.3L1152.5,1038.3L1155.5,1038.3L1158.5,1038.3L1161.5,1038.3L1164.5,1038.3L1167.6,1038.3L1170.6,1038.3L1173.6,1038.3L1176.6,1038.3L1179.6,1038.3L1182.7,1038.3L1185.7,1038.3L1188.7,1038.3L1191.7,1038.3L1194.7,1038.3L1197.8,1038.3L1200.8,1038.3L1203.8,1038.3L1206.8,1038.3L1209.8,1038.3L1212.8,1038.3L1215.9,1038.3L1218.9,1038.3L1221.9,1038.3L1224.9,1038.3L1227.9,1038.3L1231,1038.3L1234,1038.3L1237,1038.3" fill="none" stroke="#6B6FB5" stroke-width="4.6" stroke-linejoin="round" stroke-linecap="butt"/>
<path d="M190,1038.3L193,1038.3L196,1038.3L199.1,1038.3L202.1,1038.3L205.1,1038.3L208.1,1038.3L211.1,1038.3L214.2,1038.3L217.2,1038.3L220.2,1038.3L223.2,1038.3L226.3,1038.3L229.3,1038.3L232.3,1038.3L235.3,1038.3L238.3,1038.3L241.4,1038.3L244.4,1038.3L247.4,1038.3L250.4,1038.3L253.4,1038.3L256.5,1038.3L259.5,1038.3L262.5,1038.3L265.5,1038.3L268.6,1038.3L271.6,1038.3L274.6,1038.3L277.6,1038.3L280.6,1038.3L283.7,1038.3L286.7,1038.3L289.7,1038.3L292.7,1038.3L295.7,1038.3L298.8,1038.3L301.8,1038.3L304.8,1038.3L307.8,1038.3L310.8,1038.3L313.9,1038.3L316.9,1038.5L319.9,1038.7L322.9,1038.9L326,1039.1L329,1039.4L332,1039.8L335,1040.2L338,1040.6L341.1,1041.2L344.1,1041.9L347.1,1042.5L350.1,1043.2L353.1,1043.7L356.2,1044.3L359.2,1044.8L362.2,1045.4L365.2,1045.9L368.2,1046.1L371.3,1046.4L374.3,1046.6L377.3,1046.9L380.3,1047.1L383.4,1047.3L386.4,1047.6L389.4,1047.8L392.4,1048.1L395.4,1048.3L398.5,1048.6L401.5,1048.8L404.5,1049L407.5,1049.2L410.5,1049.4L413.6,1049.6L416.6,1049.8L419.6,1050L422.6,1050.2L425.7,1050.4L428.7,1050.5L431.7,1050.6L434.7,1050.7L437.7,1050.8L440.8,1050.9L443.8,1051L446.8,1051.1M453.8,1051.1L456.8,1051L459.8,1050.9L462.9,1050.8L465.9,1050.7L468.9,1050.6L471.9,1050.5L474.9,1050.4L478,1050.2L481,1050L484,1049.8L487,1049.6L490.1,1049.4L493.1,1049.2L496.1,1049L499.1,1048.8L502.1,1048.6L505.2,1048.3L508.2,1048.1L511.2,1047.8L514.2,1047.6L517.2,1047.3L520.3,1047.1L523.3,1046.9L526.3,1046.6L529.3,1046.4L532.4,1046.1L535.4,1045.9L538.4,1045.4L541.4,1044.8L544.4,1044.3L547.5,1043.7L550.5,1043.2L553.5,1042.5L556.5,1041.9L559.5,1041.2L562.6,1040.6L565.6,1040.2L568.6,1039.8L571.6,1039.4L574.6,1039.1L577.7,1038.9L580.7,1038.7L583.7,1038.5L586.7,1038.3L589.8,1038.3L592.8,1038.3L595.8,1038.3L598.8,1038.3L601.8,1038.3L604.9,1038.3L607.9,1038.3L610.9,1038.3L613.9,1038.3L616.9,1038.3L620,1038.3L623,1038.3L626,1038.3L629,1038.3L632,1038.3L635.1,1038.3L638.1,1038.3L641.1,1038.3L644.1,1038.3L647.2,1038.3L650.2,1038.3L653.2,1038.3L656.2,1038.3L659.2,1038.3L662.3,1038.3L665.3,1038.3L668.3,1038.3L671.3,1038.3L674.3,1038.3L677.4,1038.3L680.4,1038.3L683.4,1038.3L686.4,1038.3L689.5,1038.3L692.5,1038.3L695.5,1038.3L698.5,1038.5L701.5,1039L704.6,1040.5L707.6,1043.3L710.6,1046.3M716.6,1046.1L719.6,1043.1L722.6,1040.4L725.7,1039L728.7,1038.5L731.7,1038.3L734.7,1038.3L737.7,1038.3L740.8,1038.3L743.8,1038.3L746.8,1038.3L749.8,1038.3L752.9,1038.3L755.9,1038.3L758.9,1038.3L761.9,1038.3L764.9,1038.3L768,1038.3L771,1038.3L774,1038.3L777,1038.3L780,1038.3L783.1,1038.3L786.1,1038.3L789.1,1038.3L792.1,1038.3L795.2,1038.3L798.2,1038.3L801.2,1038.3L804.2,1038.3L807.2,1038.3L810.3,1038.3L813.3,1038.3L816.3,1038.3L819.3,1038.3L822.3,1038.3L825.4,1038.3L828.4,1038.3L831.4,1038.3L834.4,1038.3L837.4,1038.3L840.5,1038.3L843.5,1038.4L846.5,1038.5L849.5,1038.7L852.6,1038.8L855.6,1039L858.6,1039.3L861.6,1039.5L864.6,1039.8L867.7,1040.2L870.7,1040.6L873.7,1041L876.7,1041.5L879.7,1041.8L882.8,1042.2L885.8,1042.5L888.8,1042.9L891.8,1043.2L894.8,1043.4L897.9,1043.6L900.9,1043.7L903.9,1043.9L906.9,1044L910,1044.2L913,1044.3L916,1044.5L919,1044.7L922,1044.8L925.1,1045L928.1,1045.1L931.1,1045.3L934.1,1045.4L937.1,1045.5L940.2,1045.7L943.2,1045.8L946.2,1045.9L949.2,1046.1L952.3,1046.2L955.3,1046.3L958.3,1046.3L961.3,1046.4L964.3,1046.4L967.4,1046.5L970.4,1046.6L973.4,1046.6M980.4,1046.6L983.4,1046.6L986.4,1046.5L989.5,1046.4L992.5,1046.4L995.5,1046.3L998.5,1046.3L1001.5,1046.2L1004.6,1046.1L1007.6,1045.9L1010.6,1045.8L1013.6,1045.7L1016.6,1045.5L1019.6,1045.4L1022.7,1045.3L1025.7,1045.1L1028.7,1045L1031.7,1044.8L1034.7,1044.7L1037.8,1044.5L1040.8,1044.4L1043.8,1044.2L1046.8,1044L1049.8,1043.9L1052.9,1043.7L1055.9,1043.6L1058.9,1043.4L1061.9,1043.3L1064.9,1042.9L1067.9,1042.5L1071,1042.2L1074,1041.8L1077,1041.5L1080,1041.1L1083,1040.6L1086.1,1040.2L1089.1,1039.8L1092.1,1039.5L1095.1,1039.3L1098.1,1039L1101.2,1038.8L1104.2,1038.7L1107.2,1038.5L1110.2,1038.4L1113.2,1038.3L1116.2,1038.3L1119.3,1038.3L1122.3,1038.3L1125.3,1038.3L1128.3,1038.3L1131.3,1038.3L1134.4,1038.3L1137.4,1038.3L1140.4,1038.3L1143.4,1038.3L1146.4,1038.3L1149.5,1038.3L1152.5,1038.3L1155.5,1038.3L1158.5,1038.3L1161.5,1038.3L1164.5,1038.3L1167.6,1038.3L1170.6,1038.3L1173.6,1038.3L1176.6,1038.3L1179.6,1038.3L1182.7,1038.3L1185.7,1038.3L1188.7,1038.3L1191.7,1038.3L1194.7,1038.3L1197.8,1038.3L1200.8,1038.3L1203.8,1038.3L1206.8,1038.3L1209.8,1038.3L1212.8,1038.3L1215.9,1038.3L1218.9,1038.3L1221.9,1038.3L1224.9,1038.3L1227.9,1038.3L1231,1038.3L1234,1038.3L1237,1038.3" fill="none" stroke="#6AA550" stroke-width="4.6" stroke-linejoin="round" stroke-linecap="butt"/>
<path d="M190,1038.3L193,1038.3L196,1038.3L199.1,1038.3L202.1,1038.3L205.1,1038.3L208.1,1038.3L211.1,1038.3L214.2,1038.3L217.2,1038.3L220.2,1038.3L223.2,1038.3L226.3,1038.3L229.3,1038.3L232.3,1038.3L235.3,1038.3L238.3,1038.3L241.4,1038.3L244.4,1038.3L247.4,1038.3L250.4,1038.3L253.4,1038.3L256.5,1038.3L259.5,1038.3L262.5,1038.3L265.5,1038.3L268.6,1038.3L271.6,1038.3L274.6,1038.3L277.6,1038.3L280.6,1038.3L283.7,1038.3L286.7,1038.3L289.7,1038.3L292.7,1038.3L295.7,1038.3L298.8,1038.3L301.8,1038.3L304.8,1038.3L307.8,1038.3L310.8,1038.3L313.9,1038.3L316.9,1038.3L319.9,1038.4L322.9,1038.4L326,1038.4L329,1038.5L332,1038.6L335,1038.7L338,1038.7L341.1,1038.8L344.1,1039L347.1,1039.1L350.1,1039.2L353.1,1039.3L356.2,1039.4L359.2,1039.5L362.2,1039.6L365.2,1039.7L368.2,1039.8L371.3,1039.8L374.3,1039.8L377.3,1039.9L380.3,1039.9L383.4,1040L386.4,1040L389.4,1040.1L392.4,1040.1L395.4,1040.2L398.5,1040.2L401.5,1040.2L404.5,1040.3L407.5,1040.3L410.5,1040.4L413.6,1040.4L416.6,1040.4L419.6,1040.5L422.6,1040.5L425.7,1040.6L428.7,1040.6L431.7,1040.6L434.7,1040.6L437.7,1040.6L440.8,1040.6L443.8,1040.7L446.8,1040.7M453.8,1040.7L456.8,1040.7L459.8,1040.6L462.9,1040.6L465.9,1040.6L468.9,1040.6L471.9,1040.6L474.9,1040.6L478,1040.5L481,1040.5L484,1040.4L487,1040.4L490.1,1040.4L493.1,1040.3L496.1,1040.3L499.1,1040.2L502.1,1040.2L505.2,1040.2L508.2,1040.1L511.2,1040.1L514.2,1040L517.2,1040L520.3,1039.9L523.3,1039.9L526.3,1039.8L529.3,1039.8L532.4,1039.8L535.4,1039.7L538.4,1039.6L541.4,1039.5L544.4,1039.4L547.5,1039.3L550.5,1039.2L553.5,1039.1L556.5,1039L559.5,1038.8L562.6,1038.7L565.6,1038.7L568.6,1038.6L571.6,1038.5L574.6,1038.4L577.7,1038.4L580.7,1038.4L583.7,1038.3L586.7,1038.3L589.8,1038.3L592.8,1038.3L595.8,1038.3L598.8,1038.3L601.8,1038.3L604.9,1038.3L607.9,1038.3L610.9,1038.3L613.9,1038.3L616.9,1038.3L620,1038.3L623,1038.3L626,1038.3L629,1038.3L632,1038.3L635.1,1038.3L638.1,1038.3L641.1,1038.3L644.1,1038.3L647.2,1038.3L650.2,1038.3L653.2,1038.3L656.2,1038.3L659.2,1038.3L662.3,1038.3L665.3,1038.3L668.3,1038.3L671.3,1038.3L674.3,1038.3L677.4,1038.3L680.4,1038.3L683.4,1038.3L686.4,1038.3L689.5,1038.3L692.5,1038.3L695.5,1038.3L698.5,1038.4L701.5,1038.9L704.6,1040.2L707.6,1042.6L710.6,1045.2M716.6,1045L719.6,1042.4L722.6,1040.1L725.7,1038.9L728.7,1038.4L731.7,1038.3L734.7,1038.3L737.7,1038.3L740.8,1038.3L743.8,1038.3L746.8,1038.3L749.8,1038.3L752.9,1038.3L755.9,1038.3L758.9,1038.3L761.9,1038.3L764.9,1038.3L768,1038.3L771,1038.3L774,1038.3L777,1038.3L780,1038.3L783.1,1038.3L786.1,1038.3L789.1,1038.3L792.1,1038.3L795.2,1038.3L798.2,1038.3L801.2,1038.3L804.2,1038.3L807.2,1038.3L810.3,1038.3L813.3,1038.3L816.3,1038.3L819.3,1038.3L822.3,1038.3L825.4,1038.3L828.4,1038.3L831.4,1038.3L834.4,1038.3L837.4,1038.3L840.5,1038.3L843.5,1038.3L846.5,1038.4L849.5,1038.4L852.6,1038.4L855.6,1038.5L858.6,1038.5L861.6,1038.6L864.6,1038.6L867.7,1038.7L870.7,1038.8L873.7,1038.9L876.7,1039L879.7,1039.1L882.8,1039.1L885.8,1039.2L888.8,1039.3L891.8,1039.4L894.8,1039.4L897.9,1039.4L900.9,1039.5L903.9,1039.5L906.9,1039.5L910,1039.6L913,1039.6L916,1039.6L919,1039.7L922,1039.7L925.1,1039.7L928.1,1039.8L931.1,1039.8L934.1,1039.8L937.1,1039.8L940.2,1039.9L943.2,1039.9L946.2,1039.9L949.2,1040L952.3,1040L955.3,1040L958.3,1040L961.3,1040L964.3,1040L967.4,1040.1L970.4,1040.1L973.4,1040.1M980.4,1040.1L983.4,1040.1L986.4,1040.1L989.5,1040L992.5,1040L995.5,1040L998.5,1040L1001.5,1040L1004.6,1040L1007.6,1039.9L1010.6,1039.9L1013.6,1039.9L1016.6,1039.8L1019.6,1039.8L1022.7,1039.8L1025.7,1039.8L1028.7,1039.7L1031.7,1039.7L1034.7,1039.7L1037.8,1039.6L1040.8,1039.6L1043.8,1039.6L1046.8,1039.5L1049.8,1039.5L1052.9,1039.5L1055.9,1039.4L1058.9,1039.4L1061.9,1039.4L1064.9,1039.3L1067.9,1039.2L1071,1039.1L1074,1039.1L1077,1039L1080,1038.9L1083,1038.8L1086.1,1038.7L1089.1,1038.6L1092.1,1038.6L1095.1,1038.5L1098.1,1038.5L1101.2,1038.4L1104.2,1038.4L1107.2,1038.4L1110.2,1038.3L1113.2,1038.3L1116.2,1038.3L1119.3,1038.3L1122.3,1038.3L1125.3,1038.3L1128.3,1038.3L1131.3,1038.3L1134.4,1038.3L1137.4,1038.3L1140.4,1038.3L1143.4,1038.3L1146.4,1038.3L1149.5,1038.3L1152.5,1038.3L1155.5,1038.3L1158.5,1038.3L1161.5,1038.3L1164.5,1038.3L1167.6,1038.3L1170.6,1038.3L1173.6,1038.3L1176.6,1038.3L1179.6,1038.3L1182.7,1038.3L1185.7,1038.3L1188.7,1038.3L1191.7,1038.3L1194.7,1038.3L1197.8,1038.3L1200.8,1038.3L1203.8,1038.3L1206.8,1038.3L1209.8,1038.3L1212.8,1038.3L1215.9,1038.3L1218.9,1038.3L1221.9,1038.3L1224.9,1038.3L1227.9,1038.3L1231,1038.3L1234,1038.3L1237,1038.3" fill="none" stroke="#428BCA" stroke-width="5.4" stroke-linejoin="round" stroke-linecap="butt"/>
<circle cx="1236.8" cy="1038.3" r="2.7" fill="#428BCA"/>
<path d="M210,1131.7H1212" stroke="#000" stroke-width="3.2"/>
<path d="M179.5,1112.6H208.8V1150.8H179.5" fill="#CACACA" stroke="#000" stroke-width="3.3"/>
<path d="M1237.4,1112.6H1213.5V1150.8H1237.4" fill="#CACACA" stroke="#000" stroke-width="3.3"/>
<rect x="660" y="1112.8" width="80" height="37.9" fill="#3F58A8" stroke="#000" stroke-width="3.3"/>
<ellipse cx="660.8" cy="1146.8" rx="29.3" ry="60.4" fill="#149048" stroke="#000" stroke-width="3"/>
<text transform="translate(672.8,1146) rotate(-90)" font-size="27.3" text-anchor="middle" fill="#fff" stroke="#fff">SRRM4</text>
<text x="173.9" y="1188.9" font-size="27" stroke="#000">Up exon</text>
<text x="401.2" y="1187" font-size="32.2" fill="#808080" stroke="#808080">–150 nt</text>
<text x="695" y="1188.3" font-size="27" stroke="#000">Microexon</text>
<text x="938.9" y="1188.9" font-size="27" fill="#808080" stroke="#808080">+150 nt</text>
<text x="1240.7" y="1188.9" font-size="27" text-anchor="end" stroke="#000">Down exon</text>
<text x="1298.6" y="739.3" font-size="27" stroke="#000">Species</text>
<circle cx="1297.4" cy="794" r="7.1" fill="#428BCA"/>
<text x="1319.4" y="803.3" font-size="26.5" stroke="#000"><tspan font-style="italic">Hsa</tspan> (260)</text>
<circle cx="1297.4" cy="849.6" r="7.1" fill="#9E2F28"/>
<text x="1319.4" y="858.9" font-size="26.5" stroke="#000"><tspan font-style="italic">Mmu</tspan> (281)</text>
<circle cx="1297.4" cy="905.2" r="7.1" fill="#5EBF99"/>
<text x="1319.4" y="914.5" font-size="26.5" stroke="#000"><tspan font-style="italic">Dre</tspan> (245)</text>
<circle cx="1297.4" cy="960.8" r="7.1" fill="#F0DC82"/>
<text x="1319.4" y="970.1" font-size="26.5" stroke="#000"><tspan font-style="italic">Bla</tspan> (296)</text>
<circle cx="1297.4" cy="1016.4" r="7.1" fill="#6B6FB5"/>
<text x="1319.4" y="1025.7" font-size="26.5" stroke="#000"><tspan font-style="italic">Sma</tspan> (119)</text>
<circle cx="1297.4" cy="1072" r="7.1" fill="#6AA550"/>
<text x="1319.4" y="1081.3" font-size="26.5" stroke="#000"><tspan font-style="italic">Dme</tspan> (79)</text>
</g>
<g id="panel-d">
<text transform="translate(-1,1256.3) scale(0.9,1)" font-size="31.5" font-weight="bold" stroke="#000">d</text>
<path d="M111,1267.7H817" stroke="#000" stroke-width="3.3"/>
<path d="M91,1247.7H109.9V1286.3H91" fill="#CACACA" stroke="#000" stroke-width="3.3"/>
<path d="M837.5,1248.8H817.6V1287.1H837.5" fill="#CACACA" stroke="#000" stroke-width="3.3"/>
<rect x="446.9" y="1248.1" width="39.1" height="38.0" fill="#3F58A8" stroke="#000" stroke-width="3.3"/>
<text x="152.4" y="1326.6" font-size="27" text-anchor="middle" stroke="#000">5′ss</text>
<text x="244.5" y="1326.6" font-size="27" text-anchor="middle" stroke="#000">BP</text>
<text x="329.5" y="1326.6" font-size="27" text-anchor="middle" stroke="#000">Py</text>
<text x="414.7" y="1326.6" font-size="27" text-anchor="middle" stroke="#000">AG</text>
<text x="503.6" y="1326.6" font-size="27" text-anchor="middle" stroke="#000">5′ss</text>
<text x="593.3" y="1326.6" font-size="27" text-anchor="middle" stroke="#000">BP</text>
<text x="673.8" y="1326.6" font-size="27" text-anchor="middle" stroke="#000">Py</text>
<text x="766.2" y="1326.6" font-size="27" text-anchor="middle" stroke="#000">AG</text>
<rect x="115.7" y="1343.4" width="87.2" height="60" fill="#FCFDFE"/>
<rect x="202.9" y="1343.4" width="87.2" height="60" fill="#8C9BC3"/>
<rect x="290.1" y="1343.4" width="87.2" height="60" fill="#3A5E98"/>
<rect x="377.3" y="1343.4" width="87.2" height="60" fill="#FEC745"/>
<rect x="464.5" y="1343.4" width="87.2" height="60" fill="#B8C0D9"/>
<rect x="551.7" y="1343.4" width="87.2" height="60" fill="#9DABCB"/>
<rect x="638.9" y="1343.4" width="87.2" height="60" fill="#FEFCF5"/>
<rect x="726.1" y="1343.4" width="87.2" height="60" fill="#FEFEFA"/>
<rect x="115.7" y="1403.4" width="87.2" height="60" fill="#F4F4F9"/>
<rect x="202.9" y="1403.4" width="87.2" height="60" fill="#44669E"/>
<rect x="290.1" y="1403.4" width="87.2" height="60" fill="#164E8C"/>
<rect x="377.3" y="1403.4" width="87.2" height="60" fill="#FDBE2B"/>
<rect x="464.5" y="1403.4" width="87.2" height="60" fill="#B2BCD7"/>
<rect x="551.7" y="1403.4" width="87.2" height="60" fill="#EBEEF4"/>
<rect x="638.9" y="1403.4" width="87.2" height="60" fill="#F4F4F9"/>
<rect x="726.1" y="1403.4" width="87.2" height="60" fill="#F4F4F9"/>
<rect x="115.7" y="1463.5" width="87.2" height="60" fill="#FAFBFD"/>
<rect x="202.9" y="1463.5" width="87.2" height="60" fill="#94A1C6"/>
<rect x="290.1" y="1463.5" width="87.2" height="60" fill="#5F76A9"/>
<rect x="377.3" y="1463.5" width="87.2" height="60" fill="#FDBE2B"/>
<rect x="464.5" y="1463.5" width="87.2" height="60" fill="#7081B0"/>
<rect x="551.7" y="1463.5" width="87.2" height="60" fill="#A8B3D2"/>
<rect x="638.9" y="1463.5" width="87.2" height="60" fill="#F4F4F9"/>
<rect x="726.1" y="1463.5" width="87.2" height="60" fill="#C3C9DE"/>
<rect x="115.7" y="1523.5" width="87.2" height="60" fill="#FDFDFE"/>
<rect x="202.9" y="1523.5" width="87.2" height="60" fill="#164E8C"/>
<rect x="290.1" y="1523.5" width="87.2" height="60" fill="#8090BB"/>
<rect x="377.3" y="1523.5" width="87.2" height="60" fill="#FDBE2B"/>
<rect x="464.5" y="1523.5" width="87.2" height="60" fill="#939FC4"/>
<rect x="551.7" y="1523.5" width="87.2" height="60" fill="#FFFFFF"/>
<rect x="638.9" y="1523.5" width="87.2" height="60" fill="#F4F4F9"/>
<rect x="726.1" y="1523.5" width="87.2" height="60" fill="#FFFFFF"/>
<rect x="115.7" y="1583.5" width="87.2" height="60" fill="#8D9CC3"/>
<rect x="202.9" y="1583.5" width="87.2" height="60" fill="#C5CBE0"/>
<rect x="290.1" y="1583.5" width="87.2" height="60" fill="#D3D9E8"/>
<rect x="377.3" y="1583.5" width="87.2" height="60" fill="#FBD06B"/>
<rect x="464.5" y="1583.5" width="87.2" height="60" fill="#164E8C"/>
<rect x="551.7" y="1583.5" width="87.2" height="60" fill="#FFF7E8"/>
<rect x="638.9" y="1583.5" width="87.2" height="60" fill="#FFF7E8"/>
<rect x="726.1" y="1583.5" width="87.2" height="60" fill="#DDE1ED"/>
<rect x="115.7" y="1643.6" width="87.2" height="60" fill="#C3CBE1"/>
<rect x="202.9" y="1643.6" width="87.2" height="60" fill="#6A82B2"/>
<rect x="290.1" y="1643.6" width="87.2" height="60" fill="#D3D8E8"/>
<rect x="377.3" y="1643.6" width="87.2" height="60" fill="#FDC848"/>
<rect x="464.5" y="1643.6" width="87.2" height="60" fill="#E1E4F0"/>
<rect x="551.7" y="1643.6" width="87.2" height="60" fill="#FEE2A5"/>
<rect x="638.9" y="1643.6" width="87.2" height="60" fill="#FFFFFF"/>
<rect x="726.1" y="1643.6" width="87.2" height="60" fill="#E1E4F0"/>
<text x="248.2" y="1386.8" font-size="30" text-anchor="middle" fill="#fff" stroke="#fff" letter-spacing="2.3">***</text>
<text x="335.4" y="1386.8" font-size="30" text-anchor="middle" fill="#fff" stroke="#fff" letter-spacing="2.3">***</text>
<text x="422.6" y="1386.8" font-size="30" text-anchor="middle" fill="#fff" stroke="#fff" letter-spacing="2.3">***</text>
<text x="509.9" y="1386.8" font-size="30" text-anchor="middle" fill="#fff" stroke="#fff" letter-spacing="2.3">***</text>
<text x="248.2" y="1446.8" font-size="30" text-anchor="middle" fill="#fff" stroke="#fff" letter-spacing="2.3">***</text>
<text x="335.4" y="1446.8" font-size="30" text-anchor="middle" fill="#fff" stroke="#fff" letter-spacing="2.3">***</text>
<text x="422.6" y="1446.8" font-size="30" text-anchor="middle" fill="#fff" stroke="#fff" letter-spacing="2.3">***</text>
<text x="509.9" y="1446.8" font-size="30" text-anchor="middle" fill="#fff" stroke="#fff" letter-spacing="2.3">***</text>
<text x="249.6" y="1506.9" font-size="30" text-anchor="middle" fill="#fff" stroke="#fff" letter-spacing="2.3">*</text>
<text x="335.4" y="1506.9" font-size="30" text-anchor="middle" fill="#fff" stroke="#fff" letter-spacing="2.3">***</text>
<text x="422.6" y="1506.9" font-size="30" text-anchor="middle" fill="#fff" stroke="#fff" letter-spacing="2.3">***</text>
<text x="509.9" y="1506.9" font-size="30" text-anchor="middle" fill="#fff" stroke="#fff" letter-spacing="2.3">***</text>
<text x="769.1" y="1506.9" font-size="30" text-anchor="middle" fill="#fff" stroke="#fff" letter-spacing="2.3">**</text>
<text x="248.2" y="1566.9" font-size="30" text-anchor="middle" fill="#fff" stroke="#fff" letter-spacing="2.3">***</text>
<text x="335.4" y="1566.9" font-size="30" text-anchor="middle" fill="#fff" stroke="#fff" letter-spacing="2.3">***</text>
<text x="422.6" y="1566.9" font-size="30" text-anchor="middle" fill="#fff" stroke="#fff" letter-spacing="2.3">***</text>
<text x="509.9" y="1566.9" font-size="30" text-anchor="middle" fill="#fff" stroke="#fff" letter-spacing="2.3">***</text>
<text x="158.7" y="1626.9" font-size="30" text-anchor="middle" fill="#fff" stroke="#fff" letter-spacing="2.3">**</text>
<text x="422.6" y="1626.9" font-size="30" text-anchor="middle" fill="#fff" stroke="#fff" letter-spacing="2.3">***</text>
<text x="509.9" y="1626.9" font-size="30" text-anchor="middle" fill="#fff" stroke="#fff" letter-spacing="2.3">***</text>
<text x="336.8" y="1687" font-size="30" text-anchor="middle" fill="#fff" stroke="#fff" letter-spacing="2.3">*</text>
<text x="422.6" y="1687" font-size="30" text-anchor="middle" fill="#fff" stroke="#fff" letter-spacing="2.3">***</text>
<path d="M115.7,1341.9V1705.1M202.9,1341.9V1705.1M290.1,1341.9V1705.1M377.3,1341.9V1705.1M464.5,1341.9V1705.1M551.7,1341.9V1705.1M638.9,1341.9V1705.1M726.1,1341.9V1705.1M813.3,1341.9V1705.1M114.2,1343.4H814.8M114.2,1403.4H814.8M114.2,1463.5H814.8M114.2,1523.5H814.8M114.2,1583.5H814.8M114.2,1643.6H814.8M114.2,1703.6H814.8" stroke="#000" stroke-width="3" fill="none"/>
<text x="98.6" y="1379.4" font-size="26.5" text-anchor="end" font-style="italic" stroke="#000">Hsa</text>
<text x="97.2" y="1443.4" font-size="26.5" text-anchor="end" font-style="italic" stroke="#000">Mmu</text>
<text x="99.1" y="1505.6" font-size="26.5" text-anchor="end" font-style="italic" stroke="#000">Dre</text>
<text x="99.3" y="1565.4" font-size="26.5" text-anchor="end" font-style="italic" stroke="#000">Bla</text>
<text x="98" y="1625.5" font-size="26.5" text-anchor="end" font-style="italic" stroke="#000">Sma</text>
<text x="98" y="1685.5" font-size="26.5" text-anchor="end" font-style="italic" stroke="#000">Dme</text>
<defs><linearGradient id="gd" x1="0" x2="1" y1="0" y2="0"><stop offset="0" stop-color="#FBB829"/><stop offset="0.5" stop-color="#FFFFFF"/><stop offset="1" stop-color="#164E8C"/></linearGradient></defs>
<rect x="196.4" y="1736.5" width="129" height="21.4" fill="url(#gd)" stroke="#222" stroke-width="1"/>
<text x="116" y="1753.7" font-size="26" stroke="#000">Weak</text>
<text x="340" y="1757.6" font-size="27" stroke="#000">Strong (relative to longer AS exons)</text>
</g>
<g id="panel-e">
<text transform="translate(887,1257.2) scale(0.9,1)" font-size="31.5" font-weight="bold" stroke="#000">e</text>
<g fill="#CDCDCD"><circle cx="1130.8" cy="1374.9" r="5.5"/><circle cx="1176" cy="1389.7" r="5.5"/><circle cx="1048.9" cy="1436.6" r="5.5"/><circle cx="1048.9" cy="1445.9" r="5.5"/><circle cx="1077.2" cy="1456" r="5.5"/><circle cx="1052.3" cy="1469.1" r="5.5"/><circle cx="1058.2" cy="1490.2" r="5.5"/><circle cx="1055.2" cy="1499.5" r="5.5"/><circle cx="1048.9" cy="1503.7" r="5.5"/><circle cx="1020.6" cy="1520.6" r="5.5"/><circle cx="1020.6" cy="1524" r="5.5"/><circle cx="1077.2" cy="1522.3" r="5.5"/><circle cx="1115.2" cy="1517.6" r="5.5"/><circle cx="1061.5" cy="1638" r="5.5"/><circle cx="1182.3" cy="1654" r="5.5"/><circle cx="1278.1" cy="1657.4" r="5.5"/><circle cx="1287.4" cy="1656.1" r="5.5"/><circle cx="1322.5" cy="1654" r="5.5"/><circle cx="1327.5" cy="1658.2" r="5.5"/><circle cx="1254.9" cy="1649.8" r="5.5"/><circle cx="1384.5" cy="1638" r="5.5"/><circle cx="1331.7" cy="1644.3" r="5.5"/><circle cx="1251.5" cy="1642.2" r="5.5"/><circle cx="1250.7" cy="1628.7" r="5.5"/><circle cx="1263.3" cy="1629.5" r="5.5"/><circle cx="1295.9" cy="1625.3" r="5.5"/><circle cx="1371.9" cy="1629.5" r="5.5"/><circle cx="1415.3" cy="1621.1" r="5.5"/><circle cx="1435.2" cy="1614.7" r="5.5"/><circle cx="1484.6" cy="1628.7" r="5.5"/><circle cx="1484.6" cy="1549.3" r="5.5"/><circle cx="1464.7" cy="1553.5" r="5.5"/><circle cx="1431" cy="1559.9" r="5.5"/><circle cx="1435.2" cy="1564.1" r="5.5"/><circle cx="1409.8" cy="1559.9" r="5.5"/><circle cx="1393" cy="1540.9" r="5.5"/><circle cx="1390.9" cy="1547.2" r="5.5"/><circle cx="1384.5" cy="1547.2" r="5.5"/><circle cx="1293.7" cy="1533.3" r="5.5"/><circle cx="1327.5" cy="1531.6" r="5.5"/><circle cx="1330.9" cy="1528.2" r="5.5"/><circle cx="1328.4" cy="1537.5" r="5.5"/><circle cx="1276" cy="1543.8" r="5.5"/><circle cx="1319.1" cy="1551.4" r="5.5"/><circle cx="1310.6" cy="1555.6" r="5.5"/><circle cx="1133.3" cy="1535.8" r="5.5"/><circle cx="1143.9" cy="1535.4" r="5.5"/><circle cx="1153.6" cy="1536.6" r="5.5"/><circle cx="1124.9" cy="1538.8" r="5.5"/><circle cx="1207.2" cy="1514.3" r="5.5"/><circle cx="1156.5" cy="1512.2" r="5.5"/><circle cx="1179.8" cy="1524" r="5.5"/><circle cx="1192.4" cy="1553.5" r="5.5"/><circle cx="1234.6" cy="1545.1" r="5.5"/><circle cx="1238.9" cy="1547.2" r="5.5"/><circle cx="1249.4" cy="1556.5" r="5.5"/><circle cx="1052.3" cy="1623.2" r="5.5"/><circle cx="1036.2" cy="1613.9" r="5.5"/><circle cx="1023.5" cy="1600.8" r="5.5"/><circle cx="1083.9" cy="1603.3" r="5.5"/><circle cx="1083.9" cy="1611.8" r="5.5"/><circle cx="1116.4" cy="1608.4" r="5.5"/><circle cx="1118.5" cy="1612.6" r="5.5"/><circle cx="1159.5" cy="1615.2" r="5.5"/><circle cx="1178.9" cy="1614.7" r="5.5"/><circle cx="1188.2" cy="1616.9" r="5.5"/><circle cx="1194.5" cy="1619" r="5.5"/><circle cx="1201.7" cy="1633.7" r="5.5"/><circle cx="1182.3" cy="1631.6" r="5.5"/><circle cx="1213.5" cy="1619" r="5.5"/><circle cx="1015.9" cy="1583.5" r="5.5"/><circle cx="1017.4" cy="1584.3" r="5.5"/><circle cx="1018.8" cy="1584" r="5.5"/><circle cx="1020.5" cy="1582.8" r="5.5"/><circle cx="1022.4" cy="1582.8" r="5.5"/><circle cx="1024.2" cy="1582.8" r="5.5"/><circle cx="1025.6" cy="1583.7" r="5.5"/><circle cx="1027.9" cy="1583" r="5.5"/><circle cx="1029.5" cy="1584.3" r="5.5"/><circle cx="1031.9" cy="1584.1" r="5.5"/><circle cx="1033.7" cy="1585.1" r="5.5"/><circle cx="1035" cy="1584.8" r="5.5"/><circle cx="1036.7" cy="1583" r="5.5"/><circle cx="1038.1" cy="1583.4" r="5.5"/><circle cx="1040.4" cy="1583.1" r="5.5"/><circle cx="1042.4" cy="1584.3" r="5.5"/><circle cx="1044.1" cy="1584" r="5.5"/><circle cx="1045.5" cy="1582.8" r="5.5"/><circle cx="1047" cy="1584.4" r="5.5"/><circle cx="1048.8" cy="1583.5" r="5.5"/><circle cx="1050.8" cy="1583.8" r="5.5"/><circle cx="1052.4" cy="1584.7" r="5.5"/><circle cx="1054.6" cy="1583.3" r="5.5"/><circle cx="1056.6" cy="1584" r="5.5"/><circle cx="1059" cy="1584.5" r="5.5"/><circle cx="1060.6" cy="1585.1" r="5.5"/><circle cx="1062" cy="1583.7" r="5.5"/><circle cx="1064.2" cy="1583" r="5.5"/><circle cx="1066.1" cy="1582.8" r="5.5"/><circle cx="1068.2" cy="1584.6" r="5.5"/><circle cx="1070.2" cy="1584.9" r="5.5"/><circle cx="1071.9" cy="1584.4" r="5.5"/><circle cx="1073.9" cy="1584.1" r="5.5"/><circle cx="1075.8" cy="1584.8" r="5.5"/><circle cx="1078.2" cy="1583.9" r="5.5"/><circle cx="1080.3" cy="1582.8" r="5.5"/><circle cx="1082.5" cy="1584.3" r="5.5"/><circle cx="1085" cy="1584.7" r="5.5"/><circle cx="1086.6" cy="1583.6" r="5.5"/><circle cx="1088.8" cy="1582.7" r="5.5"/><circle cx="1090.6" cy="1583.1" r="5.5"/><circle cx="1092" cy="1582.8" r="5.5"/><circle cx="1094.3" cy="1583" r="5.5"/><circle cx="1095.8" cy="1583.7" r="5.5"/><circle cx="1098.2" cy="1582.9" r="5.5"/><circle cx="1100" cy="1584.1" r="5.5"/><circle cx="1102.4" cy="1584.7" r="5.5"/><circle cx="1104.8" cy="1583.4" r="5.5"/><circle cx="1106.6" cy="1583.6" r="5.5"/><circle cx="1109" cy="1585.1" r="5.5"/><circle cx="1110.4" cy="1583.1" r="5.5"/><circle cx="1112" cy="1583.3" r="5.5"/><circle cx="1113.9" cy="1584.2" r="5.5"/><circle cx="1115.5" cy="1582.7" r="5.5"/><circle cx="1117.3" cy="1583.6" r="5.5"/><circle cx="1119.2" cy="1585.1" r="5.5"/><circle cx="1121.4" cy="1584" r="5.5"/><circle cx="1123.4" cy="1584.4" r="5.5"/><circle cx="1124.8" cy="1584.9" r="5.5"/><circle cx="1127" cy="1584.9" r="5.5"/><circle cx="1129.3" cy="1583.7" r="5.5"/><circle cx="1131.1" cy="1582.9" r="5.5"/><circle cx="1133.1" cy="1582.8" r="5.5"/><circle cx="1134.5" cy="1583.2" r="5.5"/><circle cx="1136" cy="1583.5" r="5.5"/><circle cx="1137.3" cy="1582.7" r="5.5"/><circle cx="1138.8" cy="1582.9" r="5.5"/><circle cx="1140.5" cy="1582.7" r="5.5"/><circle cx="1142.9" cy="1584.2" r="5.5"/><circle cx="1144.3" cy="1583.3" r="5.5"/><circle cx="1146" cy="1583.6" r="5.5"/><circle cx="1147.4" cy="1584.8" r="5.5"/><circle cx="1150" cy="1583.8" r="5.5"/><circle cx="1151.9" cy="1582.9" r="5.5"/><circle cx="1153.2" cy="1583.5" r="5.5"/><circle cx="1154.8" cy="1584.8" r="5.5"/><circle cx="1156.3" cy="1582.7" r="5.5"/><circle cx="1158.8" cy="1584" r="5.5"/><circle cx="1160.2" cy="1584" r="5.5"/><circle cx="1161.5" cy="1584" r="5.5"/><circle cx="1164.1" cy="1584.8" r="5.5"/><circle cx="1166.2" cy="1583.3" r="5.5"/><circle cx="1167.9" cy="1583.1" r="5.5"/><circle cx="1170.2" cy="1584" r="5.5"/><circle cx="1172.4" cy="1583.5" r="5.5"/><circle cx="1174" cy="1584.7" r="5.5"/><circle cx="1176.5" cy="1584.8" r="5.5"/><circle cx="1178.8" cy="1584.7" r="5.5"/><circle cx="1181" cy="1583.2" r="5.5"/><circle cx="1182.9" cy="1583.6" r="5.5"/><circle cx="1184.2" cy="1582.7" r="5.5"/><circle cx="1185.8" cy="1583.3" r="5.5"/><circle cx="1188" cy="1585.1" r="5.5"/><circle cx="1189.8" cy="1585" r="5.5"/><circle cx="1192.3" cy="1585.1" r="5.5"/><circle cx="1194.1" cy="1583.2" r="5.5"/><circle cx="1195.6" cy="1583.2" r="5.5"/><circle cx="1197.1" cy="1584.2" r="5.5"/><circle cx="1199.5" cy="1584.8" r="5.5"/><circle cx="1201.4" cy="1584.3" r="5.5"/><circle cx="1203.7" cy="1582.9" r="5.5"/><circle cx="1205.8" cy="1585" r="5.5"/><circle cx="1208.1" cy="1584.6" r="5.5"/><circle cx="1209.9" cy="1583.1" r="5.5"/><circle cx="1212.2" cy="1583.5" r="5.5"/><circle cx="1214.5" cy="1585.1" r="5.5"/><circle cx="1216.2" cy="1583.7" r="5.5"/><circle cx="1218.7" cy="1584.5" r="5.5"/><circle cx="1220.2" cy="1583" r="5.5"/><circle cx="1221.6" cy="1585" r="5.5"/><circle cx="1223.9" cy="1583" r="5.5"/><circle cx="1226.2" cy="1585.1" r="5.5"/><circle cx="1228.3" cy="1583.5" r="5.5"/><circle cx="1230.3" cy="1583" r="5.5"/><circle cx="1231.6" cy="1585.1" r="5.5"/><circle cx="1233.7" cy="1584" r="5.5"/><circle cx="1236.1" cy="1583.8" r="5.5"/><circle cx="1238.5" cy="1584.8" r="5.5"/><circle cx="1240" cy="1583.3" r="5.5"/><circle cx="1241.7" cy="1583.3" r="5.5"/><circle cx="1243.7" cy="1583.3" r="5.5"/><circle cx="1245.5" cy="1583" r="5.5"/><circle cx="1247.9" cy="1583.6" r="5.5"/><circle cx="1249.7" cy="1584.1" r="5.5"/><circle cx="1252.2" cy="1583.7" r="5.5"/><circle cx="1254.6" cy="1583.9" r="5.5"/><circle cx="1256.5" cy="1584" r="5.5"/><circle cx="1257.8" cy="1583.8" r="5.5"/><circle cx="1259.3" cy="1582.7" r="5.5"/><circle cx="1261.6" cy="1583.1" r="5.5"/><circle cx="1263.5" cy="1584.5" r="5.5"/><circle cx="1265.4" cy="1583.5" r="5.5"/><circle cx="1267.4" cy="1584.1" r="5.5"/><circle cx="1269.6" cy="1582.9" r="5.5"/><circle cx="1271.6" cy="1583.3" r="5.5"/><circle cx="1273.2" cy="1584.6" r="5.5"/><circle cx="1275.1" cy="1584.1" r="5.5"/><circle cx="1277.3" cy="1585" r="5.5"/><circle cx="1279.2" cy="1584.2" r="5.5"/><circle cx="1281.1" cy="1584" r="5.5"/><circle cx="1283.2" cy="1583.8" r="5.5"/><circle cx="1285.2" cy="1583.9" r="5.5"/><circle cx="1287.6" cy="1584.4" r="5.5"/><circle cx="1290" cy="1585" r="5.5"/><circle cx="1291.6" cy="1584.1" r="5.5"/><circle cx="1294.1" cy="1584.8" r="5.5"/><circle cx="1295.5" cy="1583" r="5.5"/><circle cx="1297.3" cy="1582.8" r="5.5"/><circle cx="1298.9" cy="1582.8" r="5.5"/><circle cx="1301" cy="1584.6" r="5.5"/><circle cx="1303.4" cy="1583.1" r="5.5"/><circle cx="1305.6" cy="1584.3" r="5.5"/><circle cx="1307" cy="1584.9" r="5.5"/><circle cx="1309.5" cy="1583.2" r="5.5"/><circle cx="1312" cy="1583.7" r="5.5"/><circle cx="1313.9" cy="1585.2" r="5.5"/><circle cx="1316.2" cy="1583.1" r="5.5"/><circle cx="1318" cy="1584" r="5.5"/><circle cx="1319.7" cy="1583.2" r="5.5"/><circle cx="1321.4" cy="1584.5" r="5.5"/><circle cx="1322.7" cy="1584.1" r="5.5"/><circle cx="1324.5" cy="1582.7" r="5.5"/><circle cx="1326.2" cy="1584.2" r="5.5"/><circle cx="1328.1" cy="1582.8" r="5.5"/><circle cx="1330.6" cy="1584.7" r="5.5"/><circle cx="1333.1" cy="1582.9" r="5.5"/><circle cx="1334.7" cy="1582.8" r="5.5"/><circle cx="1337" cy="1583.3" r="5.5"/><circle cx="1338.4" cy="1583.7" r="5.5"/><circle cx="1340.8" cy="1584.7" r="5.5"/><circle cx="1342.4" cy="1583" r="5.5"/><circle cx="1344.8" cy="1584.1" r="5.5"/><circle cx="1347" cy="1582.9" r="5.5"/><circle cx="1348.3" cy="1584.4" r="5.5"/><circle cx="1350.1" cy="1582.8" r="5.5"/><circle cx="1352.6" cy="1584.3" r="5.5"/><circle cx="1354.9" cy="1582.9" r="5.5"/><circle cx="1357.2" cy="1582.8" r="5.5"/><circle cx="1359.6" cy="1583.8" r="5.5"/><circle cx="1361.3" cy="1584.1" r="5.5"/><circle cx="1363.7" cy="1583.3" r="5.5"/><circle cx="1365.2" cy="1584" r="5.5"/><circle cx="1366.7" cy="1582.9" r="5.5"/><circle cx="1368.2" cy="1582.8" r="5.5"/><circle cx="1369.7" cy="1583.5" r="5.5"/><circle cx="1371.4" cy="1584.6" r="5.5"/><circle cx="1373" cy="1583.9" r="5.5"/><circle cx="1374.5" cy="1583.5" r="5.5"/><circle cx="1375.8" cy="1583.3" r="5.5"/><circle cx="1377.1" cy="1584.5" r="5.5"/><circle cx="1379" cy="1583.1" r="5.5"/><circle cx="1380.9" cy="1585" r="5.5"/><circle cx="1382.3" cy="1584.7" r="5.5"/><circle cx="1384.1" cy="1583.9" r="5.5"/><circle cx="1386.4" cy="1583.7" r="5.5"/><circle cx="1388.4" cy="1584.4" r="5.5"/><circle cx="1390.9" cy="1583.5" r="5.5"/><circle cx="1393.2" cy="1584.5" r="5.5"/><circle cx="1395.3" cy="1583.7" r="5.5"/><circle cx="1397" cy="1582.8" r="5.5"/><circle cx="1398.4" cy="1582.8" r="5.5"/><circle cx="1400.6" cy="1583.3" r="5.5"/><circle cx="1402.1" cy="1582.9" r="5.5"/><circle cx="1404.4" cy="1584.9" r="5.5"/><circle cx="1406.5" cy="1583.4" r="5.5"/><circle cx="1408.1" cy="1583.4" r="5.5"/><circle cx="1409.9" cy="1583.1" r="5.5"/><circle cx="1411.8" cy="1583.3" r="5.5"/><circle cx="1414.3" cy="1585.1" r="5.5"/><circle cx="1416.2" cy="1583.3" r="5.5"/><circle cx="1418.7" cy="1583.4" r="5.5"/><circle cx="1420.4" cy="1582.7" r="5.5"/><circle cx="1422.2" cy="1583.9" r="5.5"/><circle cx="1424.1" cy="1583.2" r="5.5"/><circle cx="1426" cy="1582.7" r="5.5"/><circle cx="1427.6" cy="1582.9" r="5.5"/><circle cx="1429.4" cy="1582.8" r="5.5"/><circle cx="1430.7" cy="1583.4" r="5.5"/><circle cx="1432.2" cy="1584.1" r="5.5"/><circle cx="1434.2" cy="1584.6" r="5.5"/><circle cx="1436.3" cy="1584.5" r="5.5"/><circle cx="1438.6" cy="1583.6" r="5.5"/><circle cx="1440.3" cy="1585.2" r="5.5"/><circle cx="1441.8" cy="1584.5" r="5.5"/><circle cx="1443.8" cy="1582.8" r="5.5"/><circle cx="1446.2" cy="1584.9" r="5.5"/><circle cx="1448.2" cy="1584.5" r="5.5"/><circle cx="1450.5" cy="1583" r="5.5"/><circle cx="1452.5" cy="1583.9" r="5.5"/><circle cx="1454.8" cy="1584.7" r="5.5"/><circle cx="1457.1" cy="1584.1" r="5.5"/><circle cx="1459.5" cy="1584.4" r="5.5"/><circle cx="1461.6" cy="1583.2" r="5.5"/><circle cx="1462.9" cy="1583" r="5.5"/><circle cx="1464.7" cy="1582.9" r="5.5"/><circle cx="1467" cy="1584.1" r="5.5"/><circle cx="1469.1" cy="1584.2" r="5.5"/><circle cx="1471.2" cy="1583.9" r="5.5"/><circle cx="1472.5" cy="1584.7" r="5.5"/><circle cx="1474.7" cy="1583.9" r="5.5"/><circle cx="1476.6" cy="1584.3" r="5.5"/><circle cx="1478" cy="1584.5" r="5.5"/><circle cx="1479.5" cy="1582.9" r="5.5"/><circle cx="1481.2" cy="1584.5" r="5.5"/><circle cx="1482.7" cy="1584.5" r="5.5"/><circle cx="1485.2" cy="1583.9" r="5.5"/><circle cx="1486.9" cy="1583.9" r="5.5"/><circle cx="1298.4" cy="1569.4" r="5.5"/><circle cx="1329.6" cy="1595.8" r="5.5"/><circle cx="1282.1" cy="1577.9" r="5.5"/><circle cx="1316.6" cy="1592" r="5.5"/><circle cx="1221.2" cy="1569.8" r="5.5"/><circle cx="1258.2" cy="1610.2" r="5.5"/><circle cx="1241.8" cy="1593.2" r="5.5"/><circle cx="1362.2" cy="1633.6" r="5.5"/><circle cx="1383" cy="1593.5" r="5.5"/><circle cx="1380.2" cy="1588" r="5.5"/><circle cx="1338.7" cy="1610.1" r="5.5"/><circle cx="1261.3" cy="1607.8" r="5.5"/><circle cx="1330.4" cy="1574.2" r="5.5"/><circle cx="1266.7" cy="1580.4" r="5.5"/><circle cx="1265.5" cy="1623" r="5.5"/><circle cx="1290.4" cy="1588.7" r="5.5"/><circle cx="1331.6" cy="1637" r="5.5"/><circle cx="1286.1" cy="1629.8" r="5.5"/><circle cx="1222.8" cy="1602.3" r="5.5"/><circle cx="1242.8" cy="1545.5" r="5.5"/><circle cx="1225.2" cy="1604.5" r="5.5"/><circle cx="1324.5" cy="1593.7" r="5.5"/><circle cx="1239.2" cy="1602.5" r="5.5"/><circle cx="1390.8" cy="1597.3" r="5.5"/><circle cx="1365" cy="1613.4" r="5.5"/><circle cx="1389.5" cy="1584.2" r="5.5"/><circle cx="1422.4" cy="1599.5" r="5.5"/><circle cx="1287.4" cy="1568.5" r="5.5"/><circle cx="1478.5" cy="1619" r="5.5"/><circle cx="1299.5" cy="1583.8" r="5.5"/><circle cx="1424.1" cy="1590" r="5.5"/><circle cx="1414.6" cy="1607.4" r="5.5"/><circle cx="1317.2" cy="1600.8" r="5.5"/><circle cx="1222.8" cy="1591.7" r="5.5"/><circle cx="1382.2" cy="1603.2" r="5.5"/><circle cx="1321.5" cy="1607.7" r="5.5"/><circle cx="1279.3" cy="1612.3" r="5.5"/><circle cx="1285.1" cy="1575" r="5.5"/><circle cx="1200.1" cy="1609.5" r="5.5"/><circle cx="1359.1" cy="1605" r="5.5"/><circle cx="1325.6" cy="1583" r="5.5"/><circle cx="1286.2" cy="1607.7" r="5.5"/><circle cx="1450.4" cy="1582.6" r="5.5"/><circle cx="1307.8" cy="1592.1" r="5.5"/><circle cx="1364.9" cy="1580.5" r="5.5"/><circle cx="1373.7" cy="1591.5" r="5.5"/><circle cx="1365" cy="1563.5" r="5.5"/><circle cx="1285.7" cy="1631.6" r="5.5"/><circle cx="1266.5" cy="1615.5" r="5.5"/><circle cx="1234.3" cy="1593.2" r="5.5"/><circle cx="1187.7" cy="1593.9" r="5.5"/><circle cx="1222.1" cy="1614.2" r="5.5"/><circle cx="1283.9" cy="1614.3" r="5.5"/><circle cx="1311.1" cy="1595.5" r="5.5"/><circle cx="1209.1" cy="1583.6" r="5.5"/><circle cx="1360.3" cy="1592.4" r="5.5"/><circle cx="1408.6" cy="1585.6" r="5.5"/><circle cx="1221.2" cy="1631.9" r="5.5"/><circle cx="1251.4" cy="1590.3" r="5.5"/><circle cx="1302.7" cy="1583.9" r="5.5"/><circle cx="1203" cy="1606.8" r="5.5"/><circle cx="1236.6" cy="1605.8" r="5.5"/><circle cx="1336" cy="1618.7" r="5.5"/><circle cx="1225.2" cy="1591.2" r="5.5"/><circle cx="1223.2" cy="1606.3" r="5.5"/><circle cx="1432.8" cy="1580.5" r="5.5"/><circle cx="1309.5" cy="1602.1" r="5.5"/><circle cx="1175.6" cy="1557.8" r="5.5"/><circle cx="1340.6" cy="1607" r="5.5"/><circle cx="1295.3" cy="1564.7" r="5.5"/><circle cx="1403" cy="1585.5" r="5.5"/><circle cx="1258.2" cy="1600.6" r="5.5"/><circle cx="1284.8" cy="1587.4" r="5.5"/><circle cx="1223.3" cy="1602.3" r="5.5"/><circle cx="1288.6" cy="1592.6" r="5.5"/><circle cx="1463.1" cy="1638.2" r="5.5"/><circle cx="1414.3" cy="1586.9" r="5.5"/><circle cx="1296.9" cy="1634" r="5.5"/><circle cx="1161" cy="1617.3" r="5.5"/><circle cx="1342.6" cy="1607.4" r="5.5"/><circle cx="1292.2" cy="1602.4" r="5.5"/><circle cx="1252.4" cy="1603.3" r="5.5"/><circle cx="1237.3" cy="1613" r="5.5"/><circle cx="1253" cy="1588.6" r="5.5"/><circle cx="1209.7" cy="1592.8" r="5.5"/><circle cx="1319.8" cy="1606.7" r="5.5"/><circle cx="1260.3" cy="1574.6" r="5.5"/><circle cx="1329.4" cy="1603.3" r="5.5"/><circle cx="1431" cy="1603.7" r="5.5"/><circle cx="1248.8" cy="1604" r="5.5"/><circle cx="1292.5" cy="1600.3" r="5.5"/><circle cx="1218.5" cy="1595.4" r="5.5"/><circle cx="1294.5" cy="1570.9" r="5.5"/><circle cx="1354.7" cy="1620.4" r="5.5"/><circle cx="1344.6" cy="1622.2" r="5.5"/><circle cx="1346.9" cy="1591.1" r="5.5"/><circle cx="1408.4" cy="1612.7" r="5.5"/><circle cx="1207.1" cy="1600.2" r="5.5"/><circle cx="1351.8" cy="1610.5" r="5.5"/><circle cx="1436.5" cy="1584.1" r="5.5"/><circle cx="1364.3" cy="1579.9" r="5.5"/><circle cx="1311.2" cy="1639.4" r="5.5"/><circle cx="1273.2" cy="1627.5" r="5.5"/><circle cx="1265.5" cy="1605.5" r="5.5"/><circle cx="1249" cy="1579.7" r="5.5"/><circle cx="1306.9" cy="1598.7" r="5.5"/><circle cx="1271.3" cy="1583.3" r="5.5"/><circle cx="1242.8" cy="1598.4" r="5.5"/><circle cx="1331.8" cy="1617.9" r="5.5"/><circle cx="1364" cy="1592.5" r="5.5"/><circle cx="1315.7" cy="1607.4" r="5.5"/><circle cx="1178.1" cy="1604.5" r="5.5"/><circle cx="1338.2" cy="1607.1" r="5.5"/><circle cx="1254.7" cy="1576" r="5.5"/><circle cx="1207.6" cy="1628.7" r="5.5"/><circle cx="1227.9" cy="1604.5" r="5.5"/><circle cx="1369.6" cy="1601.9" r="5.5"/><circle cx="1226" cy="1626.1" r="5.5"/><circle cx="1292.4" cy="1598.5" r="5.5"/><circle cx="1203.5" cy="1593" r="5.5"/><circle cx="1298.4" cy="1635.8" r="5.5"/><circle cx="1223.9" cy="1580.8" r="5.5"/><circle cx="1329.3" cy="1601.9" r="5.5"/><circle cx="1323.3" cy="1588.1" r="5.5"/><circle cx="1363.4" cy="1635.3" r="5.5"/><circle cx="1436.9" cy="1603.7" r="5.5"/><circle cx="1363.9" cy="1584.4" r="5.5"/><circle cx="1165" cy="1571" r="5.5"/><circle cx="1301.1" cy="1607.6" r="5.5"/><circle cx="1312.2" cy="1620.6" r="5.5"/><circle cx="1348.4" cy="1607.2" r="5.5"/><circle cx="1255.6" cy="1632.8" r="5.5"/><circle cx="1228.3" cy="1609.5" r="5.5"/><circle cx="1194.5" cy="1579.7" r="5.5"/><circle cx="1182.6" cy="1601.7" r="5.5"/><circle cx="1195.3" cy="1597.2" r="5.5"/><circle cx="1220.5" cy="1592.3" r="5.5"/><circle cx="1303.7" cy="1609.9" r="5.5"/><circle cx="1292.4" cy="1616.2" r="5.5"/><circle cx="1186.3" cy="1598.4" r="5.5"/><circle cx="1410.7" cy="1604.4" r="5.5"/><circle cx="1255.8" cy="1591.1" r="5.5"/><circle cx="1436.4" cy="1612.3" r="5.5"/><circle cx="1417.3" cy="1638.5" r="5.5"/><circle cx="1387.8" cy="1589.4" r="5.5"/><circle cx="1331.3" cy="1586.7" r="5.5"/><circle cx="1314.9" cy="1589" r="5.5"/><circle cx="1287.3" cy="1582.1" r="5.5"/><circle cx="1282.5" cy="1594.8" r="5.5"/><circle cx="1352.2" cy="1605.2" r="5.5"/><circle cx="1395.5" cy="1623.5" r="5.5"/><circle cx="1328" cy="1585.6" r="5.5"/><circle cx="1367.1" cy="1604.6" r="5.5"/><circle cx="1424.2" cy="1621" r="5.5"/><circle cx="1410.2" cy="1590.5" r="5.5"/><circle cx="1305.8" cy="1579.5" r="5.5"/><circle cx="1211.2" cy="1584.4" r="5.5"/><circle cx="1350.3" cy="1606.8" r="5.5"/><circle cx="1223.9" cy="1561.9" r="5.5"/><circle cx="1245.7" cy="1611.7" r="5.5"/><circle cx="1295.9" cy="1578.8" r="5.5"/><circle cx="1222.5" cy="1606.8" r="5.5"/><circle cx="1274.5" cy="1606.1" r="5.5"/><circle cx="1318.5" cy="1584.4" r="5.5"/><circle cx="1334.7" cy="1582.3" r="5.5"/><circle cx="1253.5" cy="1583" r="5.5"/><circle cx="1292.8" cy="1612" r="5.5"/><circle cx="1228.6" cy="1616.6" r="5.5"/><circle cx="1195.3" cy="1580.9" r="5.5"/><circle cx="1196.6" cy="1600.6" r="5.5"/><circle cx="1271.6" cy="1615.8" r="5.5"/><circle cx="1323.2" cy="1612.4" r="5.5"/><circle cx="1183" cy="1568.7" r="5.5"/><circle cx="1276.6" cy="1596.3" r="5.5"/><circle cx="1314.2" cy="1619.5" r="5.5"/><circle cx="1280.3" cy="1612.1" r="5.5"/><circle cx="1324.9" cy="1605.6" r="5.5"/><circle cx="1304.7" cy="1581" r="5.5"/><circle cx="1274" cy="1611.8" r="5.5"/><circle cx="1311.1" cy="1572.6" r="5.5"/><circle cx="1322.9" cy="1601" r="5.5"/><circle cx="1350.2" cy="1590" r="5.5"/><circle cx="1200.5" cy="1624.9" r="5.5"/><circle cx="1216.6" cy="1583.2" r="5.5"/><circle cx="1358.6" cy="1570.6" r="5.5"/><circle cx="1340" cy="1607.7" r="5.5"/><circle cx="1259.7" cy="1587" r="5.5"/><circle cx="1298" cy="1617.5" r="5.5"/><circle cx="1250.1" cy="1603.9" r="5.5"/><circle cx="1241" cy="1570.2" r="5.5"/><circle cx="1282.6" cy="1585.6" r="5.5"/><circle cx="1409.1" cy="1596.1" r="5.5"/><circle cx="1264.6" cy="1626" r="5.5"/><circle cx="1297.2" cy="1622.2" r="5.5"/><circle cx="1317.9" cy="1595.8" r="5.5"/><circle cx="1307" cy="1605" r="5.5"/><circle cx="1353" cy="1593.1" r="5.5"/><circle cx="1267.2" cy="1576.5" r="5.5"/><circle cx="1387.6" cy="1587.3" r="5.5"/><circle cx="1268.9" cy="1588.8" r="5.5"/><circle cx="1344.7" cy="1577.2" r="5.5"/><circle cx="1399" cy="1641.1" r="5.5"/><circle cx="1308.3" cy="1610.6" r="5.5"/><circle cx="1428.8" cy="1593" r="5.5"/><circle cx="1284.2" cy="1602" r="5.5"/><circle cx="1288.1" cy="1589" r="5.5"/><circle cx="1315.5" cy="1615.8" r="5.5"/><circle cx="1382.5" cy="1607.7" r="5.5"/><circle cx="1314" cy="1569.6" r="5.5"/><circle cx="1213" cy="1603.6" r="5.5"/><circle cx="1272.4" cy="1594.9" r="5.5"/><circle cx="1352" cy="1575.9" r="5.5"/><circle cx="1284.7" cy="1593.4" r="5.5"/><circle cx="1383.3" cy="1592.3" r="5.5"/><circle cx="1239.6" cy="1617.1" r="5.5"/><circle cx="1331.4" cy="1606.6" r="5.5"/><circle cx="1244.9" cy="1587.6" r="5.5"/><circle cx="1334.4" cy="1610.4" r="5.5"/><circle cx="1416.3" cy="1610.1" r="5.5"/><circle cx="1286.5" cy="1605.8" r="5.5"/><circle cx="1327.3" cy="1633.7" r="5.5"/><circle cx="1263" cy="1632.2" r="5.5"/><circle cx="1454.6" cy="1598.8" r="5.5"/><circle cx="1327.2" cy="1605.6" r="5.5"/><circle cx="1369.9" cy="1607.4" r="5.5"/><circle cx="1304.2" cy="1585" r="5.5"/><circle cx="1187.4" cy="1605.2" r="5.5"/><circle cx="1379.1" cy="1589.5" r="5.5"/><circle cx="1219.2" cy="1581.4" r="5.5"/><circle cx="1315.7" cy="1611.7" r="5.5"/><circle cx="1230.9" cy="1570.8" r="5.5"/><circle cx="1237.2" cy="1632.2" r="5.5"/><circle cx="1360.3" cy="1586.3" r="5.5"/><circle cx="1198.4" cy="1568.6" r="5.5"/><circle cx="1309.7" cy="1590.8" r="5.5"/><circle cx="1367.5" cy="1615.2" r="5.5"/><circle cx="1244.7" cy="1590.6" r="5.5"/><circle cx="1249.4" cy="1568.7" r="5.5"/><circle cx="1275.6" cy="1575.2" r="5.5"/><circle cx="1272.9" cy="1597.6" r="5.5"/><circle cx="1415.7" cy="1592.2" r="5.5"/><circle cx="1240.1" cy="1588.2" r="5.5"/><circle cx="1309.2" cy="1589.4" r="5.5"/><circle cx="1293.9" cy="1569.7" r="5.5"/><circle cx="1351" cy="1590.4" r="5.5"/><circle cx="1348.2" cy="1609.5" r="5.5"/><circle cx="1313.4" cy="1625.1" r="5.5"/><circle cx="1396.7" cy="1599.8" r="5.5"/><circle cx="1319.6" cy="1632.4" r="5.5"/><circle cx="1254.6" cy="1609.9" r="5.5"/><circle cx="1213.5" cy="1599" r="5.5"/><circle cx="1228.9" cy="1622.2" r="5.5"/><circle cx="1427.1" cy="1592" r="5.5"/><circle cx="1287.7" cy="1605.1" r="5.5"/><circle cx="1340.1" cy="1567.6" r="5.5"/><circle cx="1440.3" cy="1619.7" r="5.5"/><circle cx="1343.7" cy="1593.4" r="5.5"/><circle cx="1237.6" cy="1602.7" r="5.5"/><circle cx="1408.9" cy="1584.5" r="5.5"/><circle cx="1324.8" cy="1603.2" r="5.5"/><circle cx="1204.6" cy="1621.2" r="5.5"/><circle cx="1379.4" cy="1577.6" r="5.5"/><circle cx="1316.4" cy="1582.5" r="5.5"/><circle cx="1257.2" cy="1560.8" r="5.5"/><circle cx="1354.4" cy="1615.3" r="5.5"/><circle cx="1254.6" cy="1591.8" r="5.5"/><circle cx="1348.8" cy="1606.2" r="5.5"/><circle cx="1241.8" cy="1622.3" r="5.5"/><circle cx="1292.4" cy="1569.6" r="5.5"/><circle cx="1235.1" cy="1579.7" r="5.5"/><circle cx="1350.6" cy="1611.9" r="5.5"/><circle cx="1342.9" cy="1613.2" r="5.5"/><circle cx="1307" cy="1604.6" r="5.5"/><circle cx="1252.2" cy="1573.1" r="5.5"/><circle cx="1278.5" cy="1616.5" r="5.5"/><circle cx="1315.1" cy="1574.7" r="5.5"/><circle cx="1435" cy="1572.2" r="5.5"/><circle cx="1302.6" cy="1595.7" r="5.5"/><circle cx="1377.2" cy="1563.2" r="5.5"/><circle cx="1230" cy="1599.2" r="5.5"/><circle cx="1205.7" cy="1548" r="5.5"/><circle cx="1275.6" cy="1595.3" r="5.5"/><circle cx="1208.6" cy="1572" r="5.5"/><circle cx="1220.3" cy="1616.4" r="5.5"/><circle cx="1320.7" cy="1586.6" r="5.5"/><circle cx="1277.3" cy="1601.9" r="5.5"/><circle cx="1287.5" cy="1573.3" r="5.5"/><circle cx="1191.6" cy="1577.2" r="5.5"/><circle cx="1175.1" cy="1577.7" r="5.5"/><circle cx="1324.6" cy="1607.9" r="5.5"/><circle cx="1315.5" cy="1556.4" r="5.5"/><circle cx="1406.3" cy="1580.1" r="5.5"/><circle cx="1259.2" cy="1579.1" r="5.5"/><circle cx="1321.9" cy="1638.2" r="5.5"/><circle cx="1262.4" cy="1610.2" r="5.5"/><circle cx="1271.2" cy="1592.4" r="5.5"/><circle cx="1195" cy="1594.1" r="5.5"/><circle cx="1297.2" cy="1632" r="5.5"/><circle cx="1289.3" cy="1638" r="5.5"/><circle cx="1317.1" cy="1603" r="5.5"/><circle cx="1220.5" cy="1613.5" r="5.5"/><circle cx="1306.4" cy="1566.4" r="5.5"/><circle cx="1280.6" cy="1584.8" r="5.5"/><circle cx="1260.3" cy="1574.3" r="5.5"/><circle cx="1279.5" cy="1632.9" r="5.5"/><circle cx="1300.5" cy="1591.7" r="5.5"/><circle cx="1300.1" cy="1585.6" r="5.5"/><circle cx="1278.4" cy="1581.9" r="5.5"/><circle cx="1254.3" cy="1592" r="5.5"/><circle cx="1200.4" cy="1605.9" r="5.5"/><circle cx="1204.8" cy="1580.1" r="5.5"/><circle cx="1218.2" cy="1600.2" r="5.5"/><circle cx="1218" cy="1632.4" r="5.5"/><circle cx="1262.8" cy="1598.3" r="5.5"/><circle cx="1214.9" cy="1621.5" r="5.5"/><circle cx="1261.7" cy="1585.4" r="5.5"/><circle cx="1372.8" cy="1574.1" r="5.5"/><circle cx="1379.6" cy="1614.7" r="5.5"/><circle cx="1187.6" cy="1590.2" r="5.5"/><circle cx="1377.9" cy="1640.4" r="5.5"/><circle cx="1366.2" cy="1566.1" r="5.5"/><circle cx="1221.5" cy="1585.9" r="5.5"/><circle cx="1332.5" cy="1568.7" r="5.5"/><circle cx="1263.9" cy="1597.1" r="5.5"/><circle cx="1302.7" cy="1581.3" r="5.5"/><circle cx="1344.2" cy="1586.7" r="5.5"/><circle cx="1241.7" cy="1601" r="5.5"/><circle cx="1433.1" cy="1622.6" r="5.5"/><circle cx="1338.4" cy="1639.5" r="5.5"/><circle cx="1271.5" cy="1612.8" r="5.5"/><circle cx="1259.8" cy="1577" r="5.5"/><circle cx="1197.8" cy="1620.4" r="5.5"/><circle cx="1283.8" cy="1609.4" r="5.5"/><circle cx="1362.9" cy="1603.6" r="5.5"/><circle cx="1384.7" cy="1600.5" r="5.5"/><circle cx="1462.8" cy="1589.6" r="5.5"/><circle cx="1222.3" cy="1586.4" r="5.5"/><circle cx="1381.6" cy="1594.7" r="5.5"/><circle cx="1284.7" cy="1603.7" r="5.5"/><circle cx="1318.9" cy="1611" r="5.5"/><circle cx="1321" cy="1553.9" r="5.5"/><circle cx="1341" cy="1611.5" r="5.5"/><circle cx="1332.3" cy="1621.1" r="5.5"/><circle cx="1438.8" cy="1570.4" r="5.5"/><circle cx="1235.3" cy="1583.8" r="5.5"/><circle cx="1207.7" cy="1613.9" r="5.5"/><circle cx="1351.5" cy="1594.5" r="5.5"/><circle cx="1442.7" cy="1571.6" r="5.5"/><circle cx="1434.3" cy="1599.7" r="5.5"/><circle cx="1331.9" cy="1594.6" r="5.5"/><circle cx="1409" cy="1582.6" r="5.5"/><circle cx="1020.7" cy="1519.1" r="5.5"/><circle cx="1020.7" cy="1523.5" r="5.5"/><circle cx="1029.9" cy="1529.6" r="5.5"/><circle cx="1029.9" cy="1541.8" r="5.5"/><circle cx="1048.9" cy="1532.2" r="5.5"/><circle cx="1048.9" cy="1537.4" r="5.5"/><circle cx="1048.9" cy="1552.2" r="5.5"/><circle cx="1067.7" cy="1541.8" r="5.5"/><circle cx="1071.1" cy="1546.1" r="5.5"/><circle cx="1077.2" cy="1522.6" r="5.5"/><circle cx="1089.9" cy="1550.5" r="5.5"/><circle cx="1096.4" cy="1558.3" r="5.5"/><circle cx="1058.1" cy="1561.8" r="5.5"/><circle cx="1068.2" cy="1564" r="5.5"/><circle cx="1077.2" cy="1571.3" r="5.5"/><circle cx="1089.9" cy="1571.3" r="5.5"/><circle cx="1105.6" cy="1567" r="5.5"/><circle cx="1115.5" cy="1517.4" r="5.5"/><circle cx="1156.4" cy="1512.2" r="5.5"/><circle cx="1105.1" cy="1526.1" r="5.5"/><circle cx="1115.5" cy="1545.2" r="5.5"/><circle cx="1125.1" cy="1537.4" r="5.5"/><circle cx="1134.3" cy="1536.5" r="5.5"/><circle cx="1143.7" cy="1535.7" r="5.5"/><circle cx="1152.9" cy="1537.4" r="5.5"/><circle cx="1152.9" cy="1558.3" r="5.5"/><circle cx="1134.3" cy="1566.1" r="5.5"/><circle cx="1029.4" cy="1574.8" r="5.5"/><circle cx="1038.9" cy="1567.9" r="5.5"/><circle cx="1061.6" cy="1579.2" r="5.5"/><circle cx="1068.5" cy="1581.8" r="5.5"/><circle cx="1079" cy="1585.3" r="5.5"/><circle cx="1106.8" cy="1576.6" r="5.5"/><circle cx="1115.5" cy="1573.1" r="5.5"/><circle cx="1129.4" cy="1576.6" r="5.5"/><circle cx="1138.1" cy="1581.8" r="5.5"/><circle cx="1141.6" cy="1590.5" r="5.5"/><circle cx="1150.3" cy="1597.4" r="5.5"/><circle cx="1023.6" cy="1600.9" r="5.5"/><circle cx="1036.3" cy="1614" r="5.5"/><circle cx="1052" cy="1605.3" r="5.5"/><circle cx="1048.9" cy="1608.8" r="5.5"/><circle cx="1052" cy="1623.5" r="5.5"/><circle cx="1061.6" cy="1638.3" r="5.5"/><circle cx="1083.3" cy="1603.5" r="5.5"/><circle cx="1083.3" cy="1612.2" r="5.5"/><circle cx="1079.8" cy="1594" r="5.5"/><circle cx="1105.6" cy="1594.8" r="5.5"/><circle cx="1115.5" cy="1607.9" r="5.5"/><circle cx="1118.6" cy="1613.1" r="5.5"/><circle cx="1139.9" cy="1598.3" r="5.5"/><circle cx="1149.4" cy="1599.2" r="5.5"/><circle cx="1037.2" cy="1592.2" r="5.5"/><circle cx="1042.4" cy="1594" r="5.5"/><circle cx="1020.7" cy="1590.5" r="5.5"/><circle cx="1046.8" cy="1590.5" r="5.5"/><circle cx="1159.5" cy="1614.8" r="5.5"/><circle cx="1179" cy="1614.8" r="5.5"/><circle cx="1189.5" cy="1615.7" r="5.5"/><circle cx="1193.8" cy="1618.3" r="5.5"/><circle cx="1169.4" cy="1594" r="5.5"/><circle cx="1176.4" cy="1597.4" r="5.5"/><circle cx="1159" cy="1587" r="5.5"/><circle cx="1166.8" cy="1553.9" r="5.5"/><circle cx="1162.5" cy="1565.3" r="5.5"/><circle cx="1172.1" cy="1544.4" r="5.5"/><circle cx="1181.6" cy="1557.4" r="5.5"/><circle cx="1179.9" cy="1523.5" r="5.5"/><circle cx="1484.7" cy="1610.5" r="5.5"/><circle cx="1483.9" cy="1580.3" r="5.5"/><circle cx="1484.2" cy="1566.4" r="5.5"/><circle cx="1484.5" cy="1569.5" r="5.5"/><circle cx="1484.1" cy="1567.7" r="5.5"/><circle cx="1484.9" cy="1558.6" r="5.5"/><circle cx="1484.9" cy="1571.3" r="5.5"/><circle cx="1483.8" cy="1622.4" r="5.5"/><circle cx="1484.1" cy="1622.8" r="5.5"/><circle cx="1485.2" cy="1619.7" r="5.5"/><circle cx="1484" cy="1588.9" r="5.5"/><circle cx="1483.9" cy="1622.5" r="5.5"/><circle cx="1485.2" cy="1601.5" r="5.5"/><circle cx="1484.5" cy="1581.4" r="5.5"/><circle cx="1485.1" cy="1591" r="5.5"/><circle cx="1484.8" cy="1567.7" r="5.5"/><circle cx="1484.1" cy="1561.7" r="5.5"/><circle cx="1484.9" cy="1596.3" r="5.5"/><circle cx="1484" cy="1618.4" r="5.5"/><circle cx="1484.2" cy="1586.4" r="5.5"/><circle cx="1484" cy="1576.6" r="5.5"/><circle cx="1485.1" cy="1581.1" r="5.5"/><circle cx="1484" cy="1592" r="5.5"/><circle cx="1484.3" cy="1620.7" r="5.5"/><circle cx="1483.9" cy="1625.9" r="5.5"/><circle cx="1483.8" cy="1620.1" r="5.5"/><circle cx="1484.9" cy="1572.5" r="5.5"/><circle cx="1484.5" cy="1577.7" r="5.5"/><circle cx="1426.2" cy="1589.8" r="5.5"/><circle cx="1478.9" cy="1597.2" r="5.5"/><circle cx="1479.4" cy="1591.2" r="5.5"/><circle cx="1428.5" cy="1584" r="5.5"/><circle cx="1472.1" cy="1604.3" r="5.5"/><circle cx="1428.8" cy="1593.2" r="5.5"/><circle cx="1478" cy="1607.8" r="5.5"/><circle cx="1432.2" cy="1588.6" r="5.5"/><circle cx="1417.8" cy="1608.8" r="5.5"/><circle cx="1445.5" cy="1586.7" r="5.5"/><circle cx="1421.1" cy="1562.5" r="5.5"/><circle cx="1423.4" cy="1596.8" r="5.5"/><circle cx="1448.7" cy="1591.3" r="5.5"/><circle cx="1463" cy="1592.1" r="5.5"/><circle cx="1458.8" cy="1588" r="5.5"/><circle cx="1414" cy="1591" r="5.5"/><circle cx="1451.4" cy="1577" r="5.5"/><circle cx="1422.5" cy="1586.7" r="5.5"/><circle cx="1451.7" cy="1580.8" r="5.5"/><circle cx="1449.6" cy="1565.6" r="5.5"/><circle cx="1422.3" cy="1604.1" r="5.5"/><circle cx="1437" cy="1594.2" r="5.5"/><circle cx="1459.5" cy="1606.7" r="5.5"/><circle cx="1431.8" cy="1593.8" r="5.5"/><circle cx="1468.2" cy="1595.5" r="5.5"/><circle cx="1408.8" cy="1576.1" r="5.5"/><circle cx="1473.1" cy="1562.7" r="5.5"/><circle cx="1426.8" cy="1590" r="5.5"/><circle cx="1421.1" cy="1592" r="5.5"/><circle cx="1419.5" cy="1576.6" r="5.5"/><circle cx="1434.4" cy="1585.5" r="5.5"/><circle cx="1445" cy="1585.8" r="5.5"/><circle cx="1439.7" cy="1580.5" r="5.5"/><circle cx="1459" cy="1585.9" r="5.5"/><circle cx="1466.3" cy="1593.4" r="5.5"/><circle cx="1458.8" cy="1578.7" r="5.5"/><circle cx="1435.1" cy="1586.5" r="5.5"/><circle cx="1470.4" cy="1582.3" r="5.5"/><circle cx="1476.2" cy="1572.3" r="5.5"/><circle cx="1445.8" cy="1586.9" r="5.5"/></g>
<g fill="#2B2F7D"><circle cx="1020.6" cy="1340.3" r="5.6"/><circle cx="1039.6" cy="1362.3" r="5.6"/><circle cx="1029.9" cy="1383" r="5.6"/><circle cx="1029.9" cy="1398.2" r="5.6"/><circle cx="1020.6" cy="1430.3" r="5.6"/><circle cx="1029.9" cy="1427.7" r="5.6"/><circle cx="1039.6" cy="1431.5" r="5.6"/><circle cx="1020.6" cy="1450.5" r="5.6"/><circle cx="1048.9" cy="1451.4" r="5.6"/><circle cx="1067.9" cy="1440.4" r="5.6"/><circle cx="1077.2" cy="1408.3" r="5.6"/><circle cx="1105.9" cy="1404.1" r="5.6"/><circle cx="1020.6" cy="1471.6" r="5.6"/><circle cx="1029.9" cy="1483.4" r="5.6"/><circle cx="1043" cy="1479.6" r="5.6"/><circle cx="1048.9" cy="1486" r="5.6"/><circle cx="1105.9" cy="1491.5" r="5.6"/><circle cx="1105.9" cy="1498.2" r="5.6"/><circle cx="1134.2" cy="1502" r="5.6"/><circle cx="1156.1" cy="1505.4" r="5.6"/><circle cx="1213.1" cy="1500.3" r="5.6"/><circle cx="1356.2" cy="1487.2" r="5.6"/><circle cx="1112.2" cy="1521.9" r="5.6"/><circle cx="1105.9" cy="1531.6" r="5.6"/><circle cx="1096.6" cy="1535.4" r="5.6"/><circle cx="1105.9" cy="1544.2" r="5.6"/><circle cx="1124.9" cy="1548" r="5.6"/><circle cx="1067.9" cy="1551" r="5.6"/><circle cx="1026.9" cy="1534.5" r="5.6"/><circle cx="1030.3" cy="1533.3" r="5.6"/><circle cx="1043" cy="1558.2" r="5.6"/><circle cx="1048.9" cy="1569.2" r="5.6"/><circle cx="1096.6" cy="1564.5" r="5.6"/><circle cx="1039.6" cy="1577.6" r="5.6"/><circle cx="1020.6" cy="1583.9" r="5.6"/><circle cx="1026.9" cy="1583.9" r="5.6"/><circle cx="1036.2" cy="1583.9" r="5.6"/><circle cx="1048.9" cy="1583.9" r="5.6"/><circle cx="1096.6" cy="1583.9" r="5.6"/><circle cx="1105.9" cy="1583.9" r="5.6"/><circle cx="1124.9" cy="1582.2" r="5.6"/><circle cx="1143.4" cy="1569.6" r="5.6"/><circle cx="1153.2" cy="1572.5" r="5.6"/><circle cx="1150.2" cy="1583.9" r="5.6"/><circle cx="1159.5" cy="1583.9" r="5.6"/><circle cx="1162.4" cy="1578.9" r="5.6"/><circle cx="1168.8" cy="1555.6" r="5.6"/><circle cx="1175.1" cy="1557.8" r="5.6"/><circle cx="1181.4" cy="1562" r="5.6"/><circle cx="1178.5" cy="1529.5" r="5.6"/><circle cx="1180.6" cy="1538.8" r="5.6"/><circle cx="1188.6" cy="1532.8" r="5.6"/><circle cx="1201.7" cy="1518.1" r="5.6"/><circle cx="1216.1" cy="1537.5" r="5.6"/><circle cx="1214" cy="1551" r="5.6"/><circle cx="1204.2" cy="1555.6" r="5.6"/><circle cx="1203" cy="1559" r="5.6"/><circle cx="1228.7" cy="1556.1" r="5.6"/><circle cx="1268.8" cy="1521" r="5.6"/><circle cx="1254.9" cy="1547.6" r="5.6"/><circle cx="1346.9" cy="1544.7" r="5.6"/><circle cx="1356.2" cy="1560.3" r="5.6"/><circle cx="1484.6" cy="1526.1" r="5.6"/><circle cx="1484.6" cy="1574.6" r="5.6"/><circle cx="1484.6" cy="1578.9" r="5.6"/><circle cx="1484.6" cy="1583.9" r="5.6"/><circle cx="1484.6" cy="1588.1" r="5.6"/><circle cx="1469.4" cy="1612.6" r="5.6"/><circle cx="1484.6" cy="1619" r="5.6"/><circle cx="1436.9" cy="1593.6" r="5.6"/><circle cx="1415.3" cy="1579.7" r="5.6"/><circle cx="1415.3" cy="1588.6" r="5.6"/><circle cx="1399.3" cy="1578" r="5.6"/><circle cx="1394.2" cy="1579.3" r="5.6"/><circle cx="1387.9" cy="1589" r="5.6"/><circle cx="1384.5" cy="1581" r="5.6"/><circle cx="1378.2" cy="1591.9" r="5.6"/><circle cx="1373.1" cy="1565.4" r="5.6"/><circle cx="1375.2" cy="1575.9" r="5.6"/><circle cx="1365.5" cy="1583.9" r="5.6"/><circle cx="1356.2" cy="1582.2" r="5.6"/><circle cx="1349.9" cy="1587.3" r="5.6"/><circle cx="1340.2" cy="1582.2" r="5.6"/><circle cx="1338.1" cy="1574.6" r="5.6"/><circle cx="1328.8" cy="1567.9" r="5.6"/><circle cx="1327.5" cy="1583.9" r="5.6"/><circle cx="1323.3" cy="1594.9" r="5.6"/><circle cx="1319.1" cy="1589.4" r="5.6"/><circle cx="1309.8" cy="1583.9" r="5.6"/><circle cx="1295.9" cy="1583.9" r="5.6"/><circle cx="1292.9" cy="1599.1" r="5.6"/><circle cx="1283.2" cy="1583.9" r="5.6"/><circle cx="1280.2" cy="1576.8" r="5.6"/><circle cx="1273.9" cy="1572.5" r="5.6"/><circle cx="1270.5" cy="1583.9" r="5.6"/><circle cx="1261.2" cy="1587.3" r="5.6"/><circle cx="1259.1" cy="1578.9" r="5.6"/><circle cx="1251.5" cy="1600" r="5.6"/><circle cx="1248.6" cy="1603.3" r="5.6"/><circle cx="1245.2" cy="1581" r="5.6"/><circle cx="1238.9" cy="1567.9" r="5.6"/><circle cx="1235.9" cy="1583.9" r="5.6"/><circle cx="1229.6" cy="1569.6" r="5.6"/><circle cx="1226.2" cy="1589.8" r="5.6"/><circle cx="1219.9" cy="1587.3" r="5.6"/><circle cx="1216.9" cy="1583.9" r="5.6"/><circle cx="1210.6" cy="1587.3" r="5.6"/><circle cx="1207.2" cy="1570.4" r="5.6"/><circle cx="1205.1" cy="1564.1" r="5.6"/><circle cx="1204.2" cy="1583.9" r="5.6"/><circle cx="1200.9" cy="1568.7" r="5.6"/><circle cx="1197.9" cy="1583.9" r="5.6"/><circle cx="1194.5" cy="1588.1" r="5.6"/><circle cx="1191.6" cy="1593.6" r="5.6"/><circle cx="1185.2" cy="1599.1" r="5.6"/><circle cx="1188.2" cy="1583.9" r="5.6"/><circle cx="1181.9" cy="1583.9" r="5.6"/><circle cx="1178.9" cy="1590.7" r="5.6"/><circle cx="1175.5" cy="1583.9" r="5.6"/><circle cx="1172.2" cy="1571.3" r="5.6"/><circle cx="1169.2" cy="1570.4" r="5.6"/><circle cx="1165.8" cy="1583.9" r="5.6"/><circle cx="1162.4" cy="1583.9" r="5.6"/><circle cx="1206.8" cy="1590.7" r="5.6"/><circle cx="1210.2" cy="1579.7" r="5.6"/><circle cx="1222.8" cy="1591.5" r="5.6"/><circle cx="1232.5" cy="1583.1" r="5.6"/><circle cx="1242.2" cy="1585.6" r="5.6"/><circle cx="1264.2" cy="1585.2" r="5.6"/><circle cx="1276.9" cy="1578.9" r="5.6"/><circle cx="1331.7" cy="1586.5" r="5.6"/><circle cx="1335.1" cy="1581" r="5.6"/><circle cx="1344.4" cy="1585.6" r="5.6"/><circle cx="1361.3" cy="1583.1" r="5.6"/><circle cx="1369.7" cy="1585.6" r="5.6"/><circle cx="1382.4" cy="1583.9" r="5.6"/><circle cx="1390.9" cy="1581" r="5.6"/></g>
<rect x="987.6" y="1281.6" width="520.6" height="392.2" fill="none" stroke="#000" stroke-width="1.3"/>
<path d="M977,1356.4H987.6" stroke="#222" stroke-width="1.3"/>
<text x="962.5" y="1366.1" font-size="27" text-anchor="end" stroke="#000">80</text>
<path d="M977,1470.4H987.6" stroke="#222" stroke-width="1.3"/>
<text x="962.5" y="1480.1" font-size="27" text-anchor="end" stroke="#000">40</text>
<path d="M977,1584.3H987.6" stroke="#222" stroke-width="1.3"/>
<text x="962.5" y="1594" font-size="27" text-anchor="end" stroke="#000">0</text>
<path d="M1011.5,1673.8V1684.5" stroke="#222" stroke-width="1.3"/>
<text x="1011.5" y="1718.5" font-size="27" text-anchor="middle" stroke="#000">0</text>
<path d="M1168.7,1673.8V1684.5" stroke="#222" stroke-width="1.3"/>
<text x="1168.7" y="1718.5" font-size="27" text-anchor="middle" stroke="#000">50</text>
<path d="M1326.7,1673.8V1684.5" stroke="#222" stroke-width="1.3"/>
<text x="1326.7" y="1718.5" font-size="27" text-anchor="middle" stroke="#000">200</text>
<path d="M1484.6,1673.8V1684.5" stroke="#222" stroke-width="1.3"/>
<text x="1484.6" y="1718.5" font-size="27" text-anchor="middle" stroke="#000">1,000</text>
<text x="1253.5" y="1756" font-size="27" text-anchor="middle" stroke="#000">Exon length (nt)</text>
<text transform="translate(916,1481) rotate(-90)" font-size="27" text-anchor="middle" stroke="#000">ΔPSI</text>
<circle cx="1351.6" cy="1317.4" r="7" fill="#2B2F7D"/>
<circle cx="1351.6" cy="1363.6" r="7" fill="#CDCDCD"/>
<text x="1370" y="1326" font-size="27" stroke="#000">Neural</text>
<text x="1370" y="1372.2" font-size="27" stroke="#000">Other</text>
</g>
</svg>
</body></html>
